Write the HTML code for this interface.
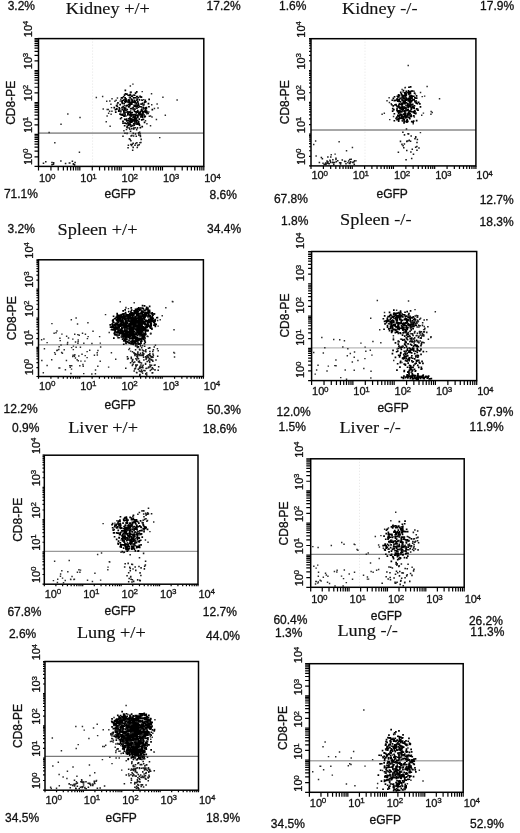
<!DOCTYPE html><html><head><meta charset="utf-8"><title>FACS</title><style>html,body{margin:0;padding:0;background:#fff;width:520px;height:833px;overflow:hidden}svg{display:block;filter:blur(0.35px)}text{font-kerning:none}text[font-family="Liberation Sans"]{stroke:#111;stroke-width:.3px}text[font-family="Liberation Serif"]{stroke:#111;stroke-width:.15px}</style></head><body><svg width="520" height="833" viewBox="0 0 520 833">
<rect width="520" height="833" fill="#fff"/>
<path d="M38.50 166.40v4M38.50 166.40h-4M50.94 166.40v4M38.50 156.78h-4M58.22 166.40v4M38.50 151.16h-4M63.38 166.40v4M38.50 147.16h-4M67.38 166.40v4M38.50 144.07h-4M70.66 166.40v4M38.50 141.54h-4M73.42 166.40v4M38.50 139.40h-4M75.82 166.40v4M38.50 137.55h-4M77.93 166.40v4M38.50 135.91h-4M79.83 166.40v4M38.50 134.45h-4M92.27 166.40v4M38.50 124.83h-4M99.54 166.40v4M38.50 119.21h-4M104.71 166.40v4M38.50 115.21h-4M108.71 166.40v4M38.50 112.12h-4M111.98 166.40v4M38.50 109.59h-4M114.75 166.40v4M38.50 107.45h-4M117.15 166.40v4M38.50 105.60h-4M119.26 166.40v4M38.50 103.96h-4M121.15 166.40v4M38.50 102.50h-4M133.59 166.40v4M38.50 92.88h-4M140.87 166.40v4M38.50 87.26h-4M146.03 166.40v4M38.50 83.26h-4M150.03 166.40v4M38.50 80.17h-4M153.31 166.40v4M38.50 77.64h-4M156.07 166.40v4M38.50 75.50h-4M158.47 166.40v4M38.50 73.65h-4M160.58 166.40v4M38.50 72.01h-4M162.48 166.40v4M38.50 70.55h-4M174.92 166.40v4M38.50 60.93h-4M182.19 166.40v4M38.50 55.31h-4M187.36 166.40v4M38.50 51.31h-4M191.36 166.40v4M38.50 48.22h-4M194.63 166.40v4M38.50 45.69h-4M197.40 166.40v4M38.50 43.55h-4M199.80 166.40v4M38.50 41.70h-4M201.91 166.40v4M38.50 40.06h-4M203.80 166.40v4M38.50 38.60h-4" stroke="#000" stroke-width="1.2" fill="none"/>
<line x1="92.6" y1="38.6" x2="92.6" y2="166.4" stroke="#ddd" stroke-width="0.8" stroke-dasharray="1 2"/>
<line x1="38.5" y1="133.1" x2="203.8" y2="133.1" stroke="#9a9a9a" stroke-width="1.8"/>
<path d="M142.2 112.1h1.7v1.7h-1.7zM132.3 106.8h1.7v1.7h-1.7zM135.5 102.3h1.7v1.7h-1.7zM136.3 98.6h1.7v1.7h-1.7zM142.4 106.6h1.7v1.7h-1.7zM134.2 117.6h1.7v1.7h-1.7zM137.8 112.3h1.7v1.7h-1.7zM123.4 112.5h1.7v1.7h-1.7zM124.7 101.3h1.7v1.7h-1.7zM124.2 113.4h1.7v1.7h-1.7zM124.8 99.4h1.7v1.7h-1.7zM137.0 115.5h1.7v1.7h-1.7zM130.3 107.8h1.7v1.7h-1.7zM123.1 111.2h1.7v1.7h-1.7zM130.7 95.3h1.7v1.7h-1.7zM130.9 103.0h1.7v1.7h-1.7zM141.5 110.2h1.7v1.7h-1.7zM141.3 115.5h1.7v1.7h-1.7zM141.9 114.6h1.7v1.7h-1.7zM135.3 111.0h1.7v1.7h-1.7zM141.0 108.5h1.7v1.7h-1.7zM123.9 100.9h1.7v1.7h-1.7zM121.6 101.7h1.7v1.7h-1.7zM141.1 113.3h1.7v1.7h-1.7zM146.1 111.1h1.7v1.7h-1.7zM135.9 95.8h1.7v1.7h-1.7zM124.6 93.0h1.7v1.7h-1.7zM131.2 100.7h1.7v1.7h-1.7zM134.3 113.8h1.7v1.7h-1.7zM147.2 112.6h1.7v1.7h-1.7zM126.5 100.5h1.7v1.7h-1.7zM123.2 115.3h1.7v1.7h-1.7zM145.0 106.9h1.7v1.7h-1.7zM137.3 123.3h1.7v1.7h-1.7zM134.1 108.3h1.7v1.7h-1.7zM123.0 110.1h1.7v1.7h-1.7zM129.1 116.4h1.7v1.7h-1.7zM134.6 100.6h1.7v1.7h-1.7zM126.8 111.0h1.7v1.7h-1.7zM129.9 101.4h1.7v1.7h-1.7zM124.5 89.6h1.7v1.7h-1.7zM144.4 115.4h1.7v1.7h-1.7zM129.1 102.6h1.7v1.7h-1.7zM139.6 114.4h1.7v1.7h-1.7zM133.4 114.5h1.7v1.7h-1.7zM117.9 110.4h1.7v1.7h-1.7zM126.9 111.6h1.7v1.7h-1.7zM132.8 114.5h1.7v1.7h-1.7zM133.2 94.2h1.7v1.7h-1.7zM138.7 113.7h1.7v1.7h-1.7zM129.0 114.1h1.7v1.7h-1.7zM130.2 125.5h1.7v1.7h-1.7zM123.7 94.2h1.7v1.7h-1.7zM129.0 94.3h1.7v1.7h-1.7zM133.3 104.6h1.7v1.7h-1.7zM121.1 101.1h1.7v1.7h-1.7zM126.0 120.1h1.7v1.7h-1.7zM144.6 111.6h1.7v1.7h-1.7zM139.0 112.6h1.7v1.7h-1.7zM126.1 93.3h1.7v1.7h-1.7zM122.3 105.7h1.7v1.7h-1.7zM141.2 113.7h1.7v1.7h-1.7zM135.6 117.5h1.7v1.7h-1.7zM141.8 102.5h1.7v1.7h-1.7zM131.0 103.2h1.7v1.7h-1.7zM129.3 111.0h1.7v1.7h-1.7zM143.6 110.8h1.7v1.7h-1.7zM115.7 104.7h1.7v1.7h-1.7zM131.7 107.4h1.7v1.7h-1.7zM148.1 105.9h1.7v1.7h-1.7zM122.1 120.5h1.7v1.7h-1.7zM137.1 116.1h1.7v1.7h-1.7zM134.9 119.3h1.7v1.7h-1.7zM138.9 112.3h1.7v1.7h-1.7zM137.1 110.4h1.7v1.7h-1.7zM132.2 116.6h1.7v1.7h-1.7zM144.2 101.0h1.7v1.7h-1.7zM139.7 96.1h1.7v1.7h-1.7zM124.4 98.5h1.7v1.7h-1.7zM137.5 96.9h1.7v1.7h-1.7zM134.1 101.7h1.7v1.7h-1.7zM140.8 115.6h1.7v1.7h-1.7zM142.1 118.4h1.7v1.7h-1.7zM118.0 109.6h1.7v1.7h-1.7zM133.8 94.4h1.7v1.7h-1.7zM129.6 93.4h1.7v1.7h-1.7zM120.6 116.9h1.7v1.7h-1.7zM129.7 112.7h1.7v1.7h-1.7zM122.2 113.6h1.7v1.7h-1.7zM118.8 108.1h1.7v1.7h-1.7zM140.6 109.1h1.7v1.7h-1.7zM131.4 95.6h1.7v1.7h-1.7zM128.4 111.2h1.7v1.7h-1.7zM140.6 96.2h1.7v1.7h-1.7zM137.5 102.7h1.7v1.7h-1.7zM117.1 102.0h1.7v1.7h-1.7zM127.9 106.1h1.7v1.7h-1.7zM129.8 107.7h1.7v1.7h-1.7zM125.1 98.1h1.7v1.7h-1.7zM119.7 117.9h1.7v1.7h-1.7zM133.9 116.4h1.7v1.7h-1.7zM136.1 119.5h1.7v1.7h-1.7zM134.3 105.5h1.7v1.7h-1.7zM121.5 102.6h1.7v1.7h-1.7zM133.5 120.6h1.7v1.7h-1.7zM148.3 98.6h1.7v1.7h-1.7zM115.9 107.9h1.7v1.7h-1.7zM138.2 111.4h1.7v1.7h-1.7zM127.0 114.1h1.7v1.7h-1.7zM129.3 96.7h1.7v1.7h-1.7zM132.5 114.1h1.7v1.7h-1.7zM129.3 101.5h1.7v1.7h-1.7zM144.8 108.5h1.7v1.7h-1.7zM134.3 105.5h1.7v1.7h-1.7zM131.4 100.1h1.7v1.7h-1.7zM113.4 106.8h1.7v1.7h-1.7zM121.4 108.7h1.7v1.7h-1.7zM118.4 106.9h1.7v1.7h-1.7zM135.2 111.2h1.7v1.7h-1.7zM138.4 112.6h1.7v1.7h-1.7zM128.0 103.8h1.7v1.7h-1.7zM134.8 104.5h1.7v1.7h-1.7zM136.8 109.7h1.7v1.7h-1.7zM140.2 105.9h1.7v1.7h-1.7zM123.5 109.0h1.7v1.7h-1.7zM127.8 100.2h1.7v1.7h-1.7zM122.8 99.3h1.7v1.7h-1.7zM138.4 118.3h1.7v1.7h-1.7zM129.7 91.4h1.7v1.7h-1.7zM127.7 101.6h1.7v1.7h-1.7zM133.4 105.2h1.7v1.7h-1.7zM147.6 102.8h1.7v1.7h-1.7zM129.5 114.4h1.7v1.7h-1.7zM120.2 113.8h1.7v1.7h-1.7zM121.3 99.9h1.7v1.7h-1.7zM129.4 119.8h1.7v1.7h-1.7zM127.0 112.2h1.7v1.7h-1.7zM127.7 99.1h1.7v1.7h-1.7zM133.8 120.3h1.7v1.7h-1.7zM142.6 104.2h1.7v1.7h-1.7zM133.6 100.1h1.7v1.7h-1.7zM140.0 116.0h1.7v1.7h-1.7zM138.0 104.5h1.7v1.7h-1.7zM119.7 110.8h1.7v1.7h-1.7zM123.0 110.1h1.7v1.7h-1.7zM116.0 108.2h1.7v1.7h-1.7zM146.0 111.7h1.7v1.7h-1.7zM136.7 115.8h1.7v1.7h-1.7zM131.6 100.1h1.7v1.7h-1.7zM114.6 108.7h1.7v1.7h-1.7zM135.0 105.8h1.7v1.7h-1.7zM145.5 107.6h1.7v1.7h-1.7zM136.8 104.5h1.7v1.7h-1.7zM135.9 114.6h1.7v1.7h-1.7zM135.3 114.2h1.7v1.7h-1.7zM119.3 103.7h1.7v1.7h-1.7zM134.1 117.6h1.7v1.7h-1.7zM129.7 103.3h1.7v1.7h-1.7zM120.7 97.0h1.7v1.7h-1.7zM144.3 110.0h1.7v1.7h-1.7zM143.9 116.1h1.7v1.7h-1.7zM135.5 102.7h1.7v1.7h-1.7zM136.1 99.4h1.7v1.7h-1.7zM124.2 114.8h1.7v1.7h-1.7zM124.8 100.0h1.7v1.7h-1.7zM127.7 113.0h1.7v1.7h-1.7zM132.5 101.3h1.7v1.7h-1.7zM142.9 110.8h1.7v1.7h-1.7zM142.2 113.6h1.7v1.7h-1.7zM129.0 103.9h1.7v1.7h-1.7zM119.7 110.2h1.7v1.7h-1.7zM143.8 101.4h1.7v1.7h-1.7zM133.7 110.6h1.7v1.7h-1.7zM133.6 99.5h1.7v1.7h-1.7zM132.9 97.1h1.7v1.7h-1.7zM124.7 107.2h1.7v1.7h-1.7zM133.9 104.9h1.7v1.7h-1.7zM130.6 102.1h1.7v1.7h-1.7zM139.2 95.6h1.7v1.7h-1.7zM137.0 101.0h1.7v1.7h-1.7zM127.4 111.8h1.7v1.7h-1.7zM131.6 100.1h1.7v1.7h-1.7zM141.9 111.2h1.7v1.7h-1.7zM124.8 108.8h1.7v1.7h-1.7zM123.5 115.4h1.7v1.7h-1.7zM131.6 99.2h1.7v1.7h-1.7zM128.7 104.2h1.7v1.7h-1.7zM125.4 105.1h1.7v1.7h-1.7zM126.4 108.8h1.7v1.7h-1.7zM124.3 97.1h1.7v1.7h-1.7zM151.5 108.8h1.7v1.7h-1.7zM128.2 101.3h1.7v1.7h-1.7zM121.5 97.0h1.7v1.7h-1.7zM138.9 105.9h1.7v1.7h-1.7zM128.2 106.0h1.7v1.7h-1.7zM127.0 112.1h1.7v1.7h-1.7zM123.4 102.9h1.7v1.7h-1.7zM130.7 98.8h1.7v1.7h-1.7zM134.8 120.4h1.7v1.7h-1.7zM144.4 99.5h1.7v1.7h-1.7zM125.1 108.5h1.7v1.7h-1.7zM145.0 100.9h1.7v1.7h-1.7zM122.2 120.5h1.7v1.7h-1.7zM125.5 99.5h1.7v1.7h-1.7zM134.6 114.9h1.7v1.7h-1.7zM122.7 95.9h1.7v1.7h-1.7zM144.7 110.0h1.7v1.7h-1.7zM130.2 118.1h1.7v1.7h-1.7zM142.9 107.5h1.7v1.7h-1.7zM139.2 113.5h1.7v1.7h-1.7zM139.4 111.8h1.7v1.7h-1.7zM125.2 109.3h1.7v1.7h-1.7zM138.2 122.7h1.7v1.7h-1.7zM137.4 106.4h1.7v1.7h-1.7zM126.4 104.6h1.7v1.7h-1.7zM136.6 95.7h1.7v1.7h-1.7zM132.3 108.5h1.7v1.7h-1.7zM119.9 113.4h1.7v1.7h-1.7zM121.9 113.6h1.7v1.7h-1.7zM130.6 98.3h1.7v1.7h-1.7zM141.4 99.4h1.7v1.7h-1.7zM130.2 112.0h1.7v1.7h-1.7zM121.2 106.7h1.7v1.7h-1.7zM136.2 111.3h1.7v1.7h-1.7zM124.8 111.4h1.7v1.7h-1.7zM144.7 106.9h1.7v1.7h-1.7zM130.2 115.6h1.7v1.7h-1.7zM135.9 91.1h1.7v1.7h-1.7zM133.3 113.7h1.7v1.7h-1.7zM128.6 101.6h1.7v1.7h-1.7zM135.6 114.5h1.7v1.7h-1.7zM141.8 102.8h1.7v1.7h-1.7zM124.0 108.5h1.7v1.7h-1.7zM129.1 104.7h1.7v1.7h-1.7zM138.5 99.0h1.7v1.7h-1.7zM123.3 107.1h1.7v1.7h-1.7zM133.5 119.1h1.7v1.7h-1.7zM141.8 116.2h1.7v1.7h-1.7zM127.3 94.4h1.7v1.7h-1.7zM114.9 111.2h1.7v1.7h-1.7zM133.2 108.7h1.7v1.7h-1.7zM116.5 105.6h1.7v1.7h-1.7zM140.5 103.3h1.7v1.7h-1.7zM136.1 107.4h1.7v1.7h-1.7zM119.2 113.3h1.7v1.7h-1.7zM131.2 101.3h1.7v1.7h-1.7zM132.5 115.0h1.7v1.7h-1.7zM139.7 110.7h1.7v1.7h-1.7zM134.3 96.9h1.7v1.7h-1.7zM134.7 92.2h1.7v1.7h-1.7zM136.3 105.3h1.7v1.7h-1.7zM136.3 105.4h1.7v1.7h-1.7zM126.4 104.9h1.7v1.7h-1.7zM128.6 99.7h1.7v1.7h-1.7zM134.4 115.4h1.7v1.7h-1.7zM125.7 122.8h1.7v1.7h-1.7zM121.5 114.3h1.7v1.7h-1.7zM123.3 107.7h1.7v1.7h-1.7zM145.7 110.3h1.7v1.7h-1.7zM145.6 106.8h1.7v1.7h-1.7zM123.8 124.9h1.7v1.7h-1.7zM130.8 119.6h1.7v1.7h-1.7zM136.2 123.4h1.7v1.7h-1.7zM134.2 122.3h1.7v1.7h-1.7zM142.6 118.5h1.7v1.7h-1.7zM130.8 121.3h1.7v1.7h-1.7zM129.7 124.1h1.7v1.7h-1.7zM127.5 119.9h1.7v1.7h-1.7zM133.9 117.5h1.7v1.7h-1.7zM136.7 119.9h1.7v1.7h-1.7zM133.1 119.5h1.7v1.7h-1.7zM134.2 116.4h1.7v1.7h-1.7zM137.8 120.8h1.7v1.7h-1.7zM128.9 123.4h1.7v1.7h-1.7zM136.5 122.3h1.7v1.7h-1.7zM132.9 122.9h1.7v1.7h-1.7zM128.7 117.7h1.7v1.7h-1.7zM131.5 120.5h1.7v1.7h-1.7zM137.4 122.6h1.7v1.7h-1.7zM133.4 124.3h1.7v1.7h-1.7zM127.1 121.9h1.7v1.7h-1.7zM137.3 123.0h1.7v1.7h-1.7zM130.9 114.1h1.7v1.7h-1.7zM138.7 124.2h1.7v1.7h-1.7zM131.9 118.5h1.7v1.7h-1.7zM129.2 120.7h1.7v1.7h-1.7zM139.5 126.8h1.7v1.7h-1.7zM132.0 119.0h1.7v1.7h-1.7zM135.2 122.9h1.7v1.7h-1.7zM131.7 124.8h1.7v1.7h-1.7zM135.1 117.4h1.7v1.7h-1.7zM126.5 125.4h1.7v1.7h-1.7zM133.4 116.0h1.7v1.7h-1.7zM127.6 123.2h1.7v1.7h-1.7zM127.5 124.4h1.7v1.7h-1.7zM135.5 121.2h1.7v1.7h-1.7zM139.6 114.0h1.7v1.7h-1.7zM132.9 128.1h1.7v1.7h-1.7zM134.7 121.5h1.7v1.7h-1.7zM123.9 118.6h1.7v1.7h-1.7zM134.3 120.0h1.7v1.7h-1.7zM127.9 118.1h1.7v1.7h-1.7zM129.2 122.1h1.7v1.7h-1.7zM125.8 118.3h1.7v1.7h-1.7zM129.4 118.0h1.7v1.7h-1.7zM128.6 120.6h1.7v1.7h-1.7zM141.4 125.8h1.7v1.7h-1.7zM137.1 114.2h1.7v1.7h-1.7zM130.1 119.2h1.7v1.7h-1.7zM134.8 120.7h1.7v1.7h-1.7zM128.8 123.9h1.7v1.7h-1.7zM122.2 122.4h1.7v1.7h-1.7zM136.7 116.6h1.7v1.7h-1.7zM143.7 121.5h1.7v1.7h-1.7zM140.9 119.0h1.7v1.7h-1.7zM124.1 122.3h1.7v1.7h-1.7zM134.6 117.0h1.7v1.7h-1.7zM135.1 119.0h1.7v1.7h-1.7zM131.3 111.8h1.7v1.7h-1.7zM125.2 118.9h1.7v1.7h-1.7z" fill="#000"/>
<path d="M136.5 146.7h1.55v1.55h-1.55zM138.1 132.1h1.55v1.55h-1.55zM124.2 132.4h1.55v1.55h-1.55zM126.3 132.6h1.55v1.55h-1.55zM136.1 142.0h1.55v1.55h-1.55zM138.9 131.6h1.55v1.55h-1.55zM131.0 134.7h1.55v1.55h-1.55zM128.6 127.2h1.55v1.55h-1.55zM135.9 128.7h1.55v1.55h-1.55zM130.1 143.7h1.55v1.55h-1.55zM132.5 132.6h1.55v1.55h-1.55zM132.8 135.3h1.55v1.55h-1.55zM129.4 138.8h1.55v1.55h-1.55zM138.0 134.2h1.55v1.55h-1.55zM128.6 138.1h1.55v1.55h-1.55zM134.7 133.1h1.55v1.55h-1.55zM127.3 146.9h1.55v1.55h-1.55zM135.5 123.2h1.55v1.55h-1.55zM122.2 135.5h1.55v1.55h-1.55zM140.1 141.8h1.55v1.55h-1.55zM134.4 127.0h1.55v1.55h-1.55zM131.6 143.5h1.55v1.55h-1.55zM126.9 126.9h1.55v1.55h-1.55zM134.2 144.5h1.55v1.55h-1.55zM130.1 140.0h1.55v1.55h-1.55zM129.1 128.5h1.55v1.55h-1.55zM132.8 124.7h1.55v1.55h-1.55zM136.7 127.1h1.55v1.55h-1.55zM129.8 130.4h1.55v1.55h-1.55zM131.9 149.4h1.55v1.55h-1.55zM126.1 126.4h1.55v1.55h-1.55zM132.8 127.2h1.55v1.55h-1.55zM130.3 135.2h1.55v1.55h-1.55zM139.6 134.6h1.55v1.55h-1.55zM137.8 132.4h1.55v1.55h-1.55zM138.5 144.0h1.55v1.55h-1.55zM125.7 128.8h1.55v1.55h-1.55zM137.0 144.6h1.55v1.55h-1.55zM134.5 121.2h1.55v1.55h-1.55zM130.8 144.7h1.55v1.55h-1.55zM140.4 138.6h1.55v1.55h-1.55zM139.2 141.9h1.55v1.55h-1.55zM135.5 135.4h1.55v1.55h-1.55zM127.6 144.5h1.55v1.55h-1.55zM139.7 135.7h1.55v1.55h-1.55zM132.4 146.6h1.55v1.55h-1.55zM135.9 129.0h1.55v1.55h-1.55zM134.9 142.7h1.55v1.55h-1.55zM131.0 128.0h1.55v1.55h-1.55zM132.4 142.5h1.55v1.55h-1.55zM74.3 161.8h1.55v1.55h-1.55zM72.7 163.5h1.55v1.55h-1.55zM42.7 162.5h1.55v1.55h-1.55zM51.2 161.8h1.55v1.55h-1.55zM60.1 160.3h1.55v1.55h-1.55zM69.0 162.2h1.55v1.55h-1.55zM68.6 162.3h1.55v1.55h-1.55zM52.9 162.1h1.55v1.55h-1.55zM52.7 163.5h1.55v1.55h-1.55zM51.2 164.0h1.55v1.55h-1.55zM72.6 163.1h1.55v1.55h-1.55zM64.8 162.7h1.55v1.55h-1.55zM73.8 164.1h1.55v1.55h-1.55zM71.6 160.4h1.55v1.55h-1.55zM45.0 161.0h1.55v1.55h-1.55z" fill="#1a1a1a"/>
<path d="M110.8 106.9h1.45v1.45h-1.45zM156.4 103.2h1.45v1.45h-1.45zM162.2 96.5h1.45v1.45h-1.45zM155.7 118.7h1.45v1.45h-1.45zM157.3 107.2h1.45v1.45h-1.45zM133.4 114.9h1.45v1.45h-1.45zM116.7 97.3h1.45v1.45h-1.45zM115.4 99.5h1.45v1.45h-1.45zM146.2 123.0h1.45v1.45h-1.45zM110.2 103.6h1.45v1.45h-1.45zM126.0 111.5h1.45v1.45h-1.45zM110.4 113.6h1.45v1.45h-1.45zM146.0 113.0h1.45v1.45h-1.45zM105.5 121.1h1.45v1.45h-1.45zM149.8 125.1h1.45v1.45h-1.45zM116.6 103.2h1.45v1.45h-1.45zM143.0 98.9h1.45v1.45h-1.45zM132.2 107.5h1.45v1.45h-1.45zM129.6 85.3h1.45v1.45h-1.45zM134.7 122.3h1.45v1.45h-1.45zM148.6 115.6h1.45v1.45h-1.45zM125.4 115.3h1.45v1.45h-1.45zM142.8 104.5h1.45v1.45h-1.45zM143.6 114.6h1.45v1.45h-1.45zM125.6 108.9h1.45v1.45h-1.45zM123.0 113.6h1.45v1.45h-1.45zM130.5 91.6h1.45v1.45h-1.45zM120.1 110.9h1.45v1.45h-1.45zM107.9 112.5h1.45v1.45h-1.45zM176.4 99.2h1.45v1.45h-1.45zM120.1 98.8h1.45v1.45h-1.45zM130.0 110.3h1.45v1.45h-1.45zM133.4 108.5h1.45v1.45h-1.45zM140.2 103.4h1.45v1.45h-1.45zM108.9 110.5h1.45v1.45h-1.45zM149.8 115.3h1.45v1.45h-1.45zM139.5 132.9h1.45v1.45h-1.45zM140.8 99.2h1.45v1.45h-1.45zM95.6 96.8h1.45v1.45h-1.45zM135.6 112.8h1.45v1.45h-1.45zM143.5 103.3h1.45v1.45h-1.45zM132.2 83.4h1.45v1.45h-1.45zM111.2 110.5h1.45v1.45h-1.45zM141.2 106.7h1.45v1.45h-1.45zM151.3 116.2h1.45v1.45h-1.45zM143.3 113.9h1.45v1.45h-1.45zM151.0 104.1h1.45v1.45h-1.45zM142.9 108.4h1.45v1.45h-1.45zM128.8 98.6h1.45v1.45h-1.45zM107.6 108.7h1.45v1.45h-1.45zM109.1 100.3h1.45v1.45h-1.45zM111.3 98.0h1.45v1.45h-1.45zM129.5 125.1h1.45v1.45h-1.45zM119.5 100.4h1.45v1.45h-1.45zM131.9 94.8h1.45v1.45h-1.45zM102.5 108.2h1.45v1.45h-1.45zM141.5 90.9h1.45v1.45h-1.45zM123.8 105.1h1.45v1.45h-1.45zM139.6 115.1h1.45v1.45h-1.45zM106.0 100.5h1.45v1.45h-1.45zM101.9 95.7h1.45v1.45h-1.45zM164.6 114.5h1.45v1.45h-1.45zM150.8 93.1h1.45v1.45h-1.45zM153.7 107.8h1.45v1.45h-1.45zM106.5 108.7h1.45v1.45h-1.45zM124.6 112.3h1.45v1.45h-1.45zM148.1 111.2h1.45v1.45h-1.45zM128.6 96.4h1.45v1.45h-1.45zM123.2 130.1h1.45v1.45h-1.45zM144.8 120.1h1.45v1.45h-1.45zM54.1 142.1h1.45v1.45h-1.45zM78.7 151.5h1.45v1.45h-1.45zM60.3 123.6h1.45v1.45h-1.45zM67.1 113.3h1.45v1.45h-1.45zM79.3 116.7h1.45v1.45h-1.45zM48.4 131.8h1.45v1.45h-1.45zM136.0 97.3h1.45v1.45h-1.45zM114.2 100.5h1.45v1.45h-1.45zM106.4 115.3h1.45v1.45h-1.45zM109.4 125.6h1.45v1.45h-1.45zM159.0 136.9h1.45v1.45h-1.45zM126.9 101.2h1.45v1.45h-1.45z" fill="#2a2a2a"/>
<rect x="38.5" y="38.6" width="165.30" height="127.80" fill="none" stroke="#000" stroke-width="1.5"/>
<text x="38.96" y="181.90" font-family="Liberation Sans" font-size="11" fill="#111">10</text>
<text x="50.90" y="178.50" font-family="Liberation Sans" font-size="8" fill="#111">0</text>
<g transform="translate(31.50,165.04) rotate(-90)"><text x="0" y="0" font-family="Liberation Sans" font-size="11" fill="#111">10</text><text x="11.94" y="-3.4" font-family="Liberation Sans" font-size="8" fill="#111">0</text></g>
<text x="80.29" y="181.90" font-family="Liberation Sans" font-size="11" fill="#111">10</text>
<text x="92.22" y="178.50" font-family="Liberation Sans" font-size="8" fill="#111">1</text>
<g transform="translate(31.50,133.09) rotate(-90)"><text x="0" y="0" font-family="Liberation Sans" font-size="11" fill="#111">10</text><text x="11.94" y="-3.4" font-family="Liberation Sans" font-size="8" fill="#111">1</text></g>
<text x="121.61" y="181.90" font-family="Liberation Sans" font-size="11" fill="#111">10</text>
<text x="133.55" y="178.50" font-family="Liberation Sans" font-size="8" fill="#111">2</text>
<g transform="translate(31.50,101.14) rotate(-90)"><text x="0" y="0" font-family="Liberation Sans" font-size="11" fill="#111">10</text><text x="11.94" y="-3.4" font-family="Liberation Sans" font-size="8" fill="#111">2</text></g>
<text x="162.94" y="181.90" font-family="Liberation Sans" font-size="11" fill="#111">10</text>
<text x="174.87" y="178.50" font-family="Liberation Sans" font-size="8" fill="#111">3</text>
<g transform="translate(31.50,69.19) rotate(-90)"><text x="0" y="0" font-family="Liberation Sans" font-size="11" fill="#111">10</text><text x="11.94" y="-3.4" font-family="Liberation Sans" font-size="8" fill="#111">3</text></g>
<text x="204.26" y="181.90" font-family="Liberation Sans" font-size="11" fill="#111">10</text>
<text x="216.20" y="178.50" font-family="Liberation Sans" font-size="8" fill="#111">4</text>
<g transform="translate(31.50,37.24) rotate(-90)"><text x="0" y="0" font-family="Liberation Sans" font-size="11" fill="#111">10</text><text x="11.94" y="-3.4" font-family="Liberation Sans" font-size="8" fill="#111">4</text></g>
<text transform="translate(65.87,13.70) scale(1.075,1)" font-family="Liberation Serif" font-size="17" fill="#111">Kidney +/+</text>
<text x="7.64" y="9.80" font-family="Liberation Sans" font-size="12" fill="#111" >3.2%</text>
<text x="206.59" y="10.00" font-family="Liberation Sans" font-size="12" fill="#111" >17.2%</text>
<text x="3.88" y="198.00" font-family="Liberation Sans" font-size="12" fill="#111" >71.1%</text>
<text x="209.48" y="198.90" font-family="Liberation Sans" font-size="12" fill="#111" >8.6%</text>
<text x="104.49" y="198.00" font-family="Liberation Sans" font-size="12" fill="#111" >eGFP</text>
<text transform="translate(15.40,124.81) rotate(-90)" font-family="Liberation Sans" font-size="12" fill="#111">CD8-PE</text>
<path d="M311.00 165.90v3M311.00 165.90h-2M323.41 165.90v3M311.00 156.33h-2M330.67 165.90v3M311.00 150.73h-2M335.82 165.90v3M311.00 146.75h-2M339.82 165.90v3M311.00 143.67h-2M343.08 165.90v3M311.00 141.15h-2M345.84 165.90v3M311.00 139.03h-2M348.23 165.90v3M311.00 137.18h-2M350.34 165.90v3M311.00 135.56h-2M352.23 165.90v3M311.00 134.10h-2M364.63 165.90v3M311.00 124.53h-2M371.89 165.90v3M311.00 118.93h-2M377.04 165.90v3M311.00 114.95h-2M381.04 165.90v3M311.00 111.87h-2M384.30 165.90v3M311.00 109.35h-2M387.06 165.90v3M311.00 107.23h-2M389.45 165.90v3M311.00 105.38h-2M391.56 165.90v3M311.00 103.76h-2M393.45 165.90v3M311.00 102.30h-2M405.86 165.90v3M311.00 92.73h-2M413.12 165.90v3M311.00 87.13h-2M418.27 165.90v3M311.00 83.15h-2M422.27 165.90v3M311.00 80.07h-2M425.53 165.90v3M311.00 77.55h-2M428.29 165.90v3M311.00 75.43h-2M430.68 165.90v3M311.00 73.58h-2M432.79 165.90v3M311.00 71.96h-2M434.67 165.90v3M311.00 70.50h-2M447.08 165.90v3M311.00 60.93h-2M454.34 165.90v3M311.00 55.33h-2M459.49 165.90v3M311.00 51.35h-2M463.49 165.90v3M311.00 48.27h-2M466.75 165.90v3M311.00 45.75h-2M469.51 165.90v3M311.00 43.63h-2M471.90 165.90v3M311.00 41.78h-2M474.01 165.90v3M311.00 40.16h-2M475.90 165.90v3M311.00 38.70h-2" stroke="#000" stroke-width="1.2" fill="none"/>
<line x1="365" y1="38.7" x2="365" y2="165.9" stroke="#ddd" stroke-width="0.8" stroke-dasharray="1 2"/>
<line x1="311" y1="130" x2="475.9" y2="130" stroke="#8a8a8a" stroke-width="1.4"/>
<path d="M415.8 119.8h1.7v1.7h-1.7zM409.3 105.8h1.7v1.7h-1.7zM402.0 107.7h1.7v1.7h-1.7zM414.2 110.4h1.7v1.7h-1.7zM409.9 115.8h1.7v1.7h-1.7zM411.7 106.8h1.7v1.7h-1.7zM401.9 110.2h1.7v1.7h-1.7zM402.7 100.8h1.7v1.7h-1.7zM417.2 109.4h1.7v1.7h-1.7zM415.7 95.0h1.7v1.7h-1.7zM406.1 121.3h1.7v1.7h-1.7zM403.1 96.1h1.7v1.7h-1.7zM402.5 117.2h1.7v1.7h-1.7zM409.1 102.3h1.7v1.7h-1.7zM404.0 115.2h1.7v1.7h-1.7zM399.3 97.5h1.7v1.7h-1.7zM403.3 107.5h1.7v1.7h-1.7zM397.8 120.2h1.7v1.7h-1.7zM403.8 102.8h1.7v1.7h-1.7zM397.8 112.2h1.7v1.7h-1.7zM415.2 97.4h1.7v1.7h-1.7zM403.1 106.3h1.7v1.7h-1.7zM409.4 102.2h1.7v1.7h-1.7zM408.9 110.9h1.7v1.7h-1.7zM392.5 97.6h1.7v1.7h-1.7zM406.3 119.0h1.7v1.7h-1.7zM403.0 118.7h1.7v1.7h-1.7zM404.9 117.0h1.7v1.7h-1.7zM407.5 103.8h1.7v1.7h-1.7zM412.2 106.7h1.7v1.7h-1.7zM408.0 97.9h1.7v1.7h-1.7zM404.1 98.7h1.7v1.7h-1.7zM402.5 117.5h1.7v1.7h-1.7zM402.3 102.0h1.7v1.7h-1.7zM405.5 115.4h1.7v1.7h-1.7zM401.6 97.9h1.7v1.7h-1.7zM409.6 92.4h1.7v1.7h-1.7zM398.7 94.6h1.7v1.7h-1.7zM405.4 109.8h1.7v1.7h-1.7zM400.6 117.1h1.7v1.7h-1.7zM409.2 99.1h1.7v1.7h-1.7zM412.4 110.9h1.7v1.7h-1.7zM406.4 104.8h1.7v1.7h-1.7zM394.2 104.0h1.7v1.7h-1.7zM411.2 97.3h1.7v1.7h-1.7zM408.1 93.3h1.7v1.7h-1.7zM406.4 109.3h1.7v1.7h-1.7zM409.4 98.5h1.7v1.7h-1.7zM390.9 103.9h1.7v1.7h-1.7zM403.0 97.9h1.7v1.7h-1.7zM409.2 102.0h1.7v1.7h-1.7zM404.7 106.7h1.7v1.7h-1.7zM398.9 114.6h1.7v1.7h-1.7zM405.6 93.0h1.7v1.7h-1.7zM410.8 103.9h1.7v1.7h-1.7zM409.1 109.9h1.7v1.7h-1.7zM407.2 104.8h1.7v1.7h-1.7zM410.3 114.3h1.7v1.7h-1.7zM409.8 103.6h1.7v1.7h-1.7zM405.3 97.3h1.7v1.7h-1.7zM403.7 101.9h1.7v1.7h-1.7zM410.3 95.1h1.7v1.7h-1.7zM396.9 100.3h1.7v1.7h-1.7zM409.5 99.4h1.7v1.7h-1.7zM402.5 107.9h1.7v1.7h-1.7zM403.2 96.6h1.7v1.7h-1.7zM398.3 99.2h1.7v1.7h-1.7zM410.9 120.8h1.7v1.7h-1.7zM402.4 108.4h1.7v1.7h-1.7zM397.9 119.5h1.7v1.7h-1.7zM396.1 99.0h1.7v1.7h-1.7zM391.9 107.7h1.7v1.7h-1.7zM409.2 114.9h1.7v1.7h-1.7zM412.6 111.5h1.7v1.7h-1.7zM406.8 116.2h1.7v1.7h-1.7zM401.7 110.2h1.7v1.7h-1.7zM406.0 91.8h1.7v1.7h-1.7zM407.7 91.4h1.7v1.7h-1.7zM403.7 110.1h1.7v1.7h-1.7zM406.7 98.2h1.7v1.7h-1.7zM409.4 113.1h1.7v1.7h-1.7zM413.7 109.7h1.7v1.7h-1.7zM406.7 108.8h1.7v1.7h-1.7zM400.8 111.1h1.7v1.7h-1.7zM404.2 93.5h1.7v1.7h-1.7zM408.7 113.5h1.7v1.7h-1.7zM400.2 117.4h1.7v1.7h-1.7zM412.3 121.3h1.7v1.7h-1.7zM403.5 114.8h1.7v1.7h-1.7zM404.4 101.0h1.7v1.7h-1.7zM400.1 107.0h1.7v1.7h-1.7zM402.6 118.2h1.7v1.7h-1.7zM407.2 109.2h1.7v1.7h-1.7zM413.1 107.0h1.7v1.7h-1.7zM398.6 114.3h1.7v1.7h-1.7zM391.8 110.3h1.7v1.7h-1.7zM404.9 112.4h1.7v1.7h-1.7zM407.6 112.6h1.7v1.7h-1.7zM398.2 106.0h1.7v1.7h-1.7zM409.0 117.9h1.7v1.7h-1.7zM410.3 108.5h1.7v1.7h-1.7zM393.5 119.9h1.7v1.7h-1.7zM404.7 115.7h1.7v1.7h-1.7zM409.5 98.3h1.7v1.7h-1.7zM395.9 104.9h1.7v1.7h-1.7zM407.9 98.1h1.7v1.7h-1.7zM399.9 91.6h1.7v1.7h-1.7zM407.1 106.1h1.7v1.7h-1.7zM400.7 104.0h1.7v1.7h-1.7zM407.3 99.9h1.7v1.7h-1.7zM405.7 102.0h1.7v1.7h-1.7zM409.5 96.9h1.7v1.7h-1.7zM403.2 101.7h1.7v1.7h-1.7zM414.3 101.0h1.7v1.7h-1.7zM400.7 106.3h1.7v1.7h-1.7zM394.7 99.5h1.7v1.7h-1.7zM395.3 117.4h1.7v1.7h-1.7zM409.3 100.1h1.7v1.7h-1.7zM404.1 112.2h1.7v1.7h-1.7zM400.4 108.4h1.7v1.7h-1.7zM409.9 94.5h1.7v1.7h-1.7zM403.3 97.9h1.7v1.7h-1.7zM404.8 113.2h1.7v1.7h-1.7zM400.5 106.4h1.7v1.7h-1.7zM398.5 106.8h1.7v1.7h-1.7zM393.0 108.7h1.7v1.7h-1.7zM398.2 106.2h1.7v1.7h-1.7zM411.7 104.0h1.7v1.7h-1.7zM407.3 108.8h1.7v1.7h-1.7zM404.6 115.2h1.7v1.7h-1.7zM401.6 103.3h1.7v1.7h-1.7zM407.1 113.1h1.7v1.7h-1.7zM397.2 110.4h1.7v1.7h-1.7zM406.3 115.3h1.7v1.7h-1.7zM410.3 106.6h1.7v1.7h-1.7zM402.7 118.2h1.7v1.7h-1.7zM396.9 99.3h1.7v1.7h-1.7zM406.9 103.1h1.7v1.7h-1.7zM405.3 120.8h1.7v1.7h-1.7zM407.3 106.6h1.7v1.7h-1.7zM412.8 120.2h1.7v1.7h-1.7zM396.1 116.3h1.7v1.7h-1.7zM402.6 89.7h1.7v1.7h-1.7zM399.2 110.1h1.7v1.7h-1.7zM408.0 112.5h1.7v1.7h-1.7zM414.0 96.9h1.7v1.7h-1.7zM405.0 108.5h1.7v1.7h-1.7zM407.7 99.8h1.7v1.7h-1.7zM396.5 95.4h1.7v1.7h-1.7zM400.5 92.9h1.7v1.7h-1.7zM407.3 113.6h1.7v1.7h-1.7zM397.8 95.8h1.7v1.7h-1.7zM398.6 116.4h1.7v1.7h-1.7zM398.1 99.9h1.7v1.7h-1.7zM410.6 108.0h1.7v1.7h-1.7zM411.8 90.2h1.7v1.7h-1.7zM407.6 97.5h1.7v1.7h-1.7zM399.6 113.3h1.7v1.7h-1.7zM397.3 96.1h1.7v1.7h-1.7zM398.0 104.3h1.7v1.7h-1.7zM404.6 98.4h1.7v1.7h-1.7zM416.7 109.1h1.7v1.7h-1.7zM397.0 114.5h1.7v1.7h-1.7zM413.0 95.4h1.7v1.7h-1.7zM403.2 122.1h1.7v1.7h-1.7zM409.6 91.9h1.7v1.7h-1.7zM410.6 115.3h1.7v1.7h-1.7zM408.9 90.9h1.7v1.7h-1.7zM402.7 100.1h1.7v1.7h-1.7zM403.4 118.6h1.7v1.7h-1.7zM404.0 101.8h1.7v1.7h-1.7zM397.8 118.1h1.7v1.7h-1.7zM406.0 116.6h1.7v1.7h-1.7zM402.4 100.7h1.7v1.7h-1.7zM405.6 104.7h1.7v1.7h-1.7zM398.0 100.5h1.7v1.7h-1.7zM408.4 116.7h1.7v1.7h-1.7zM392.4 105.0h1.7v1.7h-1.7zM403.9 95.0h1.7v1.7h-1.7zM404.2 99.0h1.7v1.7h-1.7zM415.8 108.0h1.7v1.7h-1.7zM419.6 106.0h1.7v1.7h-1.7zM413.2 111.1h1.7v1.7h-1.7zM410.5 90.2h1.7v1.7h-1.7zM400.5 117.2h1.7v1.7h-1.7zM396.8 110.7h1.7v1.7h-1.7zM404.0 92.1h1.7v1.7h-1.7zM415.0 112.2h1.7v1.7h-1.7zM401.8 109.2h1.7v1.7h-1.7zM407.1 114.6h1.7v1.7h-1.7zM397.8 110.0h1.7v1.7h-1.7zM401.5 119.9h1.7v1.7h-1.7zM405.9 119.7h1.7v1.7h-1.7zM397.7 114.8h1.7v1.7h-1.7zM405.2 107.4h1.7v1.7h-1.7zM419.0 103.1h1.7v1.7h-1.7zM405.4 102.0h1.7v1.7h-1.7zM407.0 120.6h1.7v1.7h-1.7zM393.7 95.9h1.7v1.7h-1.7zM402.9 116.3h1.7v1.7h-1.7zM393.5 99.7h1.7v1.7h-1.7zM403.7 100.8h1.7v1.7h-1.7zM396.5 106.0h1.7v1.7h-1.7zM399.0 103.4h1.7v1.7h-1.7zM403.3 95.4h1.7v1.7h-1.7zM401.3 99.2h1.7v1.7h-1.7zM402.7 94.7h1.7v1.7h-1.7zM409.9 104.4h1.7v1.7h-1.7zM408.8 104.6h1.7v1.7h-1.7zM401.1 115.6h1.7v1.7h-1.7zM396.3 97.9h1.7v1.7h-1.7zM408.1 104.0h1.7v1.7h-1.7zM407.6 111.3h1.7v1.7h-1.7zM404.9 98.3h1.7v1.7h-1.7zM408.8 100.4h1.7v1.7h-1.7zM404.9 92.0h1.7v1.7h-1.7zM405.4 90.6h1.7v1.7h-1.7zM407.0 113.8h1.7v1.7h-1.7zM404.2 113.7h1.7v1.7h-1.7zM391.4 99.4h1.7v1.7h-1.7zM406.5 98.7h1.7v1.7h-1.7zM409.3 96.2h1.7v1.7h-1.7zM407.7 90.0h1.7v1.7h-1.7zM409.3 100.3h1.7v1.7h-1.7zM409.8 86.0h1.7v1.7h-1.7zM413.6 105.1h1.7v1.7h-1.7zM399.2 107.9h1.7v1.7h-1.7zM401.2 114.4h1.7v1.7h-1.7zM415.6 101.3h1.7v1.7h-1.7zM396.1 118.8h1.7v1.7h-1.7zM402.4 116.0h1.7v1.7h-1.7zM403.1 101.3h1.7v1.7h-1.7zM404.9 113.9h1.7v1.7h-1.7zM404.8 96.0h1.7v1.7h-1.7zM408.1 92.4h1.7v1.7h-1.7zM400.6 113.7h1.7v1.7h-1.7zM415.8 97.3h1.7v1.7h-1.7zM409.8 104.8h1.7v1.7h-1.7zM408.5 105.3h1.7v1.7h-1.7zM403.8 113.2h1.7v1.7h-1.7zM404.0 102.9h1.7v1.7h-1.7zM411.1 95.7h1.7v1.7h-1.7zM402.8 113.3h1.7v1.7h-1.7zM410.6 100.8h1.7v1.7h-1.7zM395.2 103.7h1.7v1.7h-1.7zM408.9 102.2h1.7v1.7h-1.7zM413.3 107.2h1.7v1.7h-1.7zM408.4 93.5h1.7v1.7h-1.7zM398.6 117.8h1.7v1.7h-1.7zM411.9 105.9h1.7v1.7h-1.7zM412.3 98.9h1.7v1.7h-1.7zM405.0 113.7h1.7v1.7h-1.7zM398.1 115.9h1.7v1.7h-1.7zM403.4 120.6h1.7v1.7h-1.7zM408.0 92.1h1.7v1.7h-1.7zM409.9 115.8h1.7v1.7h-1.7zM417.8 101.5h1.7v1.7h-1.7zM404.7 96.0h1.7v1.7h-1.7zM410.1 95.3h1.7v1.7h-1.7zM398.7 94.7h1.7v1.7h-1.7zM401.6 106.6h1.7v1.7h-1.7zM402.0 97.6h1.7v1.7h-1.7zM411.8 99.4h1.7v1.7h-1.7zM401.3 110.0h1.7v1.7h-1.7zM397.7 94.0h1.7v1.7h-1.7zM396.9 118.2h1.7v1.7h-1.7zM400.6 103.3h1.7v1.7h-1.7zM404.9 113.0h1.7v1.7h-1.7zM413.0 115.0h1.7v1.7h-1.7zM405.1 107.1h1.7v1.7h-1.7zM399.0 106.6h1.7v1.7h-1.7zM398.8 111.4h1.7v1.7h-1.7zM393.5 112.9h1.7v1.7h-1.7zM413.7 112.3h1.7v1.7h-1.7zM408.9 105.8h1.7v1.7h-1.7zM401.8 102.9h1.7v1.7h-1.7zM401.5 105.2h1.7v1.7h-1.7zM407.6 105.6h1.7v1.7h-1.7zM401.5 117.8h1.7v1.7h-1.7zM400.4 111.0h1.7v1.7h-1.7zM408.8 95.5h1.7v1.7h-1.7zM411.0 97.6h1.7v1.7h-1.7zM397.1 99.1h1.7v1.7h-1.7zM401.4 95.3h1.7v1.7h-1.7zM398.8 106.9h1.7v1.7h-1.7zM408.6 111.1h1.7v1.7h-1.7zM414.1 100.2h1.7v1.7h-1.7zM413.3 98.8h1.7v1.7h-1.7zM405.3 99.2h1.7v1.7h-1.7zM413.7 92.3h1.7v1.7h-1.7zM399.7 101.1h1.7v1.7h-1.7zM409.6 102.6h1.7v1.7h-1.7zM398.2 98.8h1.7v1.7h-1.7zM407.6 100.0h1.7v1.7h-1.7zM409.7 98.3h1.7v1.7h-1.7zM405.5 94.2h1.7v1.7h-1.7zM400.4 97.8h1.7v1.7h-1.7zM404.3 99.9h1.7v1.7h-1.7zM408.1 86.4h1.7v1.7h-1.7zM415.4 102.3h1.7v1.7h-1.7zM414.8 112.9h1.7v1.7h-1.7zM396.2 108.0h1.7v1.7h-1.7zM398.6 103.1h1.7v1.7h-1.7zM401.0 102.8h1.7v1.7h-1.7zM401.5 96.6h1.7v1.7h-1.7zM401.7 105.9h1.7v1.7h-1.7zM401.0 93.9h1.7v1.7h-1.7zM400.7 115.2h1.7v1.7h-1.7zM411.0 99.9h1.7v1.7h-1.7zM403.0 115.9h1.7v1.7h-1.7zM396.1 109.6h1.7v1.7h-1.7zM416.6 102.8h1.7v1.7h-1.7zM398.1 111.2h1.7v1.7h-1.7zM398.6 100.6h1.7v1.7h-1.7zM411.9 103.6h1.7v1.7h-1.7zM411.3 95.3h1.7v1.7h-1.7zM410.6 110.8h1.7v1.7h-1.7zM403.9 102.7h1.7v1.7h-1.7zM409.5 102.9h1.7v1.7h-1.7zM404.1 110.5h1.7v1.7h-1.7z" fill="#000"/>
<path d="M410.9 157.8h1.55v1.55h-1.55zM406.9 140.2h1.55v1.55h-1.55zM405.3 158.9h1.55v1.55h-1.55zM414.9 146.5h1.55v1.55h-1.55zM414.2 137.9h1.55v1.55h-1.55zM414.9 136.6h1.55v1.55h-1.55zM416.6 138.8h1.55v1.55h-1.55zM403.6 143.2h1.55v1.55h-1.55zM410.4 135.3h1.55v1.55h-1.55zM416.2 149.5h1.55v1.55h-1.55zM412.7 153.4h1.55v1.55h-1.55zM407.8 132.9h1.55v1.55h-1.55zM418.2 147.3h1.55v1.55h-1.55zM415.0 136.1h1.55v1.55h-1.55zM410.1 151.2h1.55v1.55h-1.55zM405.7 128.2h1.55v1.55h-1.55zM416.2 141.7h1.55v1.55h-1.55zM401.2 143.6h1.55v1.55h-1.55zM411.5 148.5h1.55v1.55h-1.55zM403.0 146.9h1.55v1.55h-1.55zM399.7 140.6h1.55v1.55h-1.55zM406.0 140.6h1.55v1.55h-1.55zM402.3 144.9h1.55v1.55h-1.55zM406.0 149.7h1.55v1.55h-1.55zM402.1 131.4h1.55v1.55h-1.55zM416.1 145.8h1.55v1.55h-1.55zM407.3 132.9h1.55v1.55h-1.55zM397.6 151.5h1.55v1.55h-1.55zM403.7 134.1h1.55v1.55h-1.55zM409.8 140.5h1.55v1.55h-1.55zM408.5 139.6h1.55v1.55h-1.55zM335.2 158.8h1.55v1.55h-1.55zM347.9 160.2h1.55v1.55h-1.55zM327.7 162.8h1.55v1.55h-1.55zM329.5 160.2h1.55v1.55h-1.55zM328.4 162.9h1.55v1.55h-1.55zM337.0 159.9h1.55v1.55h-1.55zM350.4 158.4h1.55v1.55h-1.55zM353.8 159.9h1.55v1.55h-1.55zM348.6 162.6h1.55v1.55h-1.55zM335.5 161.0h1.55v1.55h-1.55zM326.3 160.8h1.55v1.55h-1.55zM348.9 162.2h1.55v1.55h-1.55zM318.6 161.7h1.55v1.55h-1.55zM338.9 162.0h1.55v1.55h-1.55zM320.6 156.7h1.55v1.55h-1.55zM332.1 159.0h1.55v1.55h-1.55zM326.3 160.2h1.55v1.55h-1.55zM331.8 161.6h1.55v1.55h-1.55zM332.2 161.8h1.55v1.55h-1.55zM325.4 163.2h1.55v1.55h-1.55zM349.2 162.8h1.55v1.55h-1.55zM353.5 163.5h1.55v1.55h-1.55zM345.2 163.0h1.55v1.55h-1.55zM333.0 163.8h1.55v1.55h-1.55zM324.9 162.2h1.55v1.55h-1.55zM327.1 156.3h1.55v1.55h-1.55zM327.1 162.4h1.55v1.55h-1.55zM339.8 163.1h1.55v1.55h-1.55zM329.9 161.7h1.55v1.55h-1.55zM326.7 161.9h1.55v1.55h-1.55zM332.7 161.9h1.55v1.55h-1.55zM348.9 158.8h1.55v1.55h-1.55zM321.6 157.9h1.55v1.55h-1.55zM349.9 161.1h1.55v1.55h-1.55zM351.9 161.8h1.55v1.55h-1.55zM344.9 160.8h1.55v1.55h-1.55zM329.2 159.4h1.55v1.55h-1.55zM324.9 163.5h1.55v1.55h-1.55zM343.9 160.6h1.55v1.55h-1.55zM330.0 156.3h1.55v1.55h-1.55zM327.1 161.0h1.55v1.55h-1.55zM341.5 159.2h1.55v1.55h-1.55zM335.2 157.4h1.55v1.55h-1.55zM340.0 162.0h1.55v1.55h-1.55zM333.7 161.7h1.55v1.55h-1.55zM323.4 163.4h1.55v1.55h-1.55zM353.3 160.9h1.55v1.55h-1.55zM352.2 161.6h1.55v1.55h-1.55z" fill="#1a1a1a"/>
<path d="M421.0 114.6h1.45v1.45h-1.45zM409.0 94.5h1.45v1.45h-1.45zM381.4 113.6h1.45v1.45h-1.45zM402.3 110.8h1.45v1.45h-1.45zM413.3 90.6h1.45v1.45h-1.45zM409.7 113.9h1.45v1.45h-1.45zM406.9 116.7h1.45v1.45h-1.45zM426.4 85.8h1.45v1.45h-1.45zM401.4 98.1h1.45v1.45h-1.45zM397.2 97.1h1.45v1.45h-1.45zM401.4 88.8h1.45v1.45h-1.45zM405.9 91.9h1.45v1.45h-1.45zM423.9 95.4h1.45v1.45h-1.45zM413.6 116.2h1.45v1.45h-1.45zM390.5 103.1h1.45v1.45h-1.45zM395.6 118.3h1.45v1.45h-1.45zM412.5 123.0h1.45v1.45h-1.45zM389.0 118.9h1.45v1.45h-1.45zM405.2 104.6h1.45v1.45h-1.45zM414.7 93.4h1.45v1.45h-1.45zM407.9 102.7h1.45v1.45h-1.45zM404.6 86.8h1.45v1.45h-1.45zM419.8 91.7h1.45v1.45h-1.45zM411.5 90.3h1.45v1.45h-1.45zM402.2 120.3h1.45v1.45h-1.45zM421.5 95.9h1.45v1.45h-1.45zM403.8 96.2h1.45v1.45h-1.45zM392.8 115.8h1.45v1.45h-1.45zM386.3 100.0h1.45v1.45h-1.45zM405.2 108.7h1.45v1.45h-1.45zM430.4 110.7h1.45v1.45h-1.45zM438.8 98.1h1.45v1.45h-1.45zM402.4 91.4h1.45v1.45h-1.45zM416.9 108.0h1.45v1.45h-1.45zM400.8 97.1h1.45v1.45h-1.45zM407.5 64.7h1.45v1.45h-1.45zM422.7 112.4h1.45v1.45h-1.45zM388.7 101.8h1.45v1.45h-1.45zM403.4 105.9h1.45v1.45h-1.45zM383.6 112.6h1.45v1.45h-1.45zM430.2 113.5h1.45v1.45h-1.45zM400.8 98.0h1.45v1.45h-1.45zM409.0 102.9h1.45v1.45h-1.45zM407.7 133.4h1.45v1.45h-1.45zM403.3 99.1h1.45v1.45h-1.45zM388.4 97.1h1.45v1.45h-1.45zM431.5 111.7h1.45v1.45h-1.45zM404.3 87.0h1.45v1.45h-1.45zM419.7 131.9h1.45v1.45h-1.45zM415.5 99.9h1.45v1.45h-1.45zM345.8 150.0h1.45v1.45h-1.45zM315.4 155.3h1.45v1.45h-1.45zM338.4 141.0h1.45v1.45h-1.45zM351.7 146.8h1.45v1.45h-1.45zM314.9 140.3h1.45v1.45h-1.45zM330.5 154.0h1.45v1.45h-1.45zM334.4 153.4h1.45v1.45h-1.45zM313.0 143.8h1.45v1.45h-1.45zM355.2 160.1h1.45v1.45h-1.45zM322.3 162.5h1.45v1.45h-1.45zM347.1 161.9h1.45v1.45h-1.45z" fill="#2a2a2a"/>
<rect x="311" y="38.7" width="164.90" height="127.20" fill="none" stroke="#000" stroke-width="1.5"/>
<text x="311.46" y="179.10" font-family="Liberation Sans" font-size="11" fill="#111">10</text>
<text x="323.40" y="175.70" font-family="Liberation Sans" font-size="8" fill="#111">0</text>
<g transform="translate(304.80,164.94) rotate(-90)"><text x="0" y="0" font-family="Liberation Sans" font-size="11" fill="#111">10</text><text x="11.94" y="-3.4" font-family="Liberation Sans" font-size="8" fill="#111">0</text></g>
<text x="352.69" y="179.10" font-family="Liberation Sans" font-size="11" fill="#111">10</text>
<text x="364.62" y="175.70" font-family="Liberation Sans" font-size="8" fill="#111">1</text>
<g transform="translate(304.80,133.14) rotate(-90)"><text x="0" y="0" font-family="Liberation Sans" font-size="11" fill="#111">10</text><text x="11.94" y="-3.4" font-family="Liberation Sans" font-size="8" fill="#111">1</text></g>
<text x="393.91" y="179.10" font-family="Liberation Sans" font-size="11" fill="#111">10</text>
<text x="405.85" y="175.70" font-family="Liberation Sans" font-size="8" fill="#111">2</text>
<g transform="translate(304.80,101.34) rotate(-90)"><text x="0" y="0" font-family="Liberation Sans" font-size="11" fill="#111">10</text><text x="11.94" y="-3.4" font-family="Liberation Sans" font-size="8" fill="#111">2</text></g>
<text x="435.14" y="179.10" font-family="Liberation Sans" font-size="11" fill="#111">10</text>
<text x="447.07" y="175.70" font-family="Liberation Sans" font-size="8" fill="#111">3</text>
<g transform="translate(304.80,69.54) rotate(-90)"><text x="0" y="0" font-family="Liberation Sans" font-size="11" fill="#111">10</text><text x="11.94" y="-3.4" font-family="Liberation Sans" font-size="8" fill="#111">3</text></g>
<text x="476.36" y="179.10" font-family="Liberation Sans" font-size="11" fill="#111">10</text>
<text x="488.30" y="175.70" font-family="Liberation Sans" font-size="8" fill="#111">4</text>
<g transform="translate(304.80,37.74) rotate(-90)"><text x="0" y="0" font-family="Liberation Sans" font-size="11" fill="#111">10</text><text x="11.94" y="-3.4" font-family="Liberation Sans" font-size="8" fill="#111">4</text></g>
<text transform="translate(341.97,13.60) scale(1.075,1)" font-family="Liberation Serif" font-size="17" fill="#111">Kidney -/-</text>
<text x="279.09" y="10.00" font-family="Liberation Sans" font-size="12" fill="#111" >1.6%</text>
<text x="480.09" y="10.00" font-family="Liberation Sans" font-size="12" fill="#111" >17.9%</text>
<text x="273.89" y="203.00" font-family="Liberation Sans" font-size="12" fill="#111" >67.8%</text>
<text x="479.69" y="203.80" font-family="Liberation Sans" font-size="12" fill="#111" >12.7%</text>
<text x="376.49" y="198.30" font-family="Liberation Sans" font-size="12" fill="#111" >eGFP</text>
<text transform="translate(288.60,124.21) rotate(-90)" font-family="Liberation Sans" font-size="12" fill="#111">CD8-PE</text>
<path d="M38.50 376.50v2.3M38.50 376.50h-2.1M50.91 376.50v2.3M38.50 367.72h-2.1M58.17 376.50v2.3M38.50 362.58h-2.1M63.32 376.50v2.3M38.50 358.93h-2.1M67.32 376.50v2.3M38.50 356.11h-2.1M70.58 376.50v2.3M38.50 353.80h-2.1M73.34 376.50v2.3M38.50 351.84h-2.1M75.73 376.50v2.3M38.50 350.15h-2.1M77.84 376.50v2.3M38.50 348.66h-2.1M79.72 376.50v2.3M38.50 347.32h-2.1M92.13 376.50v2.3M38.50 338.54h-2.1M99.39 376.50v2.3M38.50 333.40h-2.1M104.54 376.50v2.3M38.50 329.76h-2.1M108.54 376.50v2.3M38.50 326.93h-2.1M111.80 376.50v2.3M38.50 324.62h-2.1M114.56 376.50v2.3M38.50 322.67h-2.1M116.95 376.50v2.3M38.50 320.98h-2.1M119.06 376.50v2.3M38.50 319.48h-2.1M120.95 376.50v2.3M38.50 318.15h-2.1M133.36 376.50v2.3M38.50 309.37h-2.1M140.62 376.50v2.3M38.50 304.23h-2.1M145.77 376.50v2.3M38.50 300.58h-2.1M149.77 376.50v2.3M38.50 297.76h-2.1M153.03 376.50v2.3M38.50 295.45h-2.1M155.79 376.50v2.3M38.50 293.49h-2.1M158.18 376.50v2.3M38.50 291.80h-2.1M160.29 376.50v2.3M38.50 290.31h-2.1M162.18 376.50v2.3M38.50 288.98h-2.1M174.58 376.50v2.3M38.50 280.19h-2.1M181.84 376.50v2.3M38.50 275.05h-2.1M186.99 376.50v2.3M38.50 271.41h-2.1M190.99 376.50v2.3M38.50 268.58h-2.1M194.25 376.50v2.3M38.50 266.27h-2.1M197.01 376.50v2.3M38.50 264.32h-2.1M199.40 376.50v2.3M38.50 262.63h-2.1M201.51 376.50v2.3M38.50 261.13h-2.1M203.40 376.50v2.3M38.50 259.80h-2.1" stroke="#000" stroke-width="1.2" fill="none"/>
<line x1="38.5" y1="344.8" x2="203.4" y2="344.8" stroke="#b0b0b0" stroke-width="1.4"/>
<path d="M124.8 323.4h1.7v1.7h-1.7zM121.1 324.4h1.7v1.7h-1.7zM122.9 317.9h1.7v1.7h-1.7zM120.3 322.1h1.7v1.7h-1.7zM112.3 319.0h1.7v1.7h-1.7zM119.9 330.6h1.7v1.7h-1.7zM124.4 334.3h1.7v1.7h-1.7zM131.1 312.1h1.7v1.7h-1.7zM120.2 332.9h1.7v1.7h-1.7zM125.3 336.0h1.7v1.7h-1.7zM126.1 330.1h1.7v1.7h-1.7zM117.9 323.8h1.7v1.7h-1.7zM131.4 330.7h1.7v1.7h-1.7zM134.3 316.5h1.7v1.7h-1.7zM125.0 315.1h1.7v1.7h-1.7zM121.3 319.3h1.7v1.7h-1.7zM117.3 316.5h1.7v1.7h-1.7zM131.7 332.8h1.7v1.7h-1.7zM121.2 321.7h1.7v1.7h-1.7zM131.9 330.2h1.7v1.7h-1.7zM117.3 324.1h1.7v1.7h-1.7zM129.4 316.1h1.7v1.7h-1.7zM131.1 326.5h1.7v1.7h-1.7zM124.5 334.7h1.7v1.7h-1.7zM125.5 319.4h1.7v1.7h-1.7zM128.9 323.1h1.7v1.7h-1.7zM117.6 315.4h1.7v1.7h-1.7zM122.8 321.4h1.7v1.7h-1.7zM130.1 321.0h1.7v1.7h-1.7zM120.9 327.7h1.7v1.7h-1.7zM114.9 333.2h1.7v1.7h-1.7zM115.7 319.3h1.7v1.7h-1.7zM120.0 322.7h1.7v1.7h-1.7zM125.4 322.5h1.7v1.7h-1.7zM121.0 324.0h1.7v1.7h-1.7zM122.8 315.7h1.7v1.7h-1.7zM120.7 322.3h1.7v1.7h-1.7zM114.5 323.4h1.7v1.7h-1.7zM135.3 318.1h1.7v1.7h-1.7zM115.0 328.3h1.7v1.7h-1.7zM134.4 318.3h1.7v1.7h-1.7zM124.5 319.8h1.7v1.7h-1.7zM128.7 336.1h1.7v1.7h-1.7zM126.8 322.5h1.7v1.7h-1.7zM117.2 328.6h1.7v1.7h-1.7zM112.3 329.1h1.7v1.7h-1.7zM130.0 331.4h1.7v1.7h-1.7zM125.2 315.0h1.7v1.7h-1.7zM115.1 324.0h1.7v1.7h-1.7zM130.2 317.5h1.7v1.7h-1.7zM124.5 315.5h1.7v1.7h-1.7zM136.8 324.8h1.7v1.7h-1.7zM114.6 323.6h1.7v1.7h-1.7zM129.5 325.8h1.7v1.7h-1.7zM119.6 328.5h1.7v1.7h-1.7zM120.7 324.0h1.7v1.7h-1.7zM126.3 319.6h1.7v1.7h-1.7zM135.9 323.7h1.7v1.7h-1.7zM129.9 324.3h1.7v1.7h-1.7zM121.1 332.0h1.7v1.7h-1.7zM114.6 326.1h1.7v1.7h-1.7zM125.6 323.9h1.7v1.7h-1.7zM126.3 325.6h1.7v1.7h-1.7zM120.8 314.3h1.7v1.7h-1.7zM133.2 319.8h1.7v1.7h-1.7zM116.4 334.8h1.7v1.7h-1.7zM111.3 326.7h1.7v1.7h-1.7zM117.0 330.5h1.7v1.7h-1.7zM136.1 325.2h1.7v1.7h-1.7zM124.1 317.2h1.7v1.7h-1.7zM130.0 312.8h1.7v1.7h-1.7zM124.5 328.9h1.7v1.7h-1.7zM120.6 329.1h1.7v1.7h-1.7zM126.2 331.7h1.7v1.7h-1.7zM128.4 314.6h1.7v1.7h-1.7zM109.7 326.3h1.7v1.7h-1.7zM122.8 314.1h1.7v1.7h-1.7zM117.9 329.3h1.7v1.7h-1.7zM127.5 324.8h1.7v1.7h-1.7zM122.7 323.3h1.7v1.7h-1.7zM124.0 324.1h1.7v1.7h-1.7zM123.3 317.2h1.7v1.7h-1.7zM118.0 319.8h1.7v1.7h-1.7zM127.6 333.9h1.7v1.7h-1.7zM111.1 326.7h1.7v1.7h-1.7zM122.2 319.9h1.7v1.7h-1.7zM116.5 320.2h1.7v1.7h-1.7zM135.4 326.0h1.7v1.7h-1.7zM117.3 314.5h1.7v1.7h-1.7zM124.7 325.7h1.7v1.7h-1.7zM122.0 324.4h1.7v1.7h-1.7zM125.2 318.3h1.7v1.7h-1.7zM125.5 326.7h1.7v1.7h-1.7zM127.6 331.8h1.7v1.7h-1.7zM134.6 317.1h1.7v1.7h-1.7zM134.7 320.6h1.7v1.7h-1.7zM129.9 323.0h1.7v1.7h-1.7zM130.4 316.7h1.7v1.7h-1.7zM133.9 324.8h1.7v1.7h-1.7zM129.4 329.2h1.7v1.7h-1.7zM121.5 327.2h1.7v1.7h-1.7zM134.2 322.8h1.7v1.7h-1.7zM124.6 327.5h1.7v1.7h-1.7zM128.2 334.6h1.7v1.7h-1.7zM124.7 311.7h1.7v1.7h-1.7zM116.5 323.1h1.7v1.7h-1.7zM132.3 319.5h1.7v1.7h-1.7zM124.9 317.8h1.7v1.7h-1.7zM128.4 315.5h1.7v1.7h-1.7zM125.0 321.2h1.7v1.7h-1.7zM119.2 320.0h1.7v1.7h-1.7zM130.2 314.3h1.7v1.7h-1.7zM127.3 327.6h1.7v1.7h-1.7zM135.9 326.5h1.7v1.7h-1.7zM125.6 322.9h1.7v1.7h-1.7zM134.1 322.6h1.7v1.7h-1.7zM119.5 331.2h1.7v1.7h-1.7zM131.7 323.3h1.7v1.7h-1.7zM135.5 325.7h1.7v1.7h-1.7zM135.3 322.2h1.7v1.7h-1.7zM127.1 328.0h1.7v1.7h-1.7zM120.0 323.5h1.7v1.7h-1.7zM115.7 319.1h1.7v1.7h-1.7zM117.9 327.2h1.7v1.7h-1.7zM115.8 325.6h1.7v1.7h-1.7zM113.1 327.2h1.7v1.7h-1.7zM132.6 327.0h1.7v1.7h-1.7zM127.3 319.5h1.7v1.7h-1.7zM132.9 326.9h1.7v1.7h-1.7zM118.7 324.8h1.7v1.7h-1.7zM124.0 326.9h1.7v1.7h-1.7zM116.2 315.4h1.7v1.7h-1.7zM122.1 332.9h1.7v1.7h-1.7zM129.4 319.7h1.7v1.7h-1.7zM133.3 325.6h1.7v1.7h-1.7zM120.4 320.9h1.7v1.7h-1.7zM134.7 333.7h1.7v1.7h-1.7zM114.3 330.0h1.7v1.7h-1.7zM119.4 329.3h1.7v1.7h-1.7zM113.4 332.5h1.7v1.7h-1.7zM127.9 334.6h1.7v1.7h-1.7zM125.9 325.3h1.7v1.7h-1.7zM118.8 319.1h1.7v1.7h-1.7zM128.4 319.2h1.7v1.7h-1.7zM121.7 316.2h1.7v1.7h-1.7zM113.6 329.1h1.7v1.7h-1.7zM121.5 317.7h1.7v1.7h-1.7zM135.9 319.4h1.7v1.7h-1.7zM119.7 325.3h1.7v1.7h-1.7zM116.1 319.3h1.7v1.7h-1.7zM124.7 318.7h1.7v1.7h-1.7zM133.2 317.1h1.7v1.7h-1.7zM134.8 322.9h1.7v1.7h-1.7zM119.3 314.3h1.7v1.7h-1.7zM112.9 321.6h1.7v1.7h-1.7zM124.6 323.2h1.7v1.7h-1.7zM134.3 332.4h1.7v1.7h-1.7zM134.2 324.3h1.7v1.7h-1.7zM116.4 318.7h1.7v1.7h-1.7zM117.5 324.3h1.7v1.7h-1.7zM125.3 322.7h1.7v1.7h-1.7zM127.6 328.0h1.7v1.7h-1.7zM120.3 314.3h1.7v1.7h-1.7zM121.4 319.0h1.7v1.7h-1.7zM116.3 312.8h1.7v1.7h-1.7zM121.7 336.0h1.7v1.7h-1.7zM135.0 318.8h1.7v1.7h-1.7zM118.6 318.8h1.7v1.7h-1.7zM122.3 321.4h1.7v1.7h-1.7zM135.7 323.8h1.7v1.7h-1.7zM124.6 319.0h1.7v1.7h-1.7zM120.1 320.6h1.7v1.7h-1.7zM134.3 317.8h1.7v1.7h-1.7zM124.0 329.4h1.7v1.7h-1.7zM124.8 320.1h1.7v1.7h-1.7zM122.3 321.5h1.7v1.7h-1.7zM124.3 318.1h1.7v1.7h-1.7zM129.6 333.7h1.7v1.7h-1.7zM127.9 310.8h1.7v1.7h-1.7zM129.5 328.1h1.7v1.7h-1.7zM117.9 318.0h1.7v1.7h-1.7zM130.8 332.7h1.7v1.7h-1.7zM130.7 331.3h1.7v1.7h-1.7zM114.7 322.6h1.7v1.7h-1.7zM123.4 325.0h1.7v1.7h-1.7zM132.7 331.2h1.7v1.7h-1.7zM117.8 320.6h1.7v1.7h-1.7zM115.8 318.3h1.7v1.7h-1.7zM135.0 332.5h1.7v1.7h-1.7zM134.6 327.5h1.7v1.7h-1.7zM111.9 326.3h1.7v1.7h-1.7zM124.1 318.3h1.7v1.7h-1.7zM128.9 328.7h1.7v1.7h-1.7zM124.1 328.7h1.7v1.7h-1.7zM117.7 315.0h1.7v1.7h-1.7zM125.2 318.3h1.7v1.7h-1.7zM128.2 314.1h1.7v1.7h-1.7zM119.5 331.6h1.7v1.7h-1.7zM117.7 330.3h1.7v1.7h-1.7zM128.0 326.1h1.7v1.7h-1.7zM131.6 323.4h1.7v1.7h-1.7zM115.3 316.4h1.7v1.7h-1.7zM121.0 316.5h1.7v1.7h-1.7zM120.2 317.1h1.7v1.7h-1.7zM119.2 317.8h1.7v1.7h-1.7zM130.4 321.3h1.7v1.7h-1.7zM125.4 318.6h1.7v1.7h-1.7zM124.8 324.9h1.7v1.7h-1.7zM129.7 318.3h1.7v1.7h-1.7zM118.2 334.3h1.7v1.7h-1.7zM117.2 326.8h1.7v1.7h-1.7zM131.0 331.6h1.7v1.7h-1.7zM131.7 333.9h1.7v1.7h-1.7zM124.7 320.1h1.7v1.7h-1.7zM127.5 318.2h1.7v1.7h-1.7zM131.3 326.5h1.7v1.7h-1.7zM112.7 315.4h1.7v1.7h-1.7zM120.0 320.5h1.7v1.7h-1.7zM118.0 326.3h1.7v1.7h-1.7zM122.5 318.0h1.7v1.7h-1.7zM114.0 324.5h1.7v1.7h-1.7zM119.7 331.3h1.7v1.7h-1.7zM124.3 309.1h1.7v1.7h-1.7zM133.3 322.3h1.7v1.7h-1.7zM111.3 323.2h1.7v1.7h-1.7zM128.3 330.8h1.7v1.7h-1.7zM126.0 316.5h1.7v1.7h-1.7zM125.8 328.4h1.7v1.7h-1.7zM132.9 321.0h1.7v1.7h-1.7zM133.8 316.8h1.7v1.7h-1.7zM115.8 327.2h1.7v1.7h-1.7zM126.1 316.8h1.7v1.7h-1.7zM117.2 328.0h1.7v1.7h-1.7zM127.9 314.1h1.7v1.7h-1.7zM133.8 322.6h1.7v1.7h-1.7zM118.9 318.4h1.7v1.7h-1.7zM120.7 313.8h1.7v1.7h-1.7zM113.9 333.7h1.7v1.7h-1.7zM133.3 324.8h1.7v1.7h-1.7zM117.4 315.6h1.7v1.7h-1.7zM122.3 310.1h1.7v1.7h-1.7zM119.1 316.7h1.7v1.7h-1.7zM123.2 322.2h1.7v1.7h-1.7zM125.5 318.2h1.7v1.7h-1.7zM122.8 325.9h1.7v1.7h-1.7zM114.2 329.5h1.7v1.7h-1.7zM130.6 328.2h1.7v1.7h-1.7zM131.9 333.2h1.7v1.7h-1.7zM130.5 328.6h1.7v1.7h-1.7zM133.4 318.4h1.7v1.7h-1.7zM131.4 321.5h1.7v1.7h-1.7zM121.0 326.4h1.7v1.7h-1.7zM116.2 326.8h1.7v1.7h-1.7zM113.9 331.4h1.7v1.7h-1.7zM118.2 329.0h1.7v1.7h-1.7zM125.0 331.4h1.7v1.7h-1.7zM128.0 327.7h1.7v1.7h-1.7zM117.3 321.3h1.7v1.7h-1.7zM131.0 319.2h1.7v1.7h-1.7zM112.3 325.4h1.7v1.7h-1.7zM131.2 324.9h1.7v1.7h-1.7zM126.9 315.8h1.7v1.7h-1.7zM128.3 320.3h1.7v1.7h-1.7zM130.1 328.8h1.7v1.7h-1.7zM122.1 319.9h1.7v1.7h-1.7zM131.2 327.4h1.7v1.7h-1.7zM126.5 331.3h1.7v1.7h-1.7zM112.2 321.9h1.7v1.7h-1.7zM115.4 322.4h1.7v1.7h-1.7zM133.2 326.1h1.7v1.7h-1.7zM121.1 320.4h1.7v1.7h-1.7zM122.4 334.6h1.7v1.7h-1.7zM114.6 329.8h1.7v1.7h-1.7zM133.0 323.1h1.7v1.7h-1.7zM124.2 323.4h1.7v1.7h-1.7zM116.5 328.0h1.7v1.7h-1.7zM122.0 334.1h1.7v1.7h-1.7zM132.7 327.8h1.7v1.7h-1.7zM116.9 324.0h1.7v1.7h-1.7zM128.1 333.5h1.7v1.7h-1.7zM129.5 329.8h1.7v1.7h-1.7zM130.9 312.5h1.7v1.7h-1.7zM114.2 317.7h1.7v1.7h-1.7zM116.5 314.3h1.7v1.7h-1.7zM122.3 326.9h1.7v1.7h-1.7zM127.3 318.1h1.7v1.7h-1.7zM117.8 320.6h1.7v1.7h-1.7zM133.6 330.7h1.7v1.7h-1.7zM123.7 322.7h1.7v1.7h-1.7zM120.6 335.5h1.7v1.7h-1.7zM120.5 330.6h1.7v1.7h-1.7zM115.7 331.2h1.7v1.7h-1.7zM128.5 319.6h1.7v1.7h-1.7zM119.8 315.6h1.7v1.7h-1.7zM118.2 326.1h1.7v1.7h-1.7zM113.3 326.4h1.7v1.7h-1.7zM128.4 317.5h1.7v1.7h-1.7zM129.0 330.1h1.7v1.7h-1.7zM133.4 317.6h1.7v1.7h-1.7zM123.3 314.6h1.7v1.7h-1.7zM129.1 324.5h1.7v1.7h-1.7zM121.2 316.1h1.7v1.7h-1.7zM131.5 324.7h1.7v1.7h-1.7zM128.8 314.2h1.7v1.7h-1.7zM125.2 313.4h1.7v1.7h-1.7zM133.0 317.5h1.7v1.7h-1.7zM126.3 314.1h1.7v1.7h-1.7zM138.2 316.2h1.7v1.7h-1.7zM118.0 325.7h1.7v1.7h-1.7zM132.7 328.5h1.7v1.7h-1.7zM126.6 319.1h1.7v1.7h-1.7zM125.0 330.3h1.7v1.7h-1.7zM127.3 324.8h1.7v1.7h-1.7zM117.6 325.9h1.7v1.7h-1.7zM134.3 327.8h1.7v1.7h-1.7zM130.6 330.9h1.7v1.7h-1.7zM122.4 324.4h1.7v1.7h-1.7zM137.0 314.1h1.7v1.7h-1.7zM135.6 319.2h1.7v1.7h-1.7zM132.8 333.4h1.7v1.7h-1.7zM137.7 323.5h1.7v1.7h-1.7zM111.9 323.9h1.7v1.7h-1.7zM113.0 337.3h1.7v1.7h-1.7zM125.8 330.4h1.7v1.7h-1.7zM124.0 323.7h1.7v1.7h-1.7zM129.0 325.2h1.7v1.7h-1.7zM128.5 332.4h1.7v1.7h-1.7zM131.6 329.5h1.7v1.7h-1.7zM118.9 317.2h1.7v1.7h-1.7zM118.6 323.5h1.7v1.7h-1.7zM125.8 324.3h1.7v1.7h-1.7zM130.1 311.2h1.7v1.7h-1.7zM135.3 324.5h1.7v1.7h-1.7zM122.7 326.5h1.7v1.7h-1.7zM125.3 314.6h1.7v1.7h-1.7zM124.5 326.0h1.7v1.7h-1.7zM115.6 327.9h1.7v1.7h-1.7zM123.2 334.4h1.7v1.7h-1.7zM114.9 334.1h1.7v1.7h-1.7zM122.5 316.3h1.7v1.7h-1.7zM123.4 322.2h1.7v1.7h-1.7zM138.1 331.6h1.7v1.7h-1.7zM125.9 320.0h1.7v1.7h-1.7zM120.3 319.2h1.7v1.7h-1.7zM127.9 325.9h1.7v1.7h-1.7zM125.7 326.1h1.7v1.7h-1.7zM113.7 323.9h1.7v1.7h-1.7zM118.9 315.5h1.7v1.7h-1.7zM130.9 331.6h1.7v1.7h-1.7zM121.9 330.1h1.7v1.7h-1.7zM126.4 317.5h1.7v1.7h-1.7zM126.9 315.0h1.7v1.7h-1.7zM123.2 313.1h1.7v1.7h-1.7zM127.8 327.8h1.7v1.7h-1.7zM113.7 317.8h1.7v1.7h-1.7zM126.3 333.2h1.7v1.7h-1.7zM132.5 320.3h1.7v1.7h-1.7zM126.4 325.0h1.7v1.7h-1.7zM130.9 326.6h1.7v1.7h-1.7zM125.0 314.2h1.7v1.7h-1.7zM133.5 324.2h1.7v1.7h-1.7zM123.4 332.9h1.7v1.7h-1.7zM132.6 323.4h1.7v1.7h-1.7zM110.6 328.9h1.7v1.7h-1.7zM118.2 317.7h1.7v1.7h-1.7zM135.5 319.6h1.7v1.7h-1.7zM118.3 327.1h1.7v1.7h-1.7zM120.0 320.5h1.7v1.7h-1.7zM123.0 330.8h1.7v1.7h-1.7zM126.0 314.9h1.7v1.7h-1.7zM125.2 328.6h1.7v1.7h-1.7zM117.9 321.5h1.7v1.7h-1.7zM112.2 320.8h1.7v1.7h-1.7zM112.0 325.9h1.7v1.7h-1.7zM114.1 327.7h1.7v1.7h-1.7zM120.7 314.6h1.7v1.7h-1.7zM122.2 313.1h1.7v1.7h-1.7zM133.0 323.6h1.7v1.7h-1.7zM123.4 326.6h1.7v1.7h-1.7zM123.2 326.8h1.7v1.7h-1.7zM134.4 327.9h1.7v1.7h-1.7zM128.1 333.1h1.7v1.7h-1.7zM133.9 321.1h1.7v1.7h-1.7zM128.5 325.4h1.7v1.7h-1.7zM117.6 318.0h1.7v1.7h-1.7zM122.6 313.6h1.7v1.7h-1.7zM121.6 322.1h1.7v1.7h-1.7zM115.8 322.3h1.7v1.7h-1.7zM123.3 336.4h1.7v1.7h-1.7zM135.3 323.4h1.7v1.7h-1.7zM127.0 319.4h1.7v1.7h-1.7zM118.0 328.9h1.7v1.7h-1.7zM121.8 323.9h1.7v1.7h-1.7zM118.7 329.6h1.7v1.7h-1.7zM128.1 326.9h1.7v1.7h-1.7zM116.4 327.6h1.7v1.7h-1.7zM121.6 331.3h1.7v1.7h-1.7zM131.1 322.3h1.7v1.7h-1.7zM134.6 323.3h1.7v1.7h-1.7zM127.1 324.7h1.7v1.7h-1.7zM118.1 325.1h1.7v1.7h-1.7zM130.6 329.0h1.7v1.7h-1.7zM120.4 331.8h1.7v1.7h-1.7zM117.0 317.1h1.7v1.7h-1.7zM119.9 322.9h1.7v1.7h-1.7zM127.8 318.5h1.7v1.7h-1.7zM124.6 332.8h1.7v1.7h-1.7zM122.6 317.2h1.7v1.7h-1.7zM117.5 330.0h1.7v1.7h-1.7zM121.2 331.2h1.7v1.7h-1.7zM131.0 320.4h1.7v1.7h-1.7zM125.2 326.1h1.7v1.7h-1.7zM128.1 323.6h1.7v1.7h-1.7zM135.0 323.0h1.7v1.7h-1.7zM111.2 325.6h1.7v1.7h-1.7zM109.4 324.1h1.7v1.7h-1.7zM130.5 328.7h1.7v1.7h-1.7zM119.0 319.5h1.7v1.7h-1.7zM121.4 316.1h1.7v1.7h-1.7zM114.5 323.0h1.7v1.7h-1.7zM134.4 323.0h1.7v1.7h-1.7zM126.6 326.3h1.7v1.7h-1.7zM120.7 331.9h1.7v1.7h-1.7zM125.5 317.4h1.7v1.7h-1.7zM119.1 320.0h1.7v1.7h-1.7zM129.8 322.3h1.7v1.7h-1.7zM126.6 321.5h1.7v1.7h-1.7zM115.9 333.6h1.7v1.7h-1.7zM131.8 312.5h1.7v1.7h-1.7zM111.8 319.9h1.7v1.7h-1.7zM136.8 325.5h1.7v1.7h-1.7zM140.4 318.9h1.7v1.7h-1.7zM136.6 310.8h1.7v1.7h-1.7zM141.2 325.4h1.7v1.7h-1.7zM137.9 314.9h1.7v1.7h-1.7zM143.3 327.2h1.7v1.7h-1.7zM144.7 328.3h1.7v1.7h-1.7zM144.5 323.3h1.7v1.7h-1.7zM156.0 316.9h1.7v1.7h-1.7zM150.6 312.9h1.7v1.7h-1.7zM146.0 323.7h1.7v1.7h-1.7zM141.6 314.3h1.7v1.7h-1.7zM140.7 329.7h1.7v1.7h-1.7zM132.5 319.0h1.7v1.7h-1.7zM129.3 327.1h1.7v1.7h-1.7zM136.1 321.3h1.7v1.7h-1.7zM147.1 309.1h1.7v1.7h-1.7zM137.3 326.4h1.7v1.7h-1.7zM149.8 317.6h1.7v1.7h-1.7zM137.2 330.4h1.7v1.7h-1.7zM145.4 308.2h1.7v1.7h-1.7zM138.9 308.2h1.7v1.7h-1.7zM135.7 314.5h1.7v1.7h-1.7zM128.3 315.0h1.7v1.7h-1.7zM141.6 319.2h1.7v1.7h-1.7zM150.1 325.6h1.7v1.7h-1.7zM149.8 325.6h1.7v1.7h-1.7zM146.6 320.7h1.7v1.7h-1.7zM146.1 320.6h1.7v1.7h-1.7zM132.8 319.3h1.7v1.7h-1.7zM146.6 321.5h1.7v1.7h-1.7zM129.7 313.6h1.7v1.7h-1.7zM141.8 307.2h1.7v1.7h-1.7zM143.9 323.2h1.7v1.7h-1.7zM145.8 306.5h1.7v1.7h-1.7zM135.3 321.2h1.7v1.7h-1.7zM136.5 327.3h1.7v1.7h-1.7zM153.6 322.4h1.7v1.7h-1.7zM139.7 330.2h1.7v1.7h-1.7zM151.6 314.4h1.7v1.7h-1.7zM135.9 312.4h1.7v1.7h-1.7zM140.2 325.7h1.7v1.7h-1.7zM147.0 311.5h1.7v1.7h-1.7zM146.4 326.6h1.7v1.7h-1.7zM141.0 315.5h1.7v1.7h-1.7zM148.6 315.8h1.7v1.7h-1.7zM137.6 316.5h1.7v1.7h-1.7zM144.2 322.6h1.7v1.7h-1.7zM136.9 317.4h1.7v1.7h-1.7zM148.5 315.2h1.7v1.7h-1.7zM130.7 314.3h1.7v1.7h-1.7zM141.5 320.5h1.7v1.7h-1.7zM136.5 308.3h1.7v1.7h-1.7zM133.5 322.8h1.7v1.7h-1.7zM129.4 316.9h1.7v1.7h-1.7zM146.6 307.6h1.7v1.7h-1.7zM139.8 324.8h1.7v1.7h-1.7zM133.4 317.9h1.7v1.7h-1.7zM143.9 315.4h1.7v1.7h-1.7zM135.3 315.8h1.7v1.7h-1.7zM138.3 318.8h1.7v1.7h-1.7zM129.9 321.5h1.7v1.7h-1.7zM141.1 319.8h1.7v1.7h-1.7zM130.4 317.6h1.7v1.7h-1.7zM134.3 322.3h1.7v1.7h-1.7zM135.5 318.1h1.7v1.7h-1.7zM136.4 316.2h1.7v1.7h-1.7zM139.3 322.2h1.7v1.7h-1.7zM133.0 322.8h1.7v1.7h-1.7zM147.6 324.0h1.7v1.7h-1.7zM139.8 324.6h1.7v1.7h-1.7zM136.6 324.6h1.7v1.7h-1.7zM133.2 313.3h1.7v1.7h-1.7zM148.9 320.9h1.7v1.7h-1.7zM138.5 320.7h1.7v1.7h-1.7zM141.7 326.1h1.7v1.7h-1.7zM146.3 323.4h1.7v1.7h-1.7zM150.0 322.2h1.7v1.7h-1.7zM139.1 321.3h1.7v1.7h-1.7zM136.5 313.4h1.7v1.7h-1.7zM141.9 317.7h1.7v1.7h-1.7zM144.3 311.7h1.7v1.7h-1.7zM140.0 309.1h1.7v1.7h-1.7zM143.7 305.0h1.7v1.7h-1.7zM138.7 326.1h1.7v1.7h-1.7zM150.4 323.1h1.7v1.7h-1.7zM137.2 328.7h1.7v1.7h-1.7zM140.9 312.4h1.7v1.7h-1.7zM139.9 312.8h1.7v1.7h-1.7zM145.0 313.1h1.7v1.7h-1.7zM131.7 315.8h1.7v1.7h-1.7zM142.2 329.2h1.7v1.7h-1.7zM141.5 328.1h1.7v1.7h-1.7zM149.6 316.1h1.7v1.7h-1.7zM141.8 311.4h1.7v1.7h-1.7zM143.8 328.1h1.7v1.7h-1.7zM141.3 315.2h1.7v1.7h-1.7zM129.4 320.0h1.7v1.7h-1.7zM141.7 304.7h1.7v1.7h-1.7zM132.7 323.3h1.7v1.7h-1.7zM137.6 316.7h1.7v1.7h-1.7zM131.6 320.6h1.7v1.7h-1.7zM130.2 317.9h1.7v1.7h-1.7zM140.1 329.3h1.7v1.7h-1.7zM148.1 321.2h1.7v1.7h-1.7zM148.3 319.2h1.7v1.7h-1.7zM139.6 323.8h1.7v1.7h-1.7zM130.4 307.0h1.7v1.7h-1.7zM135.2 317.4h1.7v1.7h-1.7zM144.1 323.7h1.7v1.7h-1.7zM131.3 314.8h1.7v1.7h-1.7zM137.8 308.6h1.7v1.7h-1.7zM145.7 326.1h1.7v1.7h-1.7zM150.1 321.6h1.7v1.7h-1.7zM149.8 319.1h1.7v1.7h-1.7zM153.0 313.4h1.7v1.7h-1.7zM141.1 332.8h1.7v1.7h-1.7zM138.6 312.7h1.7v1.7h-1.7zM136.2 316.5h1.7v1.7h-1.7zM129.2 324.5h1.7v1.7h-1.7zM134.5 327.5h1.7v1.7h-1.7zM131.2 327.5h1.7v1.7h-1.7zM148.7 319.7h1.7v1.7h-1.7zM144.7 314.8h1.7v1.7h-1.7zM148.9 319.6h1.7v1.7h-1.7zM138.6 329.0h1.7v1.7h-1.7zM145.7 323.5h1.7v1.7h-1.7zM154.2 324.1h1.7v1.7h-1.7zM137.5 325.1h1.7v1.7h-1.7zM145.0 319.8h1.7v1.7h-1.7zM138.5 309.5h1.7v1.7h-1.7zM141.8 320.4h1.7v1.7h-1.7zM132.5 331.4h1.7v1.7h-1.7zM134.4 310.4h1.7v1.7h-1.7zM154.3 323.2h1.7v1.7h-1.7zM141.3 325.3h1.7v1.7h-1.7zM143.7 318.0h1.7v1.7h-1.7zM146.1 311.8h1.7v1.7h-1.7zM141.2 325.7h1.7v1.7h-1.7zM126.1 327.5h1.7v1.7h-1.7zM138.0 306.9h1.7v1.7h-1.7zM139.9 307.3h1.7v1.7h-1.7zM136.3 309.6h1.7v1.7h-1.7zM139.4 319.7h1.7v1.7h-1.7zM147.3 329.5h1.7v1.7h-1.7zM138.9 317.6h1.7v1.7h-1.7zM137.6 323.1h1.7v1.7h-1.7zM147.3 315.2h1.7v1.7h-1.7zM146.9 330.1h1.7v1.7h-1.7zM149.6 317.4h1.7v1.7h-1.7zM136.1 314.2h1.7v1.7h-1.7zM149.0 326.1h1.7v1.7h-1.7zM139.0 315.9h1.7v1.7h-1.7zM140.8 314.1h1.7v1.7h-1.7zM148.8 305.6h1.7v1.7h-1.7zM154.4 318.8h1.7v1.7h-1.7zM134.0 325.2h1.7v1.7h-1.7zM137.5 314.4h1.7v1.7h-1.7zM134.2 325.4h1.7v1.7h-1.7zM141.1 310.2h1.7v1.7h-1.7zM145.3 308.7h1.7v1.7h-1.7zM138.2 329.4h1.7v1.7h-1.7zM136.7 307.7h1.7v1.7h-1.7zM138.7 308.9h1.7v1.7h-1.7zM146.9 322.2h1.7v1.7h-1.7zM154.5 325.6h1.7v1.7h-1.7zM136.7 308.9h1.7v1.7h-1.7zM145.7 324.3h1.7v1.7h-1.7zM137.8 313.9h1.7v1.7h-1.7zM148.8 310.4h1.7v1.7h-1.7zM128.2 324.9h1.7v1.7h-1.7zM134.0 312.3h1.7v1.7h-1.7zM136.9 312.9h1.7v1.7h-1.7zM146.8 324.6h1.7v1.7h-1.7zM147.8 318.4h1.7v1.7h-1.7zM130.6 318.2h1.7v1.7h-1.7zM141.7 320.1h1.7v1.7h-1.7zM148.1 312.5h1.7v1.7h-1.7zM134.7 308.4h1.7v1.7h-1.7zM150.6 320.3h1.7v1.7h-1.7zM152.0 318.9h1.7v1.7h-1.7zM130.2 318.3h1.7v1.7h-1.7zM138.0 324.6h1.7v1.7h-1.7zM141.7 322.3h1.7v1.7h-1.7zM140.3 329.9h1.7v1.7h-1.7zM140.4 321.0h1.7v1.7h-1.7zM144.3 315.4h1.7v1.7h-1.7zM154.2 318.9h1.7v1.7h-1.7zM143.6 328.9h1.7v1.7h-1.7zM146.0 311.7h1.7v1.7h-1.7zM140.3 315.8h1.7v1.7h-1.7zM129.9 322.5h1.7v1.7h-1.7zM143.1 327.2h1.7v1.7h-1.7zM133.2 309.9h1.7v1.7h-1.7zM142.0 331.6h1.7v1.7h-1.7zM142.4 326.9h1.7v1.7h-1.7zM142.5 322.4h1.7v1.7h-1.7zM131.8 321.6h1.7v1.7h-1.7zM145.4 313.5h1.7v1.7h-1.7zM132.8 328.4h1.7v1.7h-1.7zM148.5 320.8h1.7v1.7h-1.7zM141.1 323.5h1.7v1.7h-1.7zM147.6 312.6h1.7v1.7h-1.7zM143.4 333.2h1.7v1.7h-1.7zM133.9 317.5h1.7v1.7h-1.7zM149.2 319.2h1.7v1.7h-1.7zM144.2 316.4h1.7v1.7h-1.7zM148.7 309.5h1.7v1.7h-1.7zM142.2 320.1h1.7v1.7h-1.7zM140.0 321.4h1.7v1.7h-1.7zM135.8 320.6h1.7v1.7h-1.7zM152.9 321.2h1.7v1.7h-1.7zM137.2 329.7h1.7v1.7h-1.7zM132.1 316.5h1.7v1.7h-1.7zM144.1 326.5h1.7v1.7h-1.7zM151.2 318.8h1.7v1.7h-1.7zM144.0 316.4h1.7v1.7h-1.7zM141.1 323.0h1.7v1.7h-1.7zM146.3 324.9h1.7v1.7h-1.7zM133.6 310.8h1.7v1.7h-1.7zM140.4 311.8h1.7v1.7h-1.7zM145.1 325.7h1.7v1.7h-1.7zM134.7 324.1h1.7v1.7h-1.7zM130.8 309.2h1.7v1.7h-1.7zM141.7 323.0h1.7v1.7h-1.7zM137.4 321.6h1.7v1.7h-1.7zM144.2 309.5h1.7v1.7h-1.7zM149.9 318.9h1.7v1.7h-1.7zM142.5 326.0h1.7v1.7h-1.7zM154.2 320.3h1.7v1.7h-1.7zM136.8 307.7h1.7v1.7h-1.7zM141.0 323.0h1.7v1.7h-1.7zM147.2 324.1h1.7v1.7h-1.7zM129.3 319.4h1.7v1.7h-1.7zM138.9 328.2h1.7v1.7h-1.7zM145.4 319.6h1.7v1.7h-1.7zM137.9 325.6h1.7v1.7h-1.7zM141.6 333.9h1.7v1.7h-1.7zM135.8 319.3h1.7v1.7h-1.7zM132.6 319.3h1.7v1.7h-1.7zM137.9 322.4h1.7v1.7h-1.7zM134.1 310.0h1.7v1.7h-1.7zM146.8 311.6h1.7v1.7h-1.7zM144.6 312.2h1.7v1.7h-1.7zM145.9 314.7h1.7v1.7h-1.7zM136.1 320.1h1.7v1.7h-1.7zM143.9 314.2h1.7v1.7h-1.7zM149.9 322.9h1.7v1.7h-1.7zM150.6 317.0h1.7v1.7h-1.7zM134.7 326.7h1.7v1.7h-1.7zM142.2 311.3h1.7v1.7h-1.7zM130.1 310.7h1.7v1.7h-1.7zM143.5 315.5h1.7v1.7h-1.7zM136.6 309.3h1.7v1.7h-1.7zM138.6 326.0h1.7v1.7h-1.7zM141.6 331.1h1.7v1.7h-1.7zM136.9 330.7h1.7v1.7h-1.7zM152.0 320.6h1.7v1.7h-1.7zM134.8 320.0h1.7v1.7h-1.7zM135.9 329.6h1.7v1.7h-1.7zM148.9 311.2h1.7v1.7h-1.7zM150.3 312.8h1.7v1.7h-1.7zM143.6 318.2h1.7v1.7h-1.7zM141.0 318.5h1.7v1.7h-1.7zM144.8 327.4h1.7v1.7h-1.7zM141.7 315.6h1.7v1.7h-1.7zM138.6 330.4h1.7v1.7h-1.7zM147.3 310.4h1.7v1.7h-1.7zM139.8 314.6h1.7v1.7h-1.7zM129.1 320.9h1.7v1.7h-1.7zM146.0 329.3h1.7v1.7h-1.7zM140.1 325.9h1.7v1.7h-1.7zM137.4 311.1h1.7v1.7h-1.7zM136.2 308.5h1.7v1.7h-1.7zM148.6 319.5h1.7v1.7h-1.7zM133.9 316.1h1.7v1.7h-1.7zM146.4 312.7h1.7v1.7h-1.7zM133.0 322.3h1.7v1.7h-1.7zM136.2 311.2h1.7v1.7h-1.7zM149.6 327.2h1.7v1.7h-1.7zM134.3 332.0h1.7v1.7h-1.7zM147.1 307.3h1.7v1.7h-1.7zM139.4 318.4h1.7v1.7h-1.7zM136.3 330.2h1.7v1.7h-1.7zM150.4 324.9h1.7v1.7h-1.7zM143.9 312.4h1.7v1.7h-1.7zM133.6 323.9h1.7v1.7h-1.7zM140.2 328.0h1.7v1.7h-1.7zM136.9 330.3h1.7v1.7h-1.7zM127.7 316.6h1.7v1.7h-1.7zM152.3 313.3h1.7v1.7h-1.7zM129.5 317.3h1.7v1.7h-1.7zM133.0 325.4h1.7v1.7h-1.7zM136.7 323.0h1.7v1.7h-1.7zM137.6 319.2h1.7v1.7h-1.7zM134.9 322.2h1.7v1.7h-1.7zM148.3 311.1h1.7v1.7h-1.7zM141.0 322.8h1.7v1.7h-1.7zM144.6 326.9h1.7v1.7h-1.7zM143.5 313.4h1.7v1.7h-1.7zM150.1 325.2h1.7v1.7h-1.7zM138.8 309.1h1.7v1.7h-1.7zM134.3 319.6h1.7v1.7h-1.7zM148.5 321.5h1.7v1.7h-1.7zM138.5 323.8h1.7v1.7h-1.7zM144.5 330.3h1.7v1.7h-1.7zM148.9 314.9h1.7v1.7h-1.7zM152.3 317.6h1.7v1.7h-1.7zM131.0 321.6h1.7v1.7h-1.7zM155.3 323.5h1.7v1.7h-1.7zM134.3 321.7h1.7v1.7h-1.7zM134.9 311.6h1.7v1.7h-1.7zM138.8 314.3h1.7v1.7h-1.7zM150.4 323.9h1.7v1.7h-1.7zM134.2 318.4h1.7v1.7h-1.7zM143.4 314.9h1.7v1.7h-1.7zM145.7 326.4h1.7v1.7h-1.7zM129.2 317.4h1.7v1.7h-1.7zM138.3 331.6h1.7v1.7h-1.7zM142.5 316.4h1.7v1.7h-1.7zM135.2 310.4h1.7v1.7h-1.7zM145.4 326.7h1.7v1.7h-1.7zM140.3 323.8h1.7v1.7h-1.7zM151.1 328.2h1.7v1.7h-1.7zM146.7 320.0h1.7v1.7h-1.7zM152.2 314.3h1.7v1.7h-1.7zM137.9 330.7h1.7v1.7h-1.7zM133.2 327.8h1.7v1.7h-1.7zM144.0 321.8h1.7v1.7h-1.7zM149.7 324.4h1.7v1.7h-1.7zM132.6 312.3h1.7v1.7h-1.7zM141.0 315.4h1.7v1.7h-1.7zM138.6 325.7h1.7v1.7h-1.7zM153.6 321.4h1.7v1.7h-1.7zM144.3 329.3h1.7v1.7h-1.7zM137.0 327.0h1.7v1.7h-1.7zM140.6 317.7h1.7v1.7h-1.7zM133.0 314.6h1.7v1.7h-1.7zM139.9 312.5h1.7v1.7h-1.7zM148.2 325.2h1.7v1.7h-1.7zM151.6 312.7h1.7v1.7h-1.7zM151.1 327.5h1.7v1.7h-1.7zM151.3 311.9h1.7v1.7h-1.7zM131.6 314.3h1.7v1.7h-1.7zM134.8 328.6h1.7v1.7h-1.7zM156.6 316.8h1.7v1.7h-1.7zM136.6 314.3h1.7v1.7h-1.7zM130.1 314.1h1.7v1.7h-1.7zM132.5 319.0h1.7v1.7h-1.7zM135.5 312.8h1.7v1.7h-1.7zM137.0 313.4h1.7v1.7h-1.7zM131.5 314.3h1.7v1.7h-1.7zM141.6 329.6h1.7v1.7h-1.7zM131.4 318.0h1.7v1.7h-1.7zM145.6 315.1h1.7v1.7h-1.7zM142.9 313.5h1.7v1.7h-1.7zM142.3 322.9h1.7v1.7h-1.7zM135.8 324.2h1.7v1.7h-1.7zM136.2 312.3h1.7v1.7h-1.7zM130.8 322.5h1.7v1.7h-1.7zM141.3 321.5h1.7v1.7h-1.7zM139.3 321.7h1.7v1.7h-1.7zM153.6 313.1h1.7v1.7h-1.7zM135.0 312.0h1.7v1.7h-1.7zM140.4 319.0h1.7v1.7h-1.7zM136.6 320.2h1.7v1.7h-1.7zM133.7 311.6h1.7v1.7h-1.7zM147.4 324.4h1.7v1.7h-1.7zM153.1 320.1h1.7v1.7h-1.7zM147.6 323.4h1.7v1.7h-1.7zM140.5 317.2h1.7v1.7h-1.7zM143.1 329.0h1.7v1.7h-1.7zM140.7 333.0h1.7v1.7h-1.7zM134.9 309.0h1.7v1.7h-1.7zM140.8 322.3h1.7v1.7h-1.7zM146.5 326.2h1.7v1.7h-1.7zM137.9 321.8h1.7v1.7h-1.7zM144.2 315.1h1.7v1.7h-1.7zM140.7 312.1h1.7v1.7h-1.7zM142.3 327.3h1.7v1.7h-1.7zM141.1 331.8h1.7v1.7h-1.7zM149.7 316.7h1.7v1.7h-1.7zM136.5 313.5h1.7v1.7h-1.7zM135.9 314.0h1.7v1.7h-1.7zM153.1 324.3h1.7v1.7h-1.7zM144.4 320.0h1.7v1.7h-1.7zM138.1 314.7h1.7v1.7h-1.7zM131.3 319.8h1.7v1.7h-1.7zM143.7 309.7h1.7v1.7h-1.7zM140.7 311.2h1.7v1.7h-1.7zM141.3 312.8h1.7v1.7h-1.7zM150.2 320.8h1.7v1.7h-1.7zM149.3 315.0h1.7v1.7h-1.7zM141.9 310.3h1.7v1.7h-1.7zM129.0 316.2h1.7v1.7h-1.7zM147.9 313.0h1.7v1.7h-1.7zM142.1 328.1h1.7v1.7h-1.7zM151.5 316.1h1.7v1.7h-1.7zM142.8 314.5h1.7v1.7h-1.7zM143.0 321.1h1.7v1.7h-1.7zM130.6 318.6h1.7v1.7h-1.7zM144.5 320.5h1.7v1.7h-1.7zM142.5 308.1h1.7v1.7h-1.7zM128.6 317.5h1.7v1.7h-1.7zM140.4 324.1h1.7v1.7h-1.7zM140.7 323.0h1.7v1.7h-1.7zM138.3 327.7h1.7v1.7h-1.7zM130.2 323.3h1.7v1.7h-1.7zM139.0 330.7h1.7v1.7h-1.7zM138.3 327.4h1.7v1.7h-1.7zM126.4 317.4h1.7v1.7h-1.7zM148.1 313.8h1.7v1.7h-1.7zM137.7 317.8h1.7v1.7h-1.7zM136.5 328.9h1.7v1.7h-1.7zM143.9 312.3h1.7v1.7h-1.7zM140.2 325.6h1.7v1.7h-1.7zM148.5 318.6h1.7v1.7h-1.7zM137.7 320.1h1.7v1.7h-1.7zM128.9 313.1h1.7v1.7h-1.7zM146.5 312.1h1.7v1.7h-1.7zM132.9 334.0h1.7v1.7h-1.7zM126.1 340.4h1.7v1.7h-1.7zM121.8 332.2h1.7v1.7h-1.7zM132.1 338.8h1.7v1.7h-1.7zM139.1 330.8h1.7v1.7h-1.7zM129.1 330.6h1.7v1.7h-1.7zM136.5 340.2h1.7v1.7h-1.7zM134.3 337.0h1.7v1.7h-1.7zM149.8 332.7h1.7v1.7h-1.7zM131.9 335.9h1.7v1.7h-1.7zM138.4 334.0h1.7v1.7h-1.7zM129.7 334.6h1.7v1.7h-1.7zM126.4 341.0h1.7v1.7h-1.7zM139.3 334.0h1.7v1.7h-1.7zM124.9 341.8h1.7v1.7h-1.7zM126.0 336.3h1.7v1.7h-1.7zM128.7 337.6h1.7v1.7h-1.7zM121.3 324.5h1.7v1.7h-1.7zM143.4 337.8h1.7v1.7h-1.7zM143.1 333.3h1.7v1.7h-1.7zM136.0 338.2h1.7v1.7h-1.7zM126.3 334.0h1.7v1.7h-1.7zM136.8 338.7h1.7v1.7h-1.7zM135.5 333.4h1.7v1.7h-1.7zM143.6 332.9h1.7v1.7h-1.7zM122.9 339.8h1.7v1.7h-1.7zM129.8 335.6h1.7v1.7h-1.7zM134.6 342.6h1.7v1.7h-1.7zM146.5 335.4h1.7v1.7h-1.7zM141.1 327.1h1.7v1.7h-1.7zM140.2 342.3h1.7v1.7h-1.7zM124.1 328.5h1.7v1.7h-1.7zM129.3 333.1h1.7v1.7h-1.7zM130.2 340.4h1.7v1.7h-1.7zM132.7 343.6h1.7v1.7h-1.7zM139.6 339.0h1.7v1.7h-1.7zM124.0 332.8h1.7v1.7h-1.7zM134.9 326.2h1.7v1.7h-1.7zM132.4 340.4h1.7v1.7h-1.7zM124.7 339.0h1.7v1.7h-1.7zM136.6 337.8h1.7v1.7h-1.7zM123.1 333.7h1.7v1.7h-1.7zM129.0 341.9h1.7v1.7h-1.7zM122.3 335.4h1.7v1.7h-1.7zM132.8 335.7h1.7v1.7h-1.7zM141.1 337.3h1.7v1.7h-1.7zM136.0 328.4h1.7v1.7h-1.7zM122.6 330.6h1.7v1.7h-1.7zM143.3 335.8h1.7v1.7h-1.7zM133.5 335.8h1.7v1.7h-1.7zM127.9 336.4h1.7v1.7h-1.7zM128.2 335.2h1.7v1.7h-1.7zM142.4 337.2h1.7v1.7h-1.7zM126.8 334.1h1.7v1.7h-1.7zM128.4 341.8h1.7v1.7h-1.7zM123.6 340.0h1.7v1.7h-1.7zM142.6 338.5h1.7v1.7h-1.7zM135.4 329.0h1.7v1.7h-1.7zM142.3 334.8h1.7v1.7h-1.7zM144.4 334.1h1.7v1.7h-1.7zM140.0 326.8h1.7v1.7h-1.7zM137.1 338.6h1.7v1.7h-1.7zM135.2 336.8h1.7v1.7h-1.7zM133.4 336.9h1.7v1.7h-1.7zM121.8 329.6h1.7v1.7h-1.7zM130.4 337.5h1.7v1.7h-1.7zM136.7 336.5h1.7v1.7h-1.7zM139.8 340.9h1.7v1.7h-1.7zM130.2 333.6h1.7v1.7h-1.7zM125.8 334.9h1.7v1.7h-1.7zM128.8 336.1h1.7v1.7h-1.7zM130.8 331.4h1.7v1.7h-1.7zM140.2 329.1h1.7v1.7h-1.7zM136.1 332.0h1.7v1.7h-1.7zM135.1 340.0h1.7v1.7h-1.7zM124.6 331.3h1.7v1.7h-1.7zM122.9 340.0h1.7v1.7h-1.7zM127.6 330.8h1.7v1.7h-1.7zM144.0 337.0h1.7v1.7h-1.7zM135.8 336.6h1.7v1.7h-1.7zM137.5 342.8h1.7v1.7h-1.7zM121.5 333.5h1.7v1.7h-1.7zM125.4 330.0h1.7v1.7h-1.7zM132.1 335.8h1.7v1.7h-1.7zM143.8 336.3h1.7v1.7h-1.7zM131.2 334.9h1.7v1.7h-1.7zM124.2 335.3h1.7v1.7h-1.7zM140.6 330.8h1.7v1.7h-1.7zM127.3 341.5h1.7v1.7h-1.7zM134.1 340.7h1.7v1.7h-1.7zM139.6 338.6h1.7v1.7h-1.7zM123.7 330.5h1.7v1.7h-1.7zM131.8 329.1h1.7v1.7h-1.7zM131.0 329.8h1.7v1.7h-1.7zM136.0 330.1h1.7v1.7h-1.7zM131.9 326.4h1.7v1.7h-1.7zM134.7 341.6h1.7v1.7h-1.7zM139.3 331.9h1.7v1.7h-1.7zM138.3 343.1h1.7v1.7h-1.7zM140.3 338.5h1.7v1.7h-1.7zM117.3 336.7h1.7v1.7h-1.7zM132.2 332.0h1.7v1.7h-1.7zM141.2 331.5h1.7v1.7h-1.7zM134.3 339.5h1.7v1.7h-1.7zM125.3 338.4h1.7v1.7h-1.7zM137.9 333.1h1.7v1.7h-1.7zM125.1 331.7h1.7v1.7h-1.7zM137.0 328.6h1.7v1.7h-1.7zM129.8 341.3h1.7v1.7h-1.7zM139.7 333.2h1.7v1.7h-1.7zM122.3 332.0h1.7v1.7h-1.7zM122.8 336.5h1.7v1.7h-1.7zM131.5 337.5h1.7v1.7h-1.7zM140.9 338.0h1.7v1.7h-1.7zM118.5 331.9h1.7v1.7h-1.7zM140.1 329.3h1.7v1.7h-1.7zM133.8 332.3h1.7v1.7h-1.7zM143.8 333.7h1.7v1.7h-1.7zM131.8 340.6h1.7v1.7h-1.7zM132.9 334.3h1.7v1.7h-1.7zM145.0 330.4h1.7v1.7h-1.7zM134.7 338.5h1.7v1.7h-1.7zM122.7 336.4h1.7v1.7h-1.7zM136.9 341.1h1.7v1.7h-1.7zM140.2 334.4h1.7v1.7h-1.7zM125.3 342.5h1.7v1.7h-1.7zM139.2 332.6h1.7v1.7h-1.7zM126.5 334.5h1.7v1.7h-1.7zM130.3 326.6h1.7v1.7h-1.7zM139.5 331.0h1.7v1.7h-1.7zM139.2 337.9h1.7v1.7h-1.7zM129.0 335.6h1.7v1.7h-1.7zM133.9 331.2h1.7v1.7h-1.7zM142.3 335.7h1.7v1.7h-1.7zM127.6 334.9h1.7v1.7h-1.7zM124.6 334.9h1.7v1.7h-1.7zM126.8 330.6h1.7v1.7h-1.7zM144.5 331.9h1.7v1.7h-1.7zM123.8 338.2h1.7v1.7h-1.7zM124.4 338.3h1.7v1.7h-1.7zM144.6 332.8h1.7v1.7h-1.7zM132.4 330.1h1.7v1.7h-1.7zM130.0 327.1h1.7v1.7h-1.7zM121.7 338.3h1.7v1.7h-1.7zM137.6 346.1h1.7v1.7h-1.7zM123.8 333.3h1.7v1.7h-1.7zM133.0 333.5h1.7v1.7h-1.7zM135.8 327.4h1.7v1.7h-1.7zM139.6 330.7h1.7v1.7h-1.7zM123.1 337.4h1.7v1.7h-1.7zM131.3 341.9h1.7v1.7h-1.7zM123.5 339.6h1.7v1.7h-1.7zM142.2 337.7h1.7v1.7h-1.7zM136.3 342.7h1.7v1.7h-1.7zM143.0 334.1h1.7v1.7h-1.7zM128.4 342.4h1.7v1.7h-1.7zM131.5 339.8h1.7v1.7h-1.7zM138.9 331.9h1.7v1.7h-1.7zM134.8 340.6h1.7v1.7h-1.7zM132.7 342.6h1.7v1.7h-1.7zM139.6 334.7h1.7v1.7h-1.7zM141.0 337.5h1.7v1.7h-1.7zM121.8 333.8h1.7v1.7h-1.7zM123.9 336.8h1.7v1.7h-1.7zM126.2 340.7h1.7v1.7h-1.7zM136.2 336.7h1.7v1.7h-1.7zM132.8 342.2h1.7v1.7h-1.7zM143.0 334.7h1.7v1.7h-1.7zM144.3 334.0h1.7v1.7h-1.7zM143.9 340.0h1.7v1.7h-1.7zM133.3 332.9h1.7v1.7h-1.7zM120.2 331.9h1.7v1.7h-1.7zM135.4 327.2h1.7v1.7h-1.7zM141.7 335.8h1.7v1.7h-1.7zM128.1 332.4h1.7v1.7h-1.7zM127.1 334.6h1.7v1.7h-1.7zM140.9 340.2h1.7v1.7h-1.7zM132.1 343.3h1.7v1.7h-1.7zM125.0 336.8h1.7v1.7h-1.7zM129.8 337.8h1.7v1.7h-1.7zM131.6 327.1h1.7v1.7h-1.7zM123.3 335.0h1.7v1.7h-1.7zM142.8 333.2h1.7v1.7h-1.7zM125.5 332.4h1.7v1.7h-1.7zM120.6 330.9h1.7v1.7h-1.7zM137.0 331.5h1.7v1.7h-1.7zM135.9 333.0h1.7v1.7h-1.7zM138.7 328.6h1.7v1.7h-1.7zM125.9 332.0h1.7v1.7h-1.7zM133.8 334.2h1.7v1.7h-1.7zM126.1 338.3h1.7v1.7h-1.7zM118.5 332.5h1.7v1.7h-1.7zM133.0 333.6h1.7v1.7h-1.7zM131.5 337.0h1.7v1.7h-1.7zM122.9 343.4h1.7v1.7h-1.7zM137.8 333.4h1.7v1.7h-1.7zM143.2 338.3h1.7v1.7h-1.7zM130.3 334.1h1.7v1.7h-1.7zM126.7 335.8h1.7v1.7h-1.7zM130.9 333.2h1.7v1.7h-1.7zM131.4 329.4h1.7v1.7h-1.7zM136.5 334.4h1.7v1.7h-1.7zM134.8 324.4h1.7v1.7h-1.7zM117.1 331.9h1.7v1.7h-1.7zM131.5 331.8h1.7v1.7h-1.7zM143.6 342.9h1.7v1.7h-1.7zM134.6 336.1h1.7v1.7h-1.7zM128.2 339.5h1.7v1.7h-1.7zM144.4 341.4h1.7v1.7h-1.7zM137.0 328.6h1.7v1.7h-1.7zM133.2 337.2h1.7v1.7h-1.7zM131.0 341.8h1.7v1.7h-1.7zM130.8 331.3h1.7v1.7h-1.7zM137.8 343.4h1.7v1.7h-1.7zM124.4 340.0h1.7v1.7h-1.7zM138.5 333.4h1.7v1.7h-1.7zM141.9 335.1h1.7v1.7h-1.7zM141.7 330.5h1.7v1.7h-1.7zM136.5 331.1h1.7v1.7h-1.7zM137.8 337.7h1.7v1.7h-1.7zM123.5 337.0h1.7v1.7h-1.7zM142.6 336.2h1.7v1.7h-1.7zM132.7 340.3h1.7v1.7h-1.7zM130.3 343.0h1.7v1.7h-1.7zM136.7 329.1h1.7v1.7h-1.7zM140.6 335.1h1.7v1.7h-1.7zM145.0 333.4h1.7v1.7h-1.7zM139.3 343.3h1.7v1.7h-1.7zM128.5 334.9h1.7v1.7h-1.7zM137.7 328.9h1.7v1.7h-1.7zM125.6 333.6h1.7v1.7h-1.7zM129.1 342.4h1.7v1.7h-1.7zM137.9 339.3h1.7v1.7h-1.7zM134.8 336.1h1.7v1.7h-1.7zM142.0 335.1h1.7v1.7h-1.7zM134.4 326.1h1.7v1.7h-1.7zM131.8 341.7h1.7v1.7h-1.7zM142.3 338.0h1.7v1.7h-1.7zM125.9 332.9h1.7v1.7h-1.7zM125.1 330.6h1.7v1.7h-1.7zM127.0 333.9h1.7v1.7h-1.7zM133.8 341.6h1.7v1.7h-1.7zM136.2 336.9h1.7v1.7h-1.7zM131.9 331.9h1.7v1.7h-1.7zM139.1 337.5h1.7v1.7h-1.7zM138.6 333.3h1.7v1.7h-1.7zM128.2 330.6h1.7v1.7h-1.7zM142.8 334.8h1.7v1.7h-1.7zM132.6 329.7h1.7v1.7h-1.7zM123.9 335.8h1.7v1.7h-1.7z" fill="#000"/>
<path d="M142.1 367.0h1.55v1.55h-1.55zM143.1 359.3h1.55v1.55h-1.55zM141.4 370.7h1.55v1.55h-1.55zM138.9 367.2h1.55v1.55h-1.55zM141.3 366.5h1.55v1.55h-1.55zM137.7 360.9h1.55v1.55h-1.55zM146.9 355.8h1.55v1.55h-1.55zM136.6 346.6h1.55v1.55h-1.55zM129.8 362.0h1.55v1.55h-1.55zM136.5 355.8h1.55v1.55h-1.55zM143.9 345.4h1.55v1.55h-1.55zM140.7 362.2h1.55v1.55h-1.55zM145.1 350.9h1.55v1.55h-1.55zM152.6 354.7h1.55v1.55h-1.55zM134.8 348.9h1.55v1.55h-1.55zM137.1 351.2h1.55v1.55h-1.55zM139.2 373.8h1.55v1.55h-1.55zM130.5 357.6h1.55v1.55h-1.55zM132.0 358.7h1.55v1.55h-1.55zM149.0 347.1h1.55v1.55h-1.55zM154.2 369.1h1.55v1.55h-1.55zM134.8 345.2h1.55v1.55h-1.55zM152.4 368.3h1.55v1.55h-1.55zM144.8 363.4h1.55v1.55h-1.55zM142.3 364.4h1.55v1.55h-1.55zM147.3 356.2h1.55v1.55h-1.55zM137.7 358.0h1.55v1.55h-1.55zM133.7 352.8h1.55v1.55h-1.55zM143.0 353.1h1.55v1.55h-1.55zM133.2 352.1h1.55v1.55h-1.55zM138.6 367.4h1.55v1.55h-1.55zM148.8 360.5h1.55v1.55h-1.55zM136.4 345.3h1.55v1.55h-1.55zM142.1 354.1h1.55v1.55h-1.55zM151.9 372.0h1.55v1.55h-1.55zM136.6 355.9h1.55v1.55h-1.55zM139.6 366.9h1.55v1.55h-1.55zM144.9 356.1h1.55v1.55h-1.55zM141.9 351.8h1.55v1.55h-1.55zM135.1 357.9h1.55v1.55h-1.55zM139.7 352.4h1.55v1.55h-1.55zM147.6 353.9h1.55v1.55h-1.55zM135.0 364.2h1.55v1.55h-1.55zM139.7 370.8h1.55v1.55h-1.55zM146.0 374.2h1.55v1.55h-1.55zM140.2 364.3h1.55v1.55h-1.55zM152.6 348.9h1.55v1.55h-1.55zM151.7 359.4h1.55v1.55h-1.55zM135.1 358.0h1.55v1.55h-1.55zM141.2 371.3h1.55v1.55h-1.55zM149.1 358.0h1.55v1.55h-1.55zM139.2 361.7h1.55v1.55h-1.55zM130.5 356.4h1.55v1.55h-1.55zM146.0 367.4h1.55v1.55h-1.55zM140.0 345.3h1.55v1.55h-1.55zM135.0 343.7h1.55v1.55h-1.55zM145.9 372.2h1.55v1.55h-1.55zM134.1 353.8h1.55v1.55h-1.55zM135.3 365.8h1.55v1.55h-1.55zM135.8 371.8h1.55v1.55h-1.55zM150.2 364.5h1.55v1.55h-1.55zM134.2 354.7h1.55v1.55h-1.55zM145.0 373.1h1.55v1.55h-1.55zM134.7 367.6h1.55v1.55h-1.55zM136.1 355.8h1.55v1.55h-1.55zM149.1 353.1h1.55v1.55h-1.55zM138.7 354.0h1.55v1.55h-1.55zM140.3 354.3h1.55v1.55h-1.55zM136.5 354.6h1.55v1.55h-1.55zM136.1 372.0h1.55v1.55h-1.55zM152.2 356.5h1.55v1.55h-1.55zM149.7 355.1h1.55v1.55h-1.55zM147.9 359.6h1.55v1.55h-1.55zM152.1 360.4h1.55v1.55h-1.55zM125.0 367.4h1.55v1.55h-1.55zM146.4 360.8h1.55v1.55h-1.55zM141.7 349.2h1.55v1.55h-1.55zM139.0 374.4h1.55v1.55h-1.55zM126.6 355.9h1.55v1.55h-1.55zM152.0 350.7h1.55v1.55h-1.55zM150.8 356.7h1.55v1.55h-1.55zM144.6 350.4h1.55v1.55h-1.55zM149.7 366.0h1.55v1.55h-1.55zM149.1 364.2h1.55v1.55h-1.55zM140.8 369.3h1.55v1.55h-1.55zM133.9 361.2h1.55v1.55h-1.55zM138.6 360.3h1.55v1.55h-1.55zM149.1 350.7h1.55v1.55h-1.55zM147.8 366.6h1.55v1.55h-1.55zM153.6 364.5h1.55v1.55h-1.55zM147.7 347.5h1.55v1.55h-1.55zM151.5 372.1h1.55v1.55h-1.55zM142.2 353.4h1.55v1.55h-1.55zM132.2 363.4h1.55v1.55h-1.55zM142.5 354.7h1.55v1.55h-1.55zM155.2 359.2h1.55v1.55h-1.55zM134.7 353.0h1.55v1.55h-1.55zM157.4 369.4h1.55v1.55h-1.55zM148.3 366.3h1.55v1.55h-1.55zM140.9 347.0h1.55v1.55h-1.55zM127.5 357.8h1.55v1.55h-1.55zM131.7 350.9h1.55v1.55h-1.55zM146.1 355.2h1.55v1.55h-1.55zM131.6 364.6h1.55v1.55h-1.55zM132.9 361.7h1.55v1.55h-1.55zM151.3 355.9h1.55v1.55h-1.55zM136.0 359.3h1.55v1.55h-1.55zM157.9 365.9h1.55v1.55h-1.55zM139.2 349.1h1.55v1.55h-1.55zM150.8 364.5h1.55v1.55h-1.55zM134.6 352.9h1.55v1.55h-1.55zM131.8 359.1h1.55v1.55h-1.55zM136.4 342.9h1.55v1.55h-1.55zM147.9 357.0h1.55v1.55h-1.55zM138.7 348.6h1.55v1.55h-1.55zM142.8 350.0h1.55v1.55h-1.55zM149.5 369.7h1.55v1.55h-1.55zM143.1 369.8h1.55v1.55h-1.55zM133.9 368.3h1.55v1.55h-1.55zM139.5 343.8h1.55v1.55h-1.55zM147.8 366.9h1.55v1.55h-1.55zM137.5 368.5h1.55v1.55h-1.55zM144.8 362.7h1.55v1.55h-1.55zM139.2 354.7h1.55v1.55h-1.55zM145.3 367.7h1.55v1.55h-1.55zM146.6 354.9h1.55v1.55h-1.55zM149.7 355.2h1.55v1.55h-1.55zM141.8 365.7h1.55v1.55h-1.55zM138.1 361.3h1.55v1.55h-1.55zM142.3 352.7h1.55v1.55h-1.55zM145.5 356.9h1.55v1.55h-1.55zM152.2 353.3h1.55v1.55h-1.55zM138.6 370.3h1.55v1.55h-1.55zM144.2 369.9h1.55v1.55h-1.55zM145.1 349.0h1.55v1.55h-1.55zM150.4 358.9h1.55v1.55h-1.55zM137.3 353.9h1.55v1.55h-1.55zM150.7 359.3h1.55v1.55h-1.55zM135.6 353.7h1.55v1.55h-1.55zM151.6 367.1h1.55v1.55h-1.55zM126.8 358.3h1.55v1.55h-1.55zM131.4 360.6h1.55v1.55h-1.55zM145.9 357.2h1.55v1.55h-1.55zM134.5 353.7h1.55v1.55h-1.55zM140.6 366.6h1.55v1.55h-1.55zM148.7 354.6h1.55v1.55h-1.55zM153.5 346.2h1.55v1.55h-1.55zM141.2 354.7h1.55v1.55h-1.55zM139.2 365.8h1.55v1.55h-1.55zM133.4 370.3h1.55v1.55h-1.55zM150.3 356.2h1.55v1.55h-1.55zM148.9 361.6h1.55v1.55h-1.55zM148.8 358.2h1.55v1.55h-1.55zM150.6 368.8h1.55v1.55h-1.55zM138.9 367.8h1.55v1.55h-1.55zM145.3 358.4h1.55v1.55h-1.55zM154.3 364.3h1.55v1.55h-1.55zM156.9 355.5h1.55v1.55h-1.55zM136.9 355.2h1.55v1.55h-1.55zM136.8 357.2h1.55v1.55h-1.55zM136.5 364.2h1.55v1.55h-1.55zM137.1 352.6h1.55v1.55h-1.55zM142.3 353.1h1.55v1.55h-1.55zM142.8 356.5h1.55v1.55h-1.55z" fill="#1a1a1a"/>
<path d="M125.8 316.8h1.45v1.45h-1.45zM125.2 306.8h1.45v1.45h-1.45zM142.0 332.4h1.45v1.45h-1.45zM156.7 348.0h1.45v1.45h-1.45zM129.1 319.0h1.45v1.45h-1.45zM131.5 325.3h1.45v1.45h-1.45zM116.7 334.2h1.45v1.45h-1.45zM147.2 335.9h1.45v1.45h-1.45zM128.1 348.9h1.45v1.45h-1.45zM119.5 301.0h1.45v1.45h-1.45zM118.7 337.0h1.45v1.45h-1.45zM161.5 315.0h1.45v1.45h-1.45zM115.9 325.2h1.45v1.45h-1.45zM125.1 328.2h1.45v1.45h-1.45zM134.7 327.1h1.45v1.45h-1.45zM136.4 323.4h1.45v1.45h-1.45zM154.7 344.6h1.45v1.45h-1.45zM120.7 336.5h1.45v1.45h-1.45zM157.5 350.0h1.45v1.45h-1.45zM150.1 332.7h1.45v1.45h-1.45zM139.4 314.1h1.45v1.45h-1.45zM129.9 350.4h1.45v1.45h-1.45zM124.4 314.0h1.45v1.45h-1.45zM144.4 338.0h1.45v1.45h-1.45zM104.8 313.9h1.45v1.45h-1.45zM108.5 331.8h1.45v1.45h-1.45zM134.9 327.0h1.45v1.45h-1.45zM128.8 347.7h1.45v1.45h-1.45zM129.7 341.7h1.45v1.45h-1.45zM140.4 314.1h1.45v1.45h-1.45zM123.4 337.2h1.45v1.45h-1.45zM141.9 345.1h1.45v1.45h-1.45zM127.6 327.0h1.45v1.45h-1.45zM153.3 313.5h1.45v1.45h-1.45zM157.4 325.4h1.45v1.45h-1.45zM120.9 334.8h1.45v1.45h-1.45zM118.5 328.2h1.45v1.45h-1.45zM121.8 326.1h1.45v1.45h-1.45zM137.3 341.6h1.45v1.45h-1.45zM125.4 342.0h1.45v1.45h-1.45zM126.4 319.0h1.45v1.45h-1.45zM140.4 307.5h1.45v1.45h-1.45zM147.3 316.6h1.45v1.45h-1.45zM125.2 307.2h1.45v1.45h-1.45zM133.4 315.9h1.45v1.45h-1.45zM156.9 319.8h1.45v1.45h-1.45zM139.1 335.2h1.45v1.45h-1.45zM134.1 332.1h1.45v1.45h-1.45zM159.5 319.0h1.45v1.45h-1.45zM110.7 352.0h1.45v1.45h-1.45zM69.0 364.9h1.45v1.45h-1.45zM41.1 359.7h1.45v1.45h-1.45zM99.6 342.4h1.45v1.45h-1.45zM43.2 338.2h1.45v1.45h-1.45zM74.7 357.3h1.45v1.45h-1.45zM94.7 373.0h1.45v1.45h-1.45zM91.2 342.7h1.45v1.45h-1.45zM81.8 332.5h1.45v1.45h-1.45zM76.8 323.2h1.45v1.45h-1.45zM56.2 330.3h1.45v1.45h-1.45zM75.4 317.2h1.45v1.45h-1.45zM61.7 352.5h1.45v1.45h-1.45zM86.4 356.9h1.45v1.45h-1.45zM97.1 365.5h1.45v1.45h-1.45zM98.9 335.9h1.45v1.45h-1.45zM83.0 372.9h1.45v1.45h-1.45zM70.2 372.7h1.45v1.45h-1.45zM73.7 355.6h1.45v1.45h-1.45zM86.7 337.9h1.45v1.45h-1.45zM46.4 341.9h1.45v1.45h-1.45zM72.7 345.4h1.45v1.45h-1.45zM61.2 333.4h1.45v1.45h-1.45zM56.7 349.5h1.45v1.45h-1.45zM94.8 369.3h1.45v1.45h-1.45zM69.5 366.6h1.45v1.45h-1.45zM65.7 359.7h1.45v1.45h-1.45zM70.6 319.0h1.45v1.45h-1.45zM72.1 338.4h1.45v1.45h-1.45zM91.1 373.3h1.45v1.45h-1.45zM82.5 365.5h1.45v1.45h-1.45zM72.6 348.9h1.45v1.45h-1.45zM64.7 369.1h1.45v1.45h-1.45zM43.7 348.1h1.45v1.45h-1.45zM53.4 332.6h1.45v1.45h-1.45zM53.9 351.9h1.45v1.45h-1.45zM70.9 346.9h1.45v1.45h-1.45zM72.0 355.7h1.45v1.45h-1.45zM51.2 322.9h1.45v1.45h-1.45zM56.1 349.7h1.45v1.45h-1.45zM92.3 330.6h1.45v1.45h-1.45zM96.5 352.1h1.45v1.45h-1.45zM58.1 348.8h1.45v1.45h-1.45zM97.2 349.8h1.45v1.45h-1.45zM87.4 335.9h1.45v1.45h-1.45zM59.0 367.2h1.45v1.45h-1.45zM79.7 346.6h1.45v1.45h-1.45zM70.0 364.9h1.45v1.45h-1.45zM74.0 333.5h1.45v1.45h-1.45zM60.3 344.3h1.45v1.45h-1.45zM58.4 346.1h1.45v1.45h-1.45zM78.1 355.3h1.45v1.45h-1.45zM76.4 359.0h1.45v1.45h-1.45zM74.8 341.2h1.45v1.45h-1.45zM66.9 341.8h1.45v1.45h-1.45zM99.5 360.6h1.45v1.45h-1.45zM54.6 353.5h1.45v1.45h-1.45zM75.4 346.6h1.45v1.45h-1.45zM89.0 349.5h1.45v1.45h-1.45zM55.3 332.1h1.45v1.45h-1.45zM74.1 354.1h1.45v1.45h-1.45zM86.4 350.9h1.45v1.45h-1.45zM60.9 351.8h1.45v1.45h-1.45zM67.8 337.2h1.45v1.45h-1.45zM82.2 363.7h1.45v1.45h-1.45zM65.9 335.6h1.45v1.45h-1.45zM84.2 360.4h1.45v1.45h-1.45zM99.9 346.3h1.45v1.45h-1.45zM77.2 342.6h1.45v1.45h-1.45zM81.3 353.5h1.45v1.45h-1.45zM77.5 360.1h1.45v1.45h-1.45zM83.1 342.6h1.45v1.45h-1.45zM96.6 354.3h1.45v1.45h-1.45zM70.8 368.4h1.45v1.45h-1.45zM59.5 339.9h1.45v1.45h-1.45zM63.5 349.1h1.45v1.45h-1.45zM107.9 366.4h1.45v1.45h-1.45zM84.5 354.9h1.45v1.45h-1.45zM51.0 359.0h1.45v1.45h-1.45zM78.5 334.6h1.45v1.45h-1.45zM87.2 322.0h1.45v1.45h-1.45zM46.4 364.7h1.45v1.45h-1.45zM58.3 367.2h1.45v1.45h-1.45zM66.7 343.5h1.45v1.45h-1.45zM84.7 333.5h1.45v1.45h-1.45zM79.1 365.0h1.45v1.45h-1.45zM59.2 337.6h1.45v1.45h-1.45zM93.7 354.5h1.45v1.45h-1.45zM80.2 360.4h1.45v1.45h-1.45zM77.4 340.9h1.45v1.45h-1.45zM77.1 333.9h1.45v1.45h-1.45zM77.5 339.3h1.45v1.45h-1.45zM42.6 372.0h1.45v1.45h-1.45zM72.4 354.5h1.45v1.45h-1.45zM40.9 339.0h1.45v1.45h-1.45zM71.0 365.0h1.45v1.45h-1.45zM173.3 329.1h1.45v1.45h-1.45zM171.7 300.8h1.45v1.45h-1.45zM173.8 356.2h1.45v1.45h-1.45zM127.7 307.9h1.45v1.45h-1.45zM136.2 316.2h1.45v1.45h-1.45zM133.5 302.1h1.45v1.45h-1.45zM172.1 301.1h1.45v1.45h-1.45zM115.0 358.6h1.45v1.45h-1.45zM141.9 372.5h1.45v1.45h-1.45zM173.8 352.4h1.45v1.45h-1.45zM165.1 307.1h1.45v1.45h-1.45zM173.1 351.7h1.45v1.45h-1.45z" fill="#2a2a2a"/>
<rect x="38.5" y="259.8" width="164.90" height="116.70" fill="none" stroke="#000" stroke-width="1.5"/>
<text x="38.96" y="389.50" font-family="Liberation Sans" font-size="11" fill="#111">10</text>
<text x="50.90" y="386.10" font-family="Liberation Sans" font-size="8" fill="#111">0</text>
<g transform="translate(32.80,375.34) rotate(-90)"><text x="0" y="0" font-family="Liberation Sans" font-size="11" fill="#111">10</text><text x="11.94" y="-3.4" font-family="Liberation Sans" font-size="8" fill="#111">0</text></g>
<text x="80.19" y="389.50" font-family="Liberation Sans" font-size="11" fill="#111">10</text>
<text x="92.12" y="386.10" font-family="Liberation Sans" font-size="8" fill="#111">1</text>
<g transform="translate(32.80,346.16) rotate(-90)"><text x="0" y="0" font-family="Liberation Sans" font-size="11" fill="#111">10</text><text x="11.94" y="-3.4" font-family="Liberation Sans" font-size="8" fill="#111">1</text></g>
<text x="121.41" y="389.50" font-family="Liberation Sans" font-size="11" fill="#111">10</text>
<text x="133.35" y="386.10" font-family="Liberation Sans" font-size="8" fill="#111">2</text>
<g transform="translate(32.80,316.99) rotate(-90)"><text x="0" y="0" font-family="Liberation Sans" font-size="11" fill="#111">10</text><text x="11.94" y="-3.4" font-family="Liberation Sans" font-size="8" fill="#111">2</text></g>
<text x="162.64" y="389.50" font-family="Liberation Sans" font-size="11" fill="#111">10</text>
<text x="174.57" y="386.10" font-family="Liberation Sans" font-size="8" fill="#111">3</text>
<g transform="translate(32.80,287.81) rotate(-90)"><text x="0" y="0" font-family="Liberation Sans" font-size="11" fill="#111">10</text><text x="11.94" y="-3.4" font-family="Liberation Sans" font-size="8" fill="#111">3</text></g>
<text x="203.86" y="389.50" font-family="Liberation Sans" font-size="11" fill="#111">10</text>
<text x="215.80" y="386.10" font-family="Liberation Sans" font-size="8" fill="#111">4</text>
<g transform="translate(32.80,258.64) rotate(-90)"><text x="0" y="0" font-family="Liberation Sans" font-size="11" fill="#111">10</text><text x="11.94" y="-3.4" font-family="Liberation Sans" font-size="8" fill="#111">4</text></g>
<text transform="translate(57.53,235.35) scale(1.075,1)" font-family="Liberation Serif" font-size="17" fill="#111">Spleen +/+</text>
<text x="7.54" y="232.50" font-family="Liberation Sans" font-size="12" fill="#111" >3.2%</text>
<text x="207.04" y="232.50" font-family="Liberation Sans" font-size="12" fill="#111" >34.4%</text>
<text x="3.59" y="412.50" font-family="Liberation Sans" font-size="12" fill="#111" >12.2%</text>
<text x="207.02" y="413.75" font-family="Liberation Sans" font-size="12" fill="#111" >50.3%</text>
<text x="104.49" y="408.75" font-family="Liberation Sans" font-size="12" fill="#111" >eGFP</text>
<text transform="translate(15.50,340.21) rotate(-90)" font-family="Liberation Sans" font-size="12" fill="#111">CD8-PE</text>
<path d="M311.60 380.60v4.5M311.60 380.60h-3.5M324.03 380.60v4.5M311.60 370.88h-3.5M331.29 380.60v4.5M311.60 365.20h-3.5M336.45 380.60v4.5M311.60 361.17h-3.5M340.45 380.60v4.5M311.60 358.04h-3.5M343.72 380.60v4.5M311.60 355.49h-3.5M346.48 380.60v4.5M311.60 353.32h-3.5M348.88 380.60v4.5M311.60 351.45h-3.5M350.99 380.60v4.5M311.60 349.80h-3.5M352.88 380.60v4.5M311.60 348.33h-3.5M365.30 380.60v4.5M311.60 338.61h-3.5M372.57 380.60v4.5M311.60 332.93h-3.5M377.73 380.60v4.5M311.60 328.89h-3.5M381.72 380.60v4.5M311.60 325.77h-3.5M384.99 380.60v4.5M311.60 323.21h-3.5M387.76 380.60v4.5M311.60 321.05h-3.5M390.15 380.60v4.5M311.60 319.18h-3.5M392.26 380.60v4.5M311.60 317.53h-3.5M394.15 380.60v4.5M311.60 316.05h-3.5M406.58 380.60v4.5M311.60 306.33h-3.5M413.84 380.60v4.5M311.60 300.65h-3.5M419.00 380.60v4.5M311.60 296.62h-3.5M423.00 380.60v4.5M311.60 293.49h-3.5M426.27 380.60v4.5M311.60 290.94h-3.5M429.03 380.60v4.5M311.60 288.77h-3.5M431.43 380.60v4.5M311.60 286.90h-3.5M433.54 380.60v4.5M311.60 285.25h-3.5M435.43 380.60v4.5M311.60 283.77h-3.5M447.85 380.60v4.5M311.60 274.06h-3.5M455.12 380.60v4.5M311.60 268.38h-3.5M460.28 380.60v4.5M311.60 264.34h-3.5M464.27 380.60v4.5M311.60 261.22h-3.5M467.54 380.60v4.5M311.60 258.66h-3.5M470.31 380.60v4.5M311.60 256.50h-3.5M472.70 380.60v4.5M311.60 254.63h-3.5M474.81 380.60v4.5M311.60 252.98h-3.5M476.70 380.60v4.5M311.60 251.50h-3.5" stroke="#000" stroke-width="1.2" fill="none"/>
<line x1="311.6" y1="347.8" x2="476.7" y2="347.8" stroke="#b8b8b8" stroke-width="1.2"/>
<path d="M398.5 316.5h1.7v1.7h-1.7zM396.2 315.0h1.7v1.7h-1.7zM397.0 315.9h1.7v1.7h-1.7zM410.8 326.0h1.7v1.7h-1.7zM393.1 323.4h1.7v1.7h-1.7zM396.3 317.9h1.7v1.7h-1.7zM400.0 314.8h1.7v1.7h-1.7zM393.5 324.6h1.7v1.7h-1.7zM397.8 326.1h1.7v1.7h-1.7zM389.9 325.7h1.7v1.7h-1.7zM407.1 319.0h1.7v1.7h-1.7zM388.1 322.7h1.7v1.7h-1.7zM383.7 320.6h1.7v1.7h-1.7zM390.7 320.1h1.7v1.7h-1.7zM391.5 327.9h1.7v1.7h-1.7zM414.3 324.2h1.7v1.7h-1.7zM398.1 316.6h1.7v1.7h-1.7zM402.9 326.4h1.7v1.7h-1.7zM396.7 321.8h1.7v1.7h-1.7zM412.4 316.1h1.7v1.7h-1.7zM398.1 315.4h1.7v1.7h-1.7zM404.6 330.0h1.7v1.7h-1.7zM392.8 313.3h1.7v1.7h-1.7zM389.5 321.2h1.7v1.7h-1.7zM397.8 326.2h1.7v1.7h-1.7zM405.7 315.3h1.7v1.7h-1.7zM386.7 326.4h1.7v1.7h-1.7zM399.3 331.9h1.7v1.7h-1.7zM410.7 326.7h1.7v1.7h-1.7zM396.3 319.1h1.7v1.7h-1.7zM413.3 321.2h1.7v1.7h-1.7zM409.2 317.4h1.7v1.7h-1.7zM405.6 317.9h1.7v1.7h-1.7zM413.5 317.4h1.7v1.7h-1.7zM392.6 328.8h1.7v1.7h-1.7zM390.8 331.6h1.7v1.7h-1.7zM392.1 315.4h1.7v1.7h-1.7zM414.7 318.8h1.7v1.7h-1.7zM405.0 317.8h1.7v1.7h-1.7zM388.7 329.7h1.7v1.7h-1.7zM398.8 327.5h1.7v1.7h-1.7zM406.3 322.0h1.7v1.7h-1.7zM392.9 321.1h1.7v1.7h-1.7zM411.3 317.1h1.7v1.7h-1.7zM391.2 321.8h1.7v1.7h-1.7zM404.0 322.4h1.7v1.7h-1.7zM401.6 319.6h1.7v1.7h-1.7zM405.5 319.4h1.7v1.7h-1.7zM412.1 325.4h1.7v1.7h-1.7zM394.7 312.8h1.7v1.7h-1.7zM396.3 322.2h1.7v1.7h-1.7zM401.4 327.0h1.7v1.7h-1.7zM398.0 322.1h1.7v1.7h-1.7zM406.3 320.7h1.7v1.7h-1.7zM413.1 325.6h1.7v1.7h-1.7zM410.5 316.8h1.7v1.7h-1.7zM394.5 314.2h1.7v1.7h-1.7zM394.5 331.9h1.7v1.7h-1.7zM400.0 318.5h1.7v1.7h-1.7zM386.5 317.4h1.7v1.7h-1.7zM402.5 322.2h1.7v1.7h-1.7zM390.2 314.9h1.7v1.7h-1.7zM409.3 318.7h1.7v1.7h-1.7zM397.1 326.9h1.7v1.7h-1.7zM402.2 329.4h1.7v1.7h-1.7zM398.9 314.9h1.7v1.7h-1.7zM391.3 326.1h1.7v1.7h-1.7zM397.6 323.2h1.7v1.7h-1.7zM396.9 328.1h1.7v1.7h-1.7zM412.8 322.6h1.7v1.7h-1.7zM391.0 320.5h1.7v1.7h-1.7zM394.5 317.9h1.7v1.7h-1.7zM414.3 318.4h1.7v1.7h-1.7zM400.7 325.0h1.7v1.7h-1.7zM397.0 331.3h1.7v1.7h-1.7zM410.7 326.6h1.7v1.7h-1.7zM409.1 323.8h1.7v1.7h-1.7zM394.5 329.8h1.7v1.7h-1.7zM398.7 317.6h1.7v1.7h-1.7zM415.3 324.6h1.7v1.7h-1.7zM403.6 328.4h1.7v1.7h-1.7zM395.8 319.5h1.7v1.7h-1.7zM405.0 322.2h1.7v1.7h-1.7zM394.8 328.8h1.7v1.7h-1.7zM399.0 317.1h1.7v1.7h-1.7zM390.2 317.2h1.7v1.7h-1.7zM395.2 318.7h1.7v1.7h-1.7zM387.3 315.7h1.7v1.7h-1.7zM405.3 315.4h1.7v1.7h-1.7zM407.1 326.4h1.7v1.7h-1.7zM403.1 326.6h1.7v1.7h-1.7zM393.2 312.3h1.7v1.7h-1.7zM391.6 326.7h1.7v1.7h-1.7zM402.0 323.3h1.7v1.7h-1.7zM402.3 332.1h1.7v1.7h-1.7zM400.5 314.9h1.7v1.7h-1.7zM384.2 323.1h1.7v1.7h-1.7zM396.4 319.9h1.7v1.7h-1.7zM408.7 316.6h1.7v1.7h-1.7zM409.7 327.0h1.7v1.7h-1.7zM398.3 328.6h1.7v1.7h-1.7zM390.9 322.2h1.7v1.7h-1.7zM386.2 319.4h1.7v1.7h-1.7zM408.1 312.8h1.7v1.7h-1.7zM405.2 326.9h1.7v1.7h-1.7zM406.4 328.5h1.7v1.7h-1.7zM392.7 324.9h1.7v1.7h-1.7zM409.2 330.6h1.7v1.7h-1.7zM406.4 332.4h1.7v1.7h-1.7zM388.7 311.6h1.7v1.7h-1.7zM393.0 321.2h1.7v1.7h-1.7zM400.0 311.7h1.7v1.7h-1.7zM411.5 321.8h1.7v1.7h-1.7zM405.4 325.8h1.7v1.7h-1.7zM391.5 316.2h1.7v1.7h-1.7zM394.9 329.1h1.7v1.7h-1.7zM400.4 322.9h1.7v1.7h-1.7zM412.0 323.9h1.7v1.7h-1.7zM396.4 326.6h1.7v1.7h-1.7zM394.5 329.3h1.7v1.7h-1.7zM389.9 313.7h1.7v1.7h-1.7zM407.5 322.7h1.7v1.7h-1.7zM392.8 324.6h1.7v1.7h-1.7zM406.9 326.7h1.7v1.7h-1.7zM403.0 324.6h1.7v1.7h-1.7zM389.7 321.7h1.7v1.7h-1.7zM399.3 322.2h1.7v1.7h-1.7zM397.4 324.2h1.7v1.7h-1.7zM395.6 321.6h1.7v1.7h-1.7zM411.2 325.4h1.7v1.7h-1.7zM401.4 325.6h1.7v1.7h-1.7zM390.4 324.3h1.7v1.7h-1.7zM409.8 323.7h1.7v1.7h-1.7zM395.5 329.6h1.7v1.7h-1.7zM389.1 320.4h1.7v1.7h-1.7zM391.7 324.2h1.7v1.7h-1.7zM398.2 326.6h1.7v1.7h-1.7zM404.5 330.9h1.7v1.7h-1.7zM388.4 315.9h1.7v1.7h-1.7zM392.8 317.1h1.7v1.7h-1.7zM401.1 322.9h1.7v1.7h-1.7zM400.5 327.2h1.7v1.7h-1.7zM390.1 317.2h1.7v1.7h-1.7zM412.3 327.8h1.7v1.7h-1.7zM404.4 328.9h1.7v1.7h-1.7zM402.4 327.5h1.7v1.7h-1.7zM406.3 310.7h1.7v1.7h-1.7zM393.8 328.4h1.7v1.7h-1.7zM405.9 327.5h1.7v1.7h-1.7zM399.7 316.1h1.7v1.7h-1.7zM397.1 324.3h1.7v1.7h-1.7zM406.0 328.1h1.7v1.7h-1.7zM404.2 324.3h1.7v1.7h-1.7zM382.5 317.9h1.7v1.7h-1.7zM413.0 318.9h1.7v1.7h-1.7zM398.8 312.9h1.7v1.7h-1.7zM390.9 329.8h1.7v1.7h-1.7zM389.6 327.5h1.7v1.7h-1.7zM395.3 312.4h1.7v1.7h-1.7zM385.3 320.0h1.7v1.7h-1.7zM386.9 319.9h1.7v1.7h-1.7zM407.8 324.2h1.7v1.7h-1.7zM387.9 328.1h1.7v1.7h-1.7zM386.6 324.7h1.7v1.7h-1.7zM401.3 319.6h1.7v1.7h-1.7zM404.4 315.8h1.7v1.7h-1.7zM404.7 322.0h1.7v1.7h-1.7zM407.1 323.9h1.7v1.7h-1.7zM401.7 328.3h1.7v1.7h-1.7zM394.4 323.9h1.7v1.7h-1.7zM394.5 323.6h1.7v1.7h-1.7zM393.2 324.4h1.7v1.7h-1.7zM402.8 324.5h1.7v1.7h-1.7zM404.7 330.1h1.7v1.7h-1.7zM407.2 316.2h1.7v1.7h-1.7zM403.5 324.0h1.7v1.7h-1.7zM408.0 316.7h1.7v1.7h-1.7zM405.9 320.7h1.7v1.7h-1.7zM409.7 310.1h1.7v1.7h-1.7zM388.9 314.8h1.7v1.7h-1.7zM383.2 328.4h1.7v1.7h-1.7zM407.9 316.9h1.7v1.7h-1.7zM391.0 321.5h1.7v1.7h-1.7zM397.9 323.8h1.7v1.7h-1.7zM394.5 325.2h1.7v1.7h-1.7zM391.9 327.2h1.7v1.7h-1.7zM389.7 325.6h1.7v1.7h-1.7zM390.2 323.5h1.7v1.7h-1.7zM395.9 331.3h1.7v1.7h-1.7zM405.5 324.8h1.7v1.7h-1.7zM410.0 323.5h1.7v1.7h-1.7zM386.7 319.1h1.7v1.7h-1.7zM402.0 316.0h1.7v1.7h-1.7zM399.8 332.6h1.7v1.7h-1.7zM403.8 314.1h1.7v1.7h-1.7zM401.5 315.7h1.7v1.7h-1.7zM406.7 320.2h1.7v1.7h-1.7zM385.8 320.4h1.7v1.7h-1.7zM389.5 318.4h1.7v1.7h-1.7zM401.5 313.8h1.7v1.7h-1.7zM400.3 321.4h1.7v1.7h-1.7zM409.6 320.2h1.7v1.7h-1.7zM404.2 311.4h1.7v1.7h-1.7zM409.3 325.9h1.7v1.7h-1.7zM409.4 320.4h1.7v1.7h-1.7zM403.9 318.2h1.7v1.7h-1.7zM396.0 326.1h1.7v1.7h-1.7zM396.8 312.2h1.7v1.7h-1.7zM406.5 327.8h1.7v1.7h-1.7zM399.0 318.5h1.7v1.7h-1.7zM403.6 318.7h1.7v1.7h-1.7zM403.2 328.5h1.7v1.7h-1.7zM385.7 321.9h1.7v1.7h-1.7zM410.5 323.2h1.7v1.7h-1.7zM408.9 324.2h1.7v1.7h-1.7zM395.1 326.1h1.7v1.7h-1.7zM397.6 314.7h1.7v1.7h-1.7zM405.5 330.2h1.7v1.7h-1.7zM400.4 319.8h1.7v1.7h-1.7zM407.7 314.0h1.7v1.7h-1.7zM394.7 313.9h1.7v1.7h-1.7zM396.5 317.1h1.7v1.7h-1.7zM410.4 329.1h1.7v1.7h-1.7zM409.2 315.4h1.7v1.7h-1.7zM398.8 318.8h1.7v1.7h-1.7zM399.7 310.3h1.7v1.7h-1.7zM398.2 311.7h1.7v1.7h-1.7zM397.2 325.2h1.7v1.7h-1.7zM405.8 321.9h1.7v1.7h-1.7zM407.1 326.5h1.7v1.7h-1.7zM402.6 332.1h1.7v1.7h-1.7zM393.0 309.3h1.7v1.7h-1.7zM402.1 329.4h1.7v1.7h-1.7zM402.8 324.6h1.7v1.7h-1.7zM387.2 320.2h1.7v1.7h-1.7zM398.6 313.9h1.7v1.7h-1.7zM387.8 319.5h1.7v1.7h-1.7zM396.1 315.5h1.7v1.7h-1.7zM399.0 313.2h1.7v1.7h-1.7zM398.7 322.6h1.7v1.7h-1.7zM396.5 331.0h1.7v1.7h-1.7zM391.8 319.3h1.7v1.7h-1.7zM396.3 314.7h1.7v1.7h-1.7zM395.1 313.7h1.7v1.7h-1.7zM383.8 315.0h1.7v1.7h-1.7zM412.3 323.5h1.7v1.7h-1.7zM402.5 313.9h1.7v1.7h-1.7zM405.1 331.8h1.7v1.7h-1.7zM399.4 322.6h1.7v1.7h-1.7zM393.0 320.7h1.7v1.7h-1.7zM409.6 324.6h1.7v1.7h-1.7zM407.4 319.3h1.7v1.7h-1.7zM396.0 312.4h1.7v1.7h-1.7zM394.9 316.2h1.7v1.7h-1.7zM399.3 314.3h1.7v1.7h-1.7zM393.3 315.2h1.7v1.7h-1.7zM411.6 319.8h1.7v1.7h-1.7zM392.7 319.9h1.7v1.7h-1.7zM406.0 318.6h1.7v1.7h-1.7zM391.5 330.5h1.7v1.7h-1.7zM407.6 333.3h1.7v1.7h-1.7zM408.1 370.6h1.7v1.7h-1.7zM408.4 356.9h1.7v1.7h-1.7zM414.2 343.9h1.7v1.7h-1.7zM410.5 366.6h1.7v1.7h-1.7zM412.0 347.9h1.7v1.7h-1.7zM403.4 350.4h1.7v1.7h-1.7zM412.8 347.5h1.7v1.7h-1.7zM404.5 341.7h1.7v1.7h-1.7zM403.4 355.2h1.7v1.7h-1.7zM399.3 354.5h1.7v1.7h-1.7zM408.3 350.1h1.7v1.7h-1.7zM399.1 366.3h1.7v1.7h-1.7zM404.2 352.3h1.7v1.7h-1.7zM414.4 344.5h1.7v1.7h-1.7zM410.4 356.7h1.7v1.7h-1.7zM413.9 352.8h1.7v1.7h-1.7zM414.1 344.5h1.7v1.7h-1.7zM402.3 357.1h1.7v1.7h-1.7zM396.8 362.9h1.7v1.7h-1.7zM409.9 337.8h1.7v1.7h-1.7zM416.4 346.0h1.7v1.7h-1.7zM399.5 361.7h1.7v1.7h-1.7zM415.0 356.0h1.7v1.7h-1.7zM414.4 370.2h1.7v1.7h-1.7zM412.7 345.2h1.7v1.7h-1.7zM399.8 360.4h1.7v1.7h-1.7zM411.0 360.1h1.7v1.7h-1.7zM403.2 356.9h1.7v1.7h-1.7zM409.7 349.9h1.7v1.7h-1.7zM396.1 369.2h1.7v1.7h-1.7zM409.8 365.1h1.7v1.7h-1.7zM416.4 348.0h1.7v1.7h-1.7zM398.7 356.0h1.7v1.7h-1.7zM416.4 351.5h1.7v1.7h-1.7zM401.3 345.8h1.7v1.7h-1.7zM405.3 350.6h1.7v1.7h-1.7zM397.5 343.2h1.7v1.7h-1.7zM407.2 343.1h1.7v1.7h-1.7zM404.7 359.8h1.7v1.7h-1.7zM410.7 371.6h1.7v1.7h-1.7zM406.7 335.9h1.7v1.7h-1.7zM420.2 337.3h1.7v1.7h-1.7zM406.7 338.9h1.7v1.7h-1.7zM401.1 346.4h1.7v1.7h-1.7zM409.3 351.6h1.7v1.7h-1.7zM413.0 350.1h1.7v1.7h-1.7zM404.6 344.2h1.7v1.7h-1.7zM405.6 346.1h1.7v1.7h-1.7zM417.5 345.8h1.7v1.7h-1.7zM408.3 335.6h1.7v1.7h-1.7zM391.6 352.8h1.7v1.7h-1.7zM401.9 339.3h1.7v1.7h-1.7zM409.7 340.2h1.7v1.7h-1.7zM412.9 364.5h1.7v1.7h-1.7zM404.5 364.4h1.7v1.7h-1.7zM403.6 338.8h1.7v1.7h-1.7zM408.8 347.6h1.7v1.7h-1.7zM411.6 349.1h1.7v1.7h-1.7zM420.6 343.1h1.7v1.7h-1.7zM411.6 341.1h1.7v1.7h-1.7zM419.0 350.0h1.7v1.7h-1.7zM401.7 334.2h1.7v1.7h-1.7zM406.3 373.9h1.7v1.7h-1.7zM401.7 357.5h1.7v1.7h-1.7zM406.7 347.8h1.7v1.7h-1.7zM409.4 337.9h1.7v1.7h-1.7zM394.6 356.5h1.7v1.7h-1.7zM418.4 361.6h1.7v1.7h-1.7zM411.0 354.9h1.7v1.7h-1.7zM397.4 340.7h1.7v1.7h-1.7zM392.2 349.5h1.7v1.7h-1.7zM418.0 341.7h1.7v1.7h-1.7zM415.7 339.5h1.7v1.7h-1.7zM407.0 371.3h1.7v1.7h-1.7zM407.1 358.9h1.7v1.7h-1.7zM409.5 348.0h1.7v1.7h-1.7zM416.9 364.5h1.7v1.7h-1.7zM415.5 359.8h1.7v1.7h-1.7zM410.6 366.8h1.7v1.7h-1.7zM399.9 346.7h1.7v1.7h-1.7zM407.6 371.0h1.7v1.7h-1.7zM422.1 362.6h1.7v1.7h-1.7zM408.2 373.3h1.7v1.7h-1.7zM415.5 345.3h1.7v1.7h-1.7zM416.3 344.7h1.7v1.7h-1.7zM405.3 341.6h1.7v1.7h-1.7zM410.2 348.6h1.7v1.7h-1.7zM420.9 368.1h1.7v1.7h-1.7zM407.7 351.2h1.7v1.7h-1.7zM413.7 368.4h1.7v1.7h-1.7zM397.5 332.6h1.7v1.7h-1.7zM399.2 346.8h1.7v1.7h-1.7zM406.8 354.7h1.7v1.7h-1.7zM420.1 348.9h1.7v1.7h-1.7zM420.1 348.2h1.7v1.7h-1.7zM408.6 358.6h1.7v1.7h-1.7zM408.6 369.2h1.7v1.7h-1.7zM410.7 344.3h1.7v1.7h-1.7zM394.6 342.0h1.7v1.7h-1.7zM403.3 370.6h1.7v1.7h-1.7zM399.8 352.6h1.7v1.7h-1.7zM414.9 350.4h1.7v1.7h-1.7zM409.7 343.4h1.7v1.7h-1.7zM411.8 357.4h1.7v1.7h-1.7zM406.7 366.4h1.7v1.7h-1.7zM417.9 366.5h1.7v1.7h-1.7zM411.0 340.8h1.7v1.7h-1.7zM397.5 347.5h1.7v1.7h-1.7zM416.2 355.2h1.7v1.7h-1.7zM414.3 363.1h1.7v1.7h-1.7zM409.6 368.3h1.7v1.7h-1.7zM408.1 372.1h1.7v1.7h-1.7zM403.4 363.2h1.7v1.7h-1.7zM399.3 346.6h1.7v1.7h-1.7zM411.8 369.3h1.7v1.7h-1.7zM406.2 360.3h1.7v1.7h-1.7zM411.9 347.2h1.7v1.7h-1.7zM415.3 362.2h1.7v1.7h-1.7zM405.6 345.4h1.7v1.7h-1.7zM400.0 351.8h1.7v1.7h-1.7zM397.5 340.3h1.7v1.7h-1.7zM414.9 355.3h1.7v1.7h-1.7zM411.0 337.2h1.7v1.7h-1.7zM405.2 355.3h1.7v1.7h-1.7zM402.6 358.1h1.7v1.7h-1.7zM412.8 349.1h1.7v1.7h-1.7zM406.0 337.7h1.7v1.7h-1.7zM403.7 357.3h1.7v1.7h-1.7zM412.4 360.9h1.7v1.7h-1.7zM400.5 348.5h1.7v1.7h-1.7zM416.5 349.1h1.7v1.7h-1.7zM416.0 360.4h1.7v1.7h-1.7zM409.5 367.2h1.7v1.7h-1.7zM420.2 353.5h1.7v1.7h-1.7zM406.4 352.5h1.7v1.7h-1.7zM422.5 350.8h1.7v1.7h-1.7zM402.1 345.4h1.7v1.7h-1.7zM404.9 353.4h1.7v1.7h-1.7zM420.1 344.8h1.7v1.7h-1.7zM410.8 352.0h1.7v1.7h-1.7zM403.9 335.2h1.7v1.7h-1.7zM397.8 354.4h1.7v1.7h-1.7zM411.5 372.9h1.7v1.7h-1.7zM392.6 338.7h1.7v1.7h-1.7zM417.2 349.5h1.7v1.7h-1.7zM404.4 340.5h1.7v1.7h-1.7zM395.8 350.9h1.7v1.7h-1.7zM404.9 359.4h1.7v1.7h-1.7zM410.3 368.8h1.7v1.7h-1.7zM400.8 338.4h1.7v1.7h-1.7zM412.2 366.5h1.7v1.7h-1.7zM420.5 366.5h1.7v1.7h-1.7zM402.9 353.5h1.7v1.7h-1.7zM408.9 366.8h1.7v1.7h-1.7zM413.8 358.0h1.7v1.7h-1.7zM420.3 368.4h1.7v1.7h-1.7zM404.8 355.8h1.7v1.7h-1.7zM407.3 362.2h1.7v1.7h-1.7zM406.9 355.1h1.7v1.7h-1.7zM417.6 336.6h1.7v1.7h-1.7zM417.5 354.7h1.7v1.7h-1.7zM408.7 364.6h1.7v1.7h-1.7zM408.3 359.9h1.7v1.7h-1.7zM415.0 344.2h1.7v1.7h-1.7zM414.8 369.9h1.7v1.7h-1.7zM398.1 345.3h1.7v1.7h-1.7zM403.0 331.6h1.7v1.7h-1.7zM411.5 370.0h1.7v1.7h-1.7zM417.0 356.2h1.7v1.7h-1.7zM405.1 341.8h1.7v1.7h-1.7zM409.4 347.9h1.7v1.7h-1.7zM411.4 374.4h1.7v1.7h-1.7zM405.1 341.3h1.7v1.7h-1.7zM416.7 359.6h1.7v1.7h-1.7zM413.5 341.0h1.7v1.7h-1.7zM416.4 354.6h1.7v1.7h-1.7zM407.8 358.0h1.7v1.7h-1.7zM406.1 334.0h1.7v1.7h-1.7zM417.9 359.5h1.7v1.7h-1.7zM408.7 335.2h1.7v1.7h-1.7zM403.8 343.3h1.7v1.7h-1.7zM421.2 360.5h1.7v1.7h-1.7zM406.4 349.2h1.7v1.7h-1.7zM403.5 369.8h1.7v1.7h-1.7zM404.6 363.6h1.7v1.7h-1.7zM419.1 362.3h1.7v1.7h-1.7zM403.5 346.9h1.7v1.7h-1.7zM405.6 357.6h1.7v1.7h-1.7zM396.9 350.2h1.7v1.7h-1.7zM423.4 377.8h1.7v1.7h-1.7zM419.4 376.4h1.7v1.7h-1.7zM428.9 378.1h1.7v1.7h-1.7zM409.4 376.7h1.7v1.7h-1.7zM422.5 376.2h1.7v1.7h-1.7zM417.8 376.8h1.7v1.7h-1.7zM410.7 376.3h1.7v1.7h-1.7zM416.8 376.8h1.7v1.7h-1.7zM424.4 376.2h1.7v1.7h-1.7zM408.4 375.4h1.7v1.7h-1.7zM420.2 375.4h1.7v1.7h-1.7zM415.0 377.3h1.7v1.7h-1.7zM413.7 374.9h1.7v1.7h-1.7zM411.8 378.1h1.7v1.7h-1.7zM419.1 376.0h1.7v1.7h-1.7zM427.8 375.2h1.7v1.7h-1.7zM413.9 376.1h1.7v1.7h-1.7zM423.4 377.1h1.7v1.7h-1.7zM416.8 375.1h1.7v1.7h-1.7zM430.5 377.7h1.7v1.7h-1.7zM426.4 377.4h1.7v1.7h-1.7zM409.6 377.5h1.7v1.7h-1.7zM414.6 374.7h1.7v1.7h-1.7zM419.7 377.6h1.7v1.7h-1.7zM411.8 375.1h1.7v1.7h-1.7zM407.0 377.0h1.7v1.7h-1.7zM428.4 378.1h1.7v1.7h-1.7zM416.6 377.8h1.7v1.7h-1.7zM411.7 374.0h1.7v1.7h-1.7zM426.0 375.7h1.7v1.7h-1.7zM411.9 377.6h1.7v1.7h-1.7zM425.1 375.5h1.7v1.7h-1.7zM407.3 376.1h1.7v1.7h-1.7zM409.3 375.4h1.7v1.7h-1.7zM422.5 377.5h1.7v1.7h-1.7zM417.3 378.3h1.7v1.7h-1.7zM409.8 375.3h1.7v1.7h-1.7zM418.2 376.7h1.7v1.7h-1.7zM417.1 374.3h1.7v1.7h-1.7zM412.1 377.9h1.7v1.7h-1.7zM405.1 376.3h1.7v1.7h-1.7zM414.2 377.5h1.7v1.7h-1.7zM400.8 376.5h1.7v1.7h-1.7zM404.6 376.8h1.7v1.7h-1.7zM402.6 377.1h1.7v1.7h-1.7zM421.1 375.7h1.7v1.7h-1.7zM402.5 377.6h1.7v1.7h-1.7zM422.4 374.3h1.7v1.7h-1.7zM410.9 375.3h1.7v1.7h-1.7zM418.2 375.6h1.7v1.7h-1.7zM415.6 378.3h1.7v1.7h-1.7zM403.1 375.2h1.7v1.7h-1.7zM411.3 376.4h1.7v1.7h-1.7zM412.4 377.7h1.7v1.7h-1.7zM421.2 376.6h1.7v1.7h-1.7zM417.1 373.1h1.7v1.7h-1.7zM407.5 375.1h1.7v1.7h-1.7zM407.7 374.9h1.7v1.7h-1.7zM427.3 376.5h1.7v1.7h-1.7zM413.5 376.6h1.7v1.7h-1.7zM413.1 374.6h1.7v1.7h-1.7zM421.9 374.9h1.7v1.7h-1.7zM415.9 376.6h1.7v1.7h-1.7zM421.1 376.1h1.7v1.7h-1.7zM408.8 375.2h1.7v1.7h-1.7zM405.9 375.6h1.7v1.7h-1.7zM411.4 374.8h1.7v1.7h-1.7z" fill="#000"/>
<path d="M410.5 339.1h1.55v1.55h-1.55zM407.5 331.8h1.55v1.55h-1.55zM413.8 332.2h1.55v1.55h-1.55zM416.2 334.7h1.55v1.55h-1.55zM423.8 328.8h1.55v1.55h-1.55zM417.8 324.5h1.55v1.55h-1.55zM416.8 315.9h1.55v1.55h-1.55zM427.6 338.4h1.55v1.55h-1.55zM416.6 341.0h1.55v1.55h-1.55zM411.5 322.6h1.55v1.55h-1.55zM415.6 321.2h1.55v1.55h-1.55zM420.9 341.6h1.55v1.55h-1.55zM414.4 315.2h1.55v1.55h-1.55zM419.1 332.4h1.55v1.55h-1.55zM426.1 318.9h1.55v1.55h-1.55zM413.9 337.1h1.55v1.55h-1.55zM405.7 334.5h1.55v1.55h-1.55zM411.4 339.3h1.55v1.55h-1.55zM422.2 334.6h1.55v1.55h-1.55zM419.5 331.5h1.55v1.55h-1.55zM423.1 334.6h1.55v1.55h-1.55zM409.1 340.9h1.55v1.55h-1.55zM426.0 331.6h1.55v1.55h-1.55zM422.0 341.4h1.55v1.55h-1.55zM415.2 322.6h1.55v1.55h-1.55zM420.6 331.0h1.55v1.55h-1.55zM419.4 340.3h1.55v1.55h-1.55zM412.0 334.1h1.55v1.55h-1.55zM410.1 321.6h1.55v1.55h-1.55zM419.6 337.5h1.55v1.55h-1.55zM416.4 326.2h1.55v1.55h-1.55zM422.9 331.1h1.55v1.55h-1.55zM415.5 335.0h1.55v1.55h-1.55zM423.4 319.3h1.55v1.55h-1.55zM417.6 341.4h1.55v1.55h-1.55zM408.6 334.9h1.55v1.55h-1.55zM405.4 337.0h1.55v1.55h-1.55zM419.3 325.0h1.55v1.55h-1.55zM421.5 332.7h1.55v1.55h-1.55zM409.5 336.0h1.55v1.55h-1.55zM421.7 324.7h1.55v1.55h-1.55zM421.5 333.3h1.55v1.55h-1.55zM423.2 342.0h1.55v1.55h-1.55zM418.1 326.3h1.55v1.55h-1.55zM424.1 327.5h1.55v1.55h-1.55zM416.5 316.4h1.55v1.55h-1.55zM411.6 321.4h1.55v1.55h-1.55zM419.6 334.2h1.55v1.55h-1.55zM410.3 326.6h1.55v1.55h-1.55zM416.8 316.4h1.55v1.55h-1.55zM416.4 322.2h1.55v1.55h-1.55zM421.0 335.2h1.55v1.55h-1.55zM411.3 325.0h1.55v1.55h-1.55zM420.4 337.0h1.55v1.55h-1.55zM414.3 323.0h1.55v1.55h-1.55zM430.2 336.1h1.55v1.55h-1.55zM416.9 315.0h1.55v1.55h-1.55zM421.9 322.0h1.55v1.55h-1.55zM416.6 316.0h1.55v1.55h-1.55zM414.3 319.9h1.55v1.55h-1.55zM413.1 338.1h1.55v1.55h-1.55zM422.6 333.8h1.55v1.55h-1.55zM419.0 318.5h1.55v1.55h-1.55zM417.1 340.3h1.55v1.55h-1.55zM411.8 333.1h1.55v1.55h-1.55zM413.7 339.9h1.55v1.55h-1.55zM413.8 331.4h1.55v1.55h-1.55zM421.7 324.5h1.55v1.55h-1.55zM418.9 330.7h1.55v1.55h-1.55zM423.0 335.1h1.55v1.55h-1.55zM415.0 322.9h1.55v1.55h-1.55zM418.1 335.4h1.55v1.55h-1.55zM416.7 332.5h1.55v1.55h-1.55zM416.9 319.6h1.55v1.55h-1.55zM414.0 340.5h1.55v1.55h-1.55zM423.6 331.1h1.55v1.55h-1.55zM427.1 326.0h1.55v1.55h-1.55zM410.2 333.0h1.55v1.55h-1.55zM418.7 331.0h1.55v1.55h-1.55zM414.2 330.8h1.55v1.55h-1.55z" fill="#1a1a1a"/>
<path d="M383.8 311.7h1.45v1.45h-1.45zM425.8 350.9h1.45v1.45h-1.45zM417.4 321.0h1.45v1.45h-1.45zM395.9 309.6h1.45v1.45h-1.45zM411.7 361.6h1.45v1.45h-1.45zM389.4 323.5h1.45v1.45h-1.45zM398.5 341.0h1.45v1.45h-1.45zM413.3 342.7h1.45v1.45h-1.45zM423.5 325.8h1.45v1.45h-1.45zM401.2 361.7h1.45v1.45h-1.45zM399.9 338.4h1.45v1.45h-1.45zM379.0 329.0h1.45v1.45h-1.45zM416.8 320.6h1.45v1.45h-1.45zM407.8 300.3h1.45v1.45h-1.45zM408.5 347.0h1.45v1.45h-1.45zM396.4 348.2h1.45v1.45h-1.45zM434.6 311.1h1.45v1.45h-1.45zM422.9 328.9h1.45v1.45h-1.45zM392.7 337.4h1.45v1.45h-1.45zM405.4 350.3h1.45v1.45h-1.45zM380.1 342.0h1.45v1.45h-1.45zM401.4 312.9h1.45v1.45h-1.45zM392.7 335.0h1.45v1.45h-1.45zM430.0 336.9h1.45v1.45h-1.45zM415.4 355.3h1.45v1.45h-1.45zM408.1 315.5h1.45v1.45h-1.45zM401.8 345.5h1.45v1.45h-1.45zM413.1 338.4h1.45v1.45h-1.45zM393.0 359.7h1.45v1.45h-1.45zM410.7 371.5h1.45v1.45h-1.45zM419.9 317.5h1.45v1.45h-1.45zM399.0 345.8h1.45v1.45h-1.45zM414.3 308.9h1.45v1.45h-1.45zM396.1 329.3h1.45v1.45h-1.45zM370.0 317.5h1.45v1.45h-1.45zM417.8 320.4h1.45v1.45h-1.45zM376.6 299.7h1.45v1.45h-1.45zM412.5 334.9h1.45v1.45h-1.45zM415.7 314.7h1.45v1.45h-1.45zM416.5 355.9h1.45v1.45h-1.45zM326.3 370.2h1.45v1.45h-1.45zM370.1 377.3h1.45v1.45h-1.45zM340.0 376.9h1.45v1.45h-1.45zM334.1 364.9h1.45v1.45h-1.45zM315.9 369.2h1.45v1.45h-1.45zM333.0 338.8h1.45v1.45h-1.45zM364.2 357.9h1.45v1.45h-1.45zM314.5 373.4h1.45v1.45h-1.45zM369.6 349.6h1.45v1.45h-1.45zM327.6 365.4h1.45v1.45h-1.45zM365.1 350.6h1.45v1.45h-1.45zM347.1 348.1h1.45v1.45h-1.45zM372.2 340.8h1.45v1.45h-1.45zM317.3 364.6h1.45v1.45h-1.45zM339.0 339.1h1.45v1.45h-1.45zM335.3 365.0h1.45v1.45h-1.45zM360.2 342.4h1.45v1.45h-1.45zM335.2 359.2h1.45v1.45h-1.45zM345.8 378.5h1.45v1.45h-1.45zM371.2 354.4h1.45v1.45h-1.45zM357.2 359.8h1.45v1.45h-1.45zM353.5 356.6h1.45v1.45h-1.45zM346.6 355.1h1.45v1.45h-1.45zM324.1 347.0h1.45v1.45h-1.45zM370.3 370.6h1.45v1.45h-1.45zM353.8 351.3h1.45v1.45h-1.45zM343.7 340.1h1.45v1.45h-1.45zM313.0 351.7h1.45v1.45h-1.45zM351.6 361.2h1.45v1.45h-1.45zM353.5 369.5h1.45v1.45h-1.45zM349.6 352.7h1.45v1.45h-1.45zM322.6 352.2h1.45v1.45h-1.45zM344.5 369.2h1.45v1.45h-1.45zM321.1 336.7h1.45v1.45h-1.45zM342.1 346.2h1.45v1.45h-1.45zM364.4 346.4h1.45v1.45h-1.45zM363.1 367.8h1.45v1.45h-1.45z" fill="#2a2a2a"/>
<rect x="311.6" y="251.5" width="165.10" height="129.10" fill="none" stroke="#000" stroke-width="1.5"/>
<text x="312.06" y="395.00" font-family="Liberation Sans" font-size="11" fill="#111">10</text>
<text x="324.00" y="391.60" font-family="Liberation Sans" font-size="8" fill="#111">0</text>
<g transform="translate(304.20,378.04) rotate(-90)"><text x="0" y="0" font-family="Liberation Sans" font-size="11" fill="#111">10</text><text x="11.94" y="-3.4" font-family="Liberation Sans" font-size="8" fill="#111">0</text></g>
<text x="353.34" y="395.00" font-family="Liberation Sans" font-size="11" fill="#111">10</text>
<text x="365.27" y="391.60" font-family="Liberation Sans" font-size="8" fill="#111">1</text>
<g transform="translate(304.20,345.76) rotate(-90)"><text x="0" y="0" font-family="Liberation Sans" font-size="11" fill="#111">10</text><text x="11.94" y="-3.4" font-family="Liberation Sans" font-size="8" fill="#111">1</text></g>
<text x="394.61" y="395.00" font-family="Liberation Sans" font-size="11" fill="#111">10</text>
<text x="406.55" y="391.60" font-family="Liberation Sans" font-size="8" fill="#111">2</text>
<g transform="translate(304.20,313.49) rotate(-90)"><text x="0" y="0" font-family="Liberation Sans" font-size="11" fill="#111">10</text><text x="11.94" y="-3.4" font-family="Liberation Sans" font-size="8" fill="#111">2</text></g>
<text x="435.89" y="395.00" font-family="Liberation Sans" font-size="11" fill="#111">10</text>
<text x="447.82" y="391.60" font-family="Liberation Sans" font-size="8" fill="#111">3</text>
<g transform="translate(304.20,281.21) rotate(-90)"><text x="0" y="0" font-family="Liberation Sans" font-size="11" fill="#111">10</text><text x="11.94" y="-3.4" font-family="Liberation Sans" font-size="8" fill="#111">3</text></g>
<text x="477.16" y="395.00" font-family="Liberation Sans" font-size="11" fill="#111">10</text>
<text x="489.10" y="391.60" font-family="Liberation Sans" font-size="8" fill="#111">4</text>
<g transform="translate(304.20,248.94) rotate(-90)"><text x="0" y="0" font-family="Liberation Sans" font-size="11" fill="#111">10</text><text x="11.94" y="-3.4" font-family="Liberation Sans" font-size="8" fill="#111">4</text></g>
<text transform="translate(340.03,224.60) scale(1.075,1)" font-family="Liberation Serif" font-size="17" fill="#111">Spleen -/-</text>
<text x="281.09" y="224.50" font-family="Liberation Sans" font-size="12" fill="#111" >1.8%</text>
<text x="479.59" y="225.50" font-family="Liberation Sans" font-size="12" fill="#111" >18.3%</text>
<text x="276.59" y="415.50" font-family="Liberation Sans" font-size="12" fill="#111" >12.0%</text>
<text x="479.39" y="416.25" font-family="Liberation Sans" font-size="12" fill="#111" >67.9%</text>
<text x="377.39" y="411.70" font-family="Liberation Sans" font-size="12" fill="#111" >eGFP</text>
<text transform="translate(289.00,337.61) rotate(-90)" font-family="Liberation Sans" font-size="12" fill="#111">CD8-PE</text>
<path d="M44.30 584.20v2M44.30 584.20h-1.8M55.87 584.20v2M44.30 574.49h-1.8M62.63 584.20v2M44.30 568.81h-1.8M67.43 584.20v2M44.30 564.78h-1.8M71.16 584.20v2M44.30 561.66h-1.8M74.20 584.20v2M44.30 559.10h-1.8M76.77 584.20v2M44.30 556.95h-1.8M79.00 584.20v2M44.30 555.08h-1.8M80.97 584.20v2M44.30 553.43h-1.8M82.72 584.20v2M44.30 551.95h-1.8M94.29 584.20v2M44.30 542.24h-1.8M101.06 584.20v2M44.30 536.56h-1.8M105.86 584.20v2M44.30 532.53h-1.8M109.58 584.20v2M44.30 529.41h-1.8M112.63 584.20v2M44.30 526.85h-1.8M115.20 584.20v2M44.30 524.70h-1.8M117.43 584.20v2M44.30 522.83h-1.8M119.39 584.20v2M44.30 521.18h-1.8M121.15 584.20v2M44.30 519.70h-1.8M132.72 584.20v2M44.30 509.99h-1.8M139.48 584.20v2M44.30 504.31h-1.8M144.28 584.20v2M44.30 500.28h-1.8M148.01 584.20v2M44.30 497.16h-1.8M151.05 584.20v2M44.30 494.60h-1.8M153.62 584.20v2M44.30 492.45h-1.8M155.85 584.20v2M44.30 490.58h-1.8M157.82 584.20v2M44.30 488.93h-1.8M159.57 584.20v2M44.30 487.45h-1.8M171.14 584.20v2M44.30 477.74h-1.8M177.91 584.20v2M44.30 472.06h-1.8M182.71 584.20v2M44.30 468.03h-1.8M186.43 584.20v2M44.30 464.91h-1.8M189.48 584.20v2M44.30 462.35h-1.8M192.05 584.20v2M44.30 460.20h-1.8M194.28 584.20v2M44.30 458.33h-1.8M196.24 584.20v2M44.30 456.68h-1.8M198.00 584.20v2M44.30 455.20h-1.8" stroke="#000" stroke-width="1.2" fill="none"/>
<line x1="44.3" y1="551.4" x2="198.0" y2="551.4" stroke="#999" stroke-width="1.3"/>
<path d="M122.4 533.1h1.7v1.7h-1.7zM130.6 517.2h1.7v1.7h-1.7zM116.9 525.9h1.7v1.7h-1.7zM136.5 535.4h1.7v1.7h-1.7zM136.9 520.8h1.7v1.7h-1.7zM139.0 525.0h1.7v1.7h-1.7zM134.9 523.0h1.7v1.7h-1.7zM128.4 536.7h1.7v1.7h-1.7zM129.5 532.8h1.7v1.7h-1.7zM127.9 524.3h1.7v1.7h-1.7zM128.0 527.1h1.7v1.7h-1.7zM125.4 522.2h1.7v1.7h-1.7zM128.9 534.9h1.7v1.7h-1.7zM128.3 535.6h1.7v1.7h-1.7zM115.0 524.5h1.7v1.7h-1.7zM119.2 520.7h1.7v1.7h-1.7zM137.8 533.1h1.7v1.7h-1.7zM138.9 532.8h1.7v1.7h-1.7zM133.7 531.4h1.7v1.7h-1.7zM115.9 527.1h1.7v1.7h-1.7zM135.7 518.9h1.7v1.7h-1.7zM126.3 528.3h1.7v1.7h-1.7zM119.4 532.4h1.7v1.7h-1.7zM129.0 530.2h1.7v1.7h-1.7zM119.1 523.1h1.7v1.7h-1.7zM125.0 532.6h1.7v1.7h-1.7zM133.9 534.1h1.7v1.7h-1.7zM124.1 531.1h1.7v1.7h-1.7zM128.7 525.1h1.7v1.7h-1.7zM117.2 521.6h1.7v1.7h-1.7zM119.7 523.7h1.7v1.7h-1.7zM144.0 527.1h1.7v1.7h-1.7zM132.1 518.8h1.7v1.7h-1.7zM125.6 528.6h1.7v1.7h-1.7zM125.9 522.2h1.7v1.7h-1.7zM115.4 524.3h1.7v1.7h-1.7zM131.1 525.6h1.7v1.7h-1.7zM130.5 533.6h1.7v1.7h-1.7zM120.6 530.9h1.7v1.7h-1.7zM134.3 531.2h1.7v1.7h-1.7zM136.3 534.3h1.7v1.7h-1.7zM131.8 526.1h1.7v1.7h-1.7zM123.2 525.9h1.7v1.7h-1.7zM111.8 522.7h1.7v1.7h-1.7zM127.8 529.6h1.7v1.7h-1.7zM126.7 526.9h1.7v1.7h-1.7zM126.3 533.0h1.7v1.7h-1.7zM127.1 524.9h1.7v1.7h-1.7zM117.7 523.6h1.7v1.7h-1.7zM127.6 527.0h1.7v1.7h-1.7zM131.4 518.7h1.7v1.7h-1.7zM123.6 530.9h1.7v1.7h-1.7zM132.6 514.6h1.7v1.7h-1.7zM123.7 517.4h1.7v1.7h-1.7zM128.5 526.0h1.7v1.7h-1.7zM130.2 523.5h1.7v1.7h-1.7zM127.1 519.3h1.7v1.7h-1.7zM117.4 529.6h1.7v1.7h-1.7zM117.2 522.7h1.7v1.7h-1.7zM141.8 521.9h1.7v1.7h-1.7zM131.6 523.1h1.7v1.7h-1.7zM118.2 523.6h1.7v1.7h-1.7zM119.9 524.7h1.7v1.7h-1.7zM131.0 523.6h1.7v1.7h-1.7zM134.5 531.4h1.7v1.7h-1.7zM142.3 523.7h1.7v1.7h-1.7zM136.2 528.8h1.7v1.7h-1.7zM129.7 529.9h1.7v1.7h-1.7zM125.7 531.0h1.7v1.7h-1.7zM120.8 526.9h1.7v1.7h-1.7zM130.6 518.9h1.7v1.7h-1.7zM132.5 517.4h1.7v1.7h-1.7zM112.8 532.0h1.7v1.7h-1.7zM131.4 528.2h1.7v1.7h-1.7zM121.2 535.0h1.7v1.7h-1.7zM128.6 522.6h1.7v1.7h-1.7zM137.3 525.7h1.7v1.7h-1.7zM125.6 518.6h1.7v1.7h-1.7zM126.4 521.3h1.7v1.7h-1.7zM133.1 521.8h1.7v1.7h-1.7zM120.9 537.8h1.7v1.7h-1.7zM122.9 519.3h1.7v1.7h-1.7zM126.8 538.4h1.7v1.7h-1.7zM124.0 529.5h1.7v1.7h-1.7zM135.6 525.6h1.7v1.7h-1.7zM133.3 525.8h1.7v1.7h-1.7zM131.9 533.7h1.7v1.7h-1.7zM119.1 526.9h1.7v1.7h-1.7zM137.1 530.7h1.7v1.7h-1.7zM140.7 533.1h1.7v1.7h-1.7zM139.7 520.0h1.7v1.7h-1.7zM129.3 522.2h1.7v1.7h-1.7zM134.2 519.2h1.7v1.7h-1.7zM113.8 525.9h1.7v1.7h-1.7zM126.6 529.4h1.7v1.7h-1.7zM120.5 527.1h1.7v1.7h-1.7zM134.6 521.3h1.7v1.7h-1.7zM124.3 536.1h1.7v1.7h-1.7zM125.5 516.3h1.7v1.7h-1.7zM126.0 519.6h1.7v1.7h-1.7zM129.0 527.5h1.7v1.7h-1.7zM143.2 525.8h1.7v1.7h-1.7zM122.3 530.0h1.7v1.7h-1.7zM129.3 516.5h1.7v1.7h-1.7zM144.1 526.1h1.7v1.7h-1.7zM119.4 533.3h1.7v1.7h-1.7zM124.1 527.2h1.7v1.7h-1.7zM133.2 529.3h1.7v1.7h-1.7zM124.2 516.8h1.7v1.7h-1.7zM124.4 536.6h1.7v1.7h-1.7zM142.7 524.4h1.7v1.7h-1.7zM123.4 519.7h1.7v1.7h-1.7zM124.0 534.6h1.7v1.7h-1.7zM123.6 525.6h1.7v1.7h-1.7zM121.0 529.9h1.7v1.7h-1.7zM141.1 529.8h1.7v1.7h-1.7zM132.4 533.5h1.7v1.7h-1.7zM117.6 520.2h1.7v1.7h-1.7zM140.5 526.5h1.7v1.7h-1.7zM134.3 531.5h1.7v1.7h-1.7zM124.2 528.2h1.7v1.7h-1.7zM136.0 527.1h1.7v1.7h-1.7zM140.6 529.6h1.7v1.7h-1.7zM125.9 522.0h1.7v1.7h-1.7zM134.4 520.6h1.7v1.7h-1.7zM124.4 519.4h1.7v1.7h-1.7zM136.0 520.4h1.7v1.7h-1.7zM138.0 522.2h1.7v1.7h-1.7zM116.9 526.8h1.7v1.7h-1.7zM130.5 536.1h1.7v1.7h-1.7zM146.7 528.6h1.7v1.7h-1.7zM129.6 524.7h1.7v1.7h-1.7zM126.8 534.3h1.7v1.7h-1.7zM122.5 532.5h1.7v1.7h-1.7zM119.4 533.8h1.7v1.7h-1.7zM122.2 522.3h1.7v1.7h-1.7zM139.9 533.6h1.7v1.7h-1.7zM133.2 529.3h1.7v1.7h-1.7zM113.1 528.8h1.7v1.7h-1.7zM141.5 521.8h1.7v1.7h-1.7zM131.4 521.5h1.7v1.7h-1.7zM124.8 530.2h1.7v1.7h-1.7zM124.7 532.0h1.7v1.7h-1.7zM119.2 525.0h1.7v1.7h-1.7zM122.1 536.6h1.7v1.7h-1.7zM119.5 523.0h1.7v1.7h-1.7zM119.7 531.9h1.7v1.7h-1.7zM112.4 529.3h1.7v1.7h-1.7zM142.4 527.9h1.7v1.7h-1.7zM119.1 519.2h1.7v1.7h-1.7zM130.9 535.9h1.7v1.7h-1.7zM124.6 532.3h1.7v1.7h-1.7zM131.4 525.2h1.7v1.7h-1.7zM144.9 527.5h1.7v1.7h-1.7zM143.2 528.7h1.7v1.7h-1.7zM115.6 526.5h1.7v1.7h-1.7zM118.8 533.8h1.7v1.7h-1.7zM133.2 527.8h1.7v1.7h-1.7zM125.9 517.8h1.7v1.7h-1.7zM124.6 528.9h1.7v1.7h-1.7zM124.5 530.0h1.7v1.7h-1.7zM118.7 533.4h1.7v1.7h-1.7zM145.3 526.4h1.7v1.7h-1.7zM126.3 522.6h1.7v1.7h-1.7zM124.0 525.8h1.7v1.7h-1.7zM136.1 536.8h1.7v1.7h-1.7zM136.8 533.0h1.7v1.7h-1.7zM113.7 535.9h1.7v1.7h-1.7zM133.2 521.0h1.7v1.7h-1.7zM124.5 524.2h1.7v1.7h-1.7zM122.8 518.4h1.7v1.7h-1.7zM125.6 527.0h1.7v1.7h-1.7zM131.3 530.6h1.7v1.7h-1.7zM114.1 524.3h1.7v1.7h-1.7zM136.0 531.8h1.7v1.7h-1.7zM128.1 532.4h1.7v1.7h-1.7zM135.0 526.6h1.7v1.7h-1.7zM125.3 521.7h1.7v1.7h-1.7zM111.8 526.9h1.7v1.7h-1.7zM118.2 524.9h1.7v1.7h-1.7zM127.5 526.2h1.7v1.7h-1.7zM113.2 528.9h1.7v1.7h-1.7zM127.3 535.4h1.7v1.7h-1.7zM134.9 528.3h1.7v1.7h-1.7zM132.5 525.9h1.7v1.7h-1.7zM124.0 533.8h1.7v1.7h-1.7zM124.6 536.6h1.7v1.7h-1.7zM119.5 526.0h1.7v1.7h-1.7zM136.0 524.5h1.7v1.7h-1.7zM133.2 533.2h1.7v1.7h-1.7zM113.3 532.0h1.7v1.7h-1.7zM120.5 527.3h1.7v1.7h-1.7zM117.6 532.3h1.7v1.7h-1.7zM115.5 523.5h1.7v1.7h-1.7zM129.3 526.2h1.7v1.7h-1.7zM115.7 532.0h1.7v1.7h-1.7zM129.5 528.6h1.7v1.7h-1.7zM138.9 530.1h1.7v1.7h-1.7zM119.8 527.6h1.7v1.7h-1.7zM116.9 532.3h1.7v1.7h-1.7zM138.9 525.4h1.7v1.7h-1.7zM128.4 535.1h1.7v1.7h-1.7zM119.6 515.9h1.7v1.7h-1.7zM111.2 523.9h1.7v1.7h-1.7zM131.5 531.1h1.7v1.7h-1.7zM133.7 519.1h1.7v1.7h-1.7zM135.8 533.2h1.7v1.7h-1.7zM139.8 526.1h1.7v1.7h-1.7zM143.2 530.8h1.7v1.7h-1.7zM122.6 527.9h1.7v1.7h-1.7zM133.2 543.8h1.7v1.7h-1.7zM123.0 544.0h1.7v1.7h-1.7zM121.8 533.9h1.7v1.7h-1.7zM119.5 541.9h1.7v1.7h-1.7zM134.1 544.5h1.7v1.7h-1.7zM123.8 535.3h1.7v1.7h-1.7zM138.1 546.4h1.7v1.7h-1.7zM115.8 538.6h1.7v1.7h-1.7zM128.6 534.9h1.7v1.7h-1.7zM119.4 545.9h1.7v1.7h-1.7zM137.2 550.2h1.7v1.7h-1.7zM126.6 547.5h1.7v1.7h-1.7zM120.4 546.2h1.7v1.7h-1.7zM130.8 547.6h1.7v1.7h-1.7zM124.7 543.7h1.7v1.7h-1.7zM131.4 547.0h1.7v1.7h-1.7zM128.5 547.8h1.7v1.7h-1.7zM125.9 548.0h1.7v1.7h-1.7zM123.4 551.4h1.7v1.7h-1.7zM117.5 543.3h1.7v1.7h-1.7zM137.4 540.5h1.7v1.7h-1.7zM129.0 539.2h1.7v1.7h-1.7zM137.6 536.7h1.7v1.7h-1.7zM117.7 540.2h1.7v1.7h-1.7zM129.0 531.7h1.7v1.7h-1.7zM138.4 537.3h1.7v1.7h-1.7zM132.1 533.4h1.7v1.7h-1.7zM129.7 538.7h1.7v1.7h-1.7zM132.4 543.5h1.7v1.7h-1.7zM122.8 547.3h1.7v1.7h-1.7zM123.8 536.9h1.7v1.7h-1.7zM128.6 537.1h1.7v1.7h-1.7zM132.9 545.9h1.7v1.7h-1.7zM127.3 544.0h1.7v1.7h-1.7zM132.0 546.7h1.7v1.7h-1.7zM136.5 546.3h1.7v1.7h-1.7zM134.0 542.2h1.7v1.7h-1.7zM122.7 539.7h1.7v1.7h-1.7zM122.2 544.1h1.7v1.7h-1.7zM126.7 548.2h1.7v1.7h-1.7zM126.4 550.2h1.7v1.7h-1.7zM130.9 537.8h1.7v1.7h-1.7zM128.7 542.5h1.7v1.7h-1.7zM124.4 538.2h1.7v1.7h-1.7zM137.7 549.9h1.7v1.7h-1.7zM131.2 538.4h1.7v1.7h-1.7zM126.3 538.7h1.7v1.7h-1.7zM133.1 533.7h1.7v1.7h-1.7zM124.5 545.2h1.7v1.7h-1.7zM140.2 544.1h1.7v1.7h-1.7zM125.9 539.8h1.7v1.7h-1.7zM126.8 538.0h1.7v1.7h-1.7zM127.4 528.8h1.7v1.7h-1.7zM124.1 542.4h1.7v1.7h-1.7zM127.5 549.0h1.7v1.7h-1.7zM120.0 543.7h1.7v1.7h-1.7zM133.6 548.3h1.7v1.7h-1.7zM133.5 542.7h1.7v1.7h-1.7zM124.0 544.0h1.7v1.7h-1.7zM141.4 536.3h1.7v1.7h-1.7zM137.9 536.8h1.7v1.7h-1.7zM118.2 536.7h1.7v1.7h-1.7zM130.6 539.6h1.7v1.7h-1.7zM120.5 543.9h1.7v1.7h-1.7zM128.6 534.1h1.7v1.7h-1.7zM129.8 540.0h1.7v1.7h-1.7zM138.9 539.7h1.7v1.7h-1.7zM131.7 547.2h1.7v1.7h-1.7zM133.0 540.2h1.7v1.7h-1.7zM123.7 544.5h1.7v1.7h-1.7zM138.4 544.4h1.7v1.7h-1.7zM138.5 545.4h1.7v1.7h-1.7zM125.2 532.6h1.7v1.7h-1.7zM132.9 537.0h1.7v1.7h-1.7zM127.6 545.2h1.7v1.7h-1.7zM123.3 539.9h1.7v1.7h-1.7zM122.6 535.5h1.7v1.7h-1.7zM123.8 535.3h1.7v1.7h-1.7zM135.6 541.8h1.7v1.7h-1.7zM130.4 542.1h1.7v1.7h-1.7zM129.8 542.8h1.7v1.7h-1.7zM132.1 537.3h1.7v1.7h-1.7zM119.2 541.9h1.7v1.7h-1.7zM126.2 533.4h1.7v1.7h-1.7zM138.4 541.0h1.7v1.7h-1.7zM126.6 539.2h1.7v1.7h-1.7zM135.9 546.9h1.7v1.7h-1.7zM129.3 534.1h1.7v1.7h-1.7zM132.6 547.5h1.7v1.7h-1.7zM121.8 540.0h1.7v1.7h-1.7zM131.0 545.5h1.7v1.7h-1.7zM132.9 547.4h1.7v1.7h-1.7zM132.2 534.7h1.7v1.7h-1.7zM132.4 539.0h1.7v1.7h-1.7zM123.5 540.3h1.7v1.7h-1.7zM125.2 548.5h1.7v1.7h-1.7zM121.4 550.7h1.7v1.7h-1.7zM125.6 543.7h1.7v1.7h-1.7zM134.0 535.8h1.7v1.7h-1.7zM124.4 538.3h1.7v1.7h-1.7zM126.3 545.8h1.7v1.7h-1.7zM125.4 543.3h1.7v1.7h-1.7zM125.1 545.8h1.7v1.7h-1.7zM133.1 535.7h1.7v1.7h-1.7zM129.3 540.8h1.7v1.7h-1.7zM134.7 541.2h1.7v1.7h-1.7zM128.6 545.8h1.7v1.7h-1.7zM125.0 547.1h1.7v1.7h-1.7zM139.9 539.4h1.7v1.7h-1.7zM126.4 543.4h1.7v1.7h-1.7zM123.4 538.2h1.7v1.7h-1.7zM119.8 545.3h1.7v1.7h-1.7zM134.8 540.3h1.7v1.7h-1.7zM127.5 547.6h1.7v1.7h-1.7zM123.2 537.4h1.7v1.7h-1.7zM126.1 548.1h1.7v1.7h-1.7zM128.9 535.6h1.7v1.7h-1.7zM136.9 545.8h1.7v1.7h-1.7zM124.3 532.2h1.7v1.7h-1.7zM134.5 550.0h1.7v1.7h-1.7zM117.2 542.5h1.7v1.7h-1.7zM121.6 538.6h1.7v1.7h-1.7zM123.3 541.4h1.7v1.7h-1.7zM133.9 538.7h1.7v1.7h-1.7zM131.1 548.3h1.7v1.7h-1.7zM127.4 543.7h1.7v1.7h-1.7zM129.8 533.8h1.7v1.7h-1.7zM122.5 539.7h1.7v1.7h-1.7zM126.9 543.2h1.7v1.7h-1.7zM130.3 541.8h1.7v1.7h-1.7zM132.2 545.5h1.7v1.7h-1.7zM133.4 543.2h1.7v1.7h-1.7zM127.7 535.7h1.7v1.7h-1.7zM130.4 538.7h1.7v1.7h-1.7zM118.4 537.0h1.7v1.7h-1.7zM131.0 542.6h1.7v1.7h-1.7zM121.3 537.8h1.7v1.7h-1.7zM127.5 544.8h1.7v1.7h-1.7zM126.2 537.0h1.7v1.7h-1.7zM122.7 535.2h1.7v1.7h-1.7zM136.6 538.6h1.7v1.7h-1.7zM128.3 529.6h1.7v1.7h-1.7zM122.0 536.3h1.7v1.7h-1.7zM131.3 540.8h1.7v1.7h-1.7zM123.1 536.3h1.7v1.7h-1.7zM127.6 538.9h1.7v1.7h-1.7zM130.0 543.6h1.7v1.7h-1.7zM138.8 546.5h1.7v1.7h-1.7zM120.2 544.7h1.7v1.7h-1.7zM135.7 545.5h1.7v1.7h-1.7z" fill="#000"/>
<path d="M132.1 515.8h1.55v1.55h-1.55zM137.1 513.5h1.55v1.55h-1.55zM145.3 514.4h1.55v1.55h-1.55zM146.4 513.5h1.55v1.55h-1.55zM143.2 515.9h1.55v1.55h-1.55zM138.6 511.8h1.55v1.55h-1.55zM143.0 510.1h1.55v1.55h-1.55zM150.8 512.9h1.55v1.55h-1.55zM146.7 519.7h1.55v1.55h-1.55zM145.2 517.9h1.55v1.55h-1.55zM142.4 519.4h1.55v1.55h-1.55zM143.8 518.6h1.55v1.55h-1.55zM142.9 513.3h1.55v1.55h-1.55zM142.3 522.1h1.55v1.55h-1.55zM145.3 513.5h1.55v1.55h-1.55zM147.7 507.4h1.55v1.55h-1.55zM146.7 512.6h1.55v1.55h-1.55zM141.3 510.1h1.55v1.55h-1.55zM147.6 513.1h1.55v1.55h-1.55zM146.1 520.4h1.55v1.55h-1.55zM142.8 552.6h1.55v1.55h-1.55zM144.8 560.4h1.55v1.55h-1.55zM129.4 554.0h1.55v1.55h-1.55zM123.9 566.2h1.55v1.55h-1.55zM139.3 572.1h1.55v1.55h-1.55zM131.0 563.5h1.55v1.55h-1.55zM129.5 567.8h1.55v1.55h-1.55zM135.0 569.6h1.55v1.55h-1.55zM144.6 564.3h1.55v1.55h-1.55zM127.9 572.0h1.55v1.55h-1.55zM129.9 576.3h1.55v1.55h-1.55zM131.2 581.3h1.55v1.55h-1.55zM130.0 575.8h1.55v1.55h-1.55zM143.6 568.1h1.55v1.55h-1.55zM138.7 556.9h1.55v1.55h-1.55zM130.3 578.4h1.55v1.55h-1.55zM140.1 574.7h1.55v1.55h-1.55zM127.9 581.0h1.55v1.55h-1.55zM136.9 579.1h1.55v1.55h-1.55zM140.3 567.1h1.55v1.55h-1.55zM132.9 580.6h1.55v1.55h-1.55zM124.4 562.9h1.55v1.55h-1.55zM127.4 562.6h1.55v1.55h-1.55zM129.0 566.4h1.55v1.55h-1.55zM131.6 578.9h1.55v1.55h-1.55zM139.5 579.9h1.55v1.55h-1.55zM131.7 563.8h1.55v1.55h-1.55zM134.4 566.3h1.55v1.55h-1.55zM128.4 577.8h1.55v1.55h-1.55zM143.9 565.5h1.55v1.55h-1.55zM129.5 570.0h1.55v1.55h-1.55zM126.3 575.0h1.55v1.55h-1.55zM139.0 579.6h1.55v1.55h-1.55zM138.2 565.8h1.55v1.55h-1.55z" fill="#1a1a1a"/>
<path d="M147.0 512.1h1.45v1.45h-1.45zM134.2 541.1h1.45v1.45h-1.45zM132.3 568.3h1.45v1.45h-1.45zM123.5 538.9h1.45v1.45h-1.45zM153.0 521.3h1.45v1.45h-1.45zM134.9 537.9h1.45v1.45h-1.45zM127.5 539.4h1.45v1.45h-1.45zM120.3 539.4h1.45v1.45h-1.45zM102.4 522.9h1.45v1.45h-1.45zM134.3 531.3h1.45v1.45h-1.45zM116.2 520.1h1.45v1.45h-1.45zM100.8 552.3h1.45v1.45h-1.45zM114.1 522.4h1.45v1.45h-1.45zM138.5 531.9h1.45v1.45h-1.45zM144.7 539.3h1.45v1.45h-1.45zM120.9 530.9h1.45v1.45h-1.45zM126.3 525.2h1.45v1.45h-1.45zM147.3 541.5h1.45v1.45h-1.45zM149.2 530.9h1.45v1.45h-1.45zM112.6 528.5h1.45v1.45h-1.45zM127.5 529.6h1.45v1.45h-1.45zM132.1 526.1h1.45v1.45h-1.45zM123.7 534.1h1.45v1.45h-1.45zM126.7 542.1h1.45v1.45h-1.45zM138.2 534.3h1.45v1.45h-1.45zM144.9 512.5h1.45v1.45h-1.45zM122.8 551.8h1.45v1.45h-1.45zM133.0 544.6h1.45v1.45h-1.45zM135.9 532.0h1.45v1.45h-1.45zM120.3 551.6h1.45v1.45h-1.45zM59.7 575.6h1.45v1.45h-1.45zM67.1 571.1h1.45v1.45h-1.45zM71.3 575.7h1.45v1.45h-1.45zM61.1 570.1h1.45v1.45h-1.45zM61.8 577.4h1.45v1.45h-1.45zM99.9 579.4h1.45v1.45h-1.45zM62.8 582.1h1.45v1.45h-1.45zM59.9 573.2h1.45v1.45h-1.45zM79.8 569.4h1.45v1.45h-1.45zM57.0 578.5h1.45v1.45h-1.45zM52.7 579.9h1.45v1.45h-1.45zM73.7 578.5h1.45v1.45h-1.45zM69.9 578.6h1.45v1.45h-1.45zM64.5 579.7h1.45v1.45h-1.45zM86.8 579.5h1.45v1.45h-1.45zM73.2 578.7h1.45v1.45h-1.45zM94.2 572.5h1.45v1.45h-1.45zM79.2 571.6h1.45v1.45h-1.45zM91.7 580.7h1.45v1.45h-1.45zM70.1 578.9h1.45v1.45h-1.45zM68.5 559.7h1.45v1.45h-1.45zM76.7 571.6h1.45v1.45h-1.45zM107.1 569.0h1.45v1.45h-1.45zM78.2 569.0h1.45v1.45h-1.45zM53.9 560.6h1.45v1.45h-1.45zM96.9 553.7h1.45v1.45h-1.45zM108.6 561.0h1.45v1.45h-1.45zM56.7 581.8h1.45v1.45h-1.45zM107.3 566.4h1.45v1.45h-1.45zM109.0 561.2h1.45v1.45h-1.45z" fill="#2a2a2a"/>
<rect x="44.3" y="455.2" width="153.70" height="129.00" fill="none" stroke="#000" stroke-width="1.5"/>
<text x="44.76" y="597.50" font-family="Liberation Sans" font-size="11" fill="#111">10</text>
<text x="56.70" y="594.10" font-family="Liberation Sans" font-size="8" fill="#111">0</text>
<g transform="translate(39.50,583.04) rotate(-90)"><text x="0" y="0" font-family="Liberation Sans" font-size="11" fill="#111">10</text><text x="11.94" y="-3.4" font-family="Liberation Sans" font-size="8" fill="#111">0</text></g>
<text x="83.19" y="597.50" font-family="Liberation Sans" font-size="11" fill="#111">10</text>
<text x="95.12" y="594.10" font-family="Liberation Sans" font-size="8" fill="#111">1</text>
<g transform="translate(39.50,550.79) rotate(-90)"><text x="0" y="0" font-family="Liberation Sans" font-size="11" fill="#111">10</text><text x="11.94" y="-3.4" font-family="Liberation Sans" font-size="8" fill="#111">1</text></g>
<text x="121.61" y="597.50" font-family="Liberation Sans" font-size="11" fill="#111">10</text>
<text x="133.55" y="594.10" font-family="Liberation Sans" font-size="8" fill="#111">2</text>
<g transform="translate(39.50,518.54) rotate(-90)"><text x="0" y="0" font-family="Liberation Sans" font-size="11" fill="#111">10</text><text x="11.94" y="-3.4" font-family="Liberation Sans" font-size="8" fill="#111">2</text></g>
<text x="160.04" y="597.50" font-family="Liberation Sans" font-size="11" fill="#111">10</text>
<text x="171.97" y="594.10" font-family="Liberation Sans" font-size="8" fill="#111">3</text>
<g transform="translate(39.50,486.29) rotate(-90)"><text x="0" y="0" font-family="Liberation Sans" font-size="11" fill="#111">10</text><text x="11.94" y="-3.4" font-family="Liberation Sans" font-size="8" fill="#111">3</text></g>
<text x="198.46" y="597.50" font-family="Liberation Sans" font-size="11" fill="#111">10</text>
<text x="210.40" y="594.10" font-family="Liberation Sans" font-size="8" fill="#111">4</text>
<g transform="translate(39.50,454.04) rotate(-90)"><text x="0" y="0" font-family="Liberation Sans" font-size="11" fill="#111">10</text><text x="11.94" y="-3.4" font-family="Liberation Sans" font-size="8" fill="#111">4</text></g>
<text transform="translate(68.22,432.85) scale(1.075,1)" font-family="Liberation Serif" font-size="17" fill="#111">Liver +/+</text>
<text x="12.03" y="432.00" font-family="Liberation Sans" font-size="12" fill="#111" >0.9%</text>
<text x="202.84" y="433.25" font-family="Liberation Sans" font-size="12" fill="#111" >18.6%</text>
<text x="7.39" y="615.50" font-family="Liberation Sans" font-size="12" fill="#111" >67.8%</text>
<text x="202.84" y="616.25" font-family="Liberation Sans" font-size="12" fill="#111" >12.7%</text>
<text x="104.49" y="615.00" font-family="Liberation Sans" font-size="12" fill="#111" >eGFP</text>
<text transform="translate(22.00,541.81) rotate(-90)" font-family="Liberation Sans" font-size="12" fill="#111">CD8-PE</text>
<path d="M310.70 587.30v4.2M310.70 587.30h-4.4M322.25 587.30v4.2M310.70 577.63h-4.4M329.01 587.30v4.2M310.70 571.97h-4.4M333.80 587.30v4.2M310.70 567.96h-4.4M337.52 587.30v4.2M310.70 564.85h-4.4M340.56 587.30v4.2M310.70 562.30h-4.4M343.13 587.30v4.2M310.70 560.15h-4.4M345.36 587.30v4.2M310.70 558.29h-4.4M347.32 587.30v4.2M310.70 556.64h-4.4M349.07 587.30v4.2M310.70 555.17h-4.4M360.63 587.30v4.2M310.70 545.50h-4.4M367.38 587.30v4.2M310.70 539.85h-4.4M372.18 587.30v4.2M310.70 535.83h-4.4M375.90 587.30v4.2M310.70 532.72h-4.4M378.94 587.30v4.2M310.70 530.18h-4.4M381.51 587.30v4.2M310.70 528.03h-4.4M383.73 587.30v4.2M310.70 526.16h-4.4M385.69 587.30v4.2M310.70 524.52h-4.4M387.45 587.30v4.2M310.70 523.05h-4.4M399.00 587.30v4.2M310.70 513.38h-4.4M405.76 587.30v4.2M310.70 507.72h-4.4M410.55 587.30v4.2M310.70 503.71h-4.4M414.27 587.30v4.2M310.70 500.60h-4.4M417.31 587.30v4.2M310.70 498.05h-4.4M419.88 587.30v4.2M310.70 495.90h-4.4M422.11 587.30v4.2M310.70 494.04h-4.4M424.07 587.30v4.2M310.70 492.39h-4.4M425.82 587.30v4.2M310.70 490.93h-4.4M437.38 587.30v4.2M310.70 481.25h-4.4M444.13 587.30v4.2M310.70 475.60h-4.4M448.93 587.30v4.2M310.70 471.58h-4.4M452.65 587.30v4.2M310.70 468.47h-4.4M455.69 587.30v4.2M310.70 465.93h-4.4M458.26 587.30v4.2M310.70 463.78h-4.4M460.48 587.30v4.2M310.70 461.91h-4.4M462.44 587.30v4.2M310.70 460.27h-4.4M464.20 587.30v4.2M310.70 458.80h-4.4" stroke="#000" stroke-width="1.2" fill="none"/>
<line x1="359.5" y1="458.8" x2="359.5" y2="587.3" stroke="#ddd" stroke-width="0.8" stroke-dasharray="1 2"/>
<line x1="310.7" y1="554.4" x2="464.2" y2="554.4" stroke="#888" stroke-width="1.2"/>
<path d="M390.7 554.3h1.7v1.7h-1.7zM395.3 561.7h1.7v1.7h-1.7zM393.7 547.7h1.7v1.7h-1.7zM402.1 546.4h1.7v1.7h-1.7zM403.5 536.3h1.7v1.7h-1.7zM386.5 528.3h1.7v1.7h-1.7zM395.1 540.9h1.7v1.7h-1.7zM400.1 548.2h1.7v1.7h-1.7zM399.1 556.9h1.7v1.7h-1.7zM396.3 531.8h1.7v1.7h-1.7zM384.4 549.3h1.7v1.7h-1.7zM405.8 528.4h1.7v1.7h-1.7zM405.2 548.2h1.7v1.7h-1.7zM395.7 525.2h1.7v1.7h-1.7zM405.6 542.1h1.7v1.7h-1.7zM388.0 535.5h1.7v1.7h-1.7zM398.2 558.1h1.7v1.7h-1.7zM394.0 529.8h1.7v1.7h-1.7zM400.5 546.5h1.7v1.7h-1.7zM403.5 537.6h1.7v1.7h-1.7zM388.2 551.1h1.7v1.7h-1.7zM395.4 542.5h1.7v1.7h-1.7zM394.6 543.1h1.7v1.7h-1.7zM392.7 557.7h1.7v1.7h-1.7zM389.8 546.8h1.7v1.7h-1.7zM391.9 525.0h1.7v1.7h-1.7zM396.8 526.9h1.7v1.7h-1.7zM400.5 529.6h1.7v1.7h-1.7zM385.6 529.2h1.7v1.7h-1.7zM389.7 536.4h1.7v1.7h-1.7zM383.8 548.7h1.7v1.7h-1.7zM384.3 543.2h1.7v1.7h-1.7zM383.2 535.3h1.7v1.7h-1.7zM396.7 540.7h1.7v1.7h-1.7zM404.2 520.2h1.7v1.7h-1.7zM395.1 532.9h1.7v1.7h-1.7zM400.9 527.3h1.7v1.7h-1.7zM387.1 536.6h1.7v1.7h-1.7zM409.3 547.9h1.7v1.7h-1.7zM392.4 556.4h1.7v1.7h-1.7zM405.0 530.7h1.7v1.7h-1.7zM386.6 543.5h1.7v1.7h-1.7zM394.6 540.1h1.7v1.7h-1.7zM404.7 539.0h1.7v1.7h-1.7zM391.0 541.2h1.7v1.7h-1.7zM395.3 546.0h1.7v1.7h-1.7zM398.0 531.8h1.7v1.7h-1.7zM393.3 548.1h1.7v1.7h-1.7zM386.5 546.4h1.7v1.7h-1.7zM387.8 544.5h1.7v1.7h-1.7zM408.5 543.9h1.7v1.7h-1.7zM408.7 544.9h1.7v1.7h-1.7zM403.2 530.5h1.7v1.7h-1.7zM393.4 540.6h1.7v1.7h-1.7zM406.8 530.8h1.7v1.7h-1.7zM398.0 553.1h1.7v1.7h-1.7zM392.9 540.5h1.7v1.7h-1.7zM385.3 545.1h1.7v1.7h-1.7zM395.5 535.9h1.7v1.7h-1.7zM388.2 537.0h1.7v1.7h-1.7zM390.4 539.6h1.7v1.7h-1.7zM404.2 530.9h1.7v1.7h-1.7zM401.9 526.2h1.7v1.7h-1.7zM398.0 533.6h1.7v1.7h-1.7zM387.2 538.2h1.7v1.7h-1.7zM405.2 550.7h1.7v1.7h-1.7zM393.7 530.8h1.7v1.7h-1.7zM398.2 545.1h1.7v1.7h-1.7zM396.2 545.6h1.7v1.7h-1.7zM391.6 548.5h1.7v1.7h-1.7zM402.0 525.4h1.7v1.7h-1.7zM402.6 538.1h1.7v1.7h-1.7zM388.2 533.5h1.7v1.7h-1.7zM406.2 548.9h1.7v1.7h-1.7zM395.1 545.8h1.7v1.7h-1.7zM402.0 528.9h1.7v1.7h-1.7zM396.4 535.2h1.7v1.7h-1.7zM391.9 555.9h1.7v1.7h-1.7zM390.5 560.5h1.7v1.7h-1.7zM394.2 549.9h1.7v1.7h-1.7zM396.9 558.8h1.7v1.7h-1.7zM405.5 546.5h1.7v1.7h-1.7zM405.5 547.3h1.7v1.7h-1.7zM397.9 525.3h1.7v1.7h-1.7zM396.5 553.0h1.7v1.7h-1.7zM397.5 552.8h1.7v1.7h-1.7zM402.2 545.7h1.7v1.7h-1.7zM400.4 538.4h1.7v1.7h-1.7zM388.0 548.2h1.7v1.7h-1.7zM395.9 551.1h1.7v1.7h-1.7zM400.1 551.7h1.7v1.7h-1.7zM407.4 546.3h1.7v1.7h-1.7zM388.5 540.6h1.7v1.7h-1.7zM401.7 533.5h1.7v1.7h-1.7zM387.7 535.9h1.7v1.7h-1.7zM395.8 549.8h1.7v1.7h-1.7zM393.9 554.2h1.7v1.7h-1.7zM385.7 546.2h1.7v1.7h-1.7zM394.3 545.9h1.7v1.7h-1.7zM406.4 552.4h1.7v1.7h-1.7zM394.8 554.3h1.7v1.7h-1.7zM394.6 552.9h1.7v1.7h-1.7zM401.5 549.3h1.7v1.7h-1.7zM394.3 540.4h1.7v1.7h-1.7zM391.6 536.6h1.7v1.7h-1.7zM398.0 554.8h1.7v1.7h-1.7zM387.5 533.6h1.7v1.7h-1.7zM406.3 539.3h1.7v1.7h-1.7zM389.3 540.9h1.7v1.7h-1.7zM392.8 545.3h1.7v1.7h-1.7zM402.4 546.1h1.7v1.7h-1.7zM404.8 553.0h1.7v1.7h-1.7zM401.9 527.5h1.7v1.7h-1.7zM402.6 538.2h1.7v1.7h-1.7zM408.8 536.9h1.7v1.7h-1.7zM401.6 548.4h1.7v1.7h-1.7zM410.6 544.9h1.7v1.7h-1.7zM396.1 563.0h1.7v1.7h-1.7zM393.1 531.3h1.7v1.7h-1.7zM390.0 533.6h1.7v1.7h-1.7zM388.0 541.1h1.7v1.7h-1.7zM410.6 538.0h1.7v1.7h-1.7zM398.6 531.1h1.7v1.7h-1.7zM396.0 547.3h1.7v1.7h-1.7zM396.8 549.0h1.7v1.7h-1.7zM406.9 555.2h1.7v1.7h-1.7zM404.0 545.8h1.7v1.7h-1.7zM400.4 541.4h1.7v1.7h-1.7zM396.9 526.4h1.7v1.7h-1.7zM400.0 528.5h1.7v1.7h-1.7zM394.2 525.1h1.7v1.7h-1.7zM398.0 539.7h1.7v1.7h-1.7zM403.8 522.9h1.7v1.7h-1.7zM401.4 545.1h1.7v1.7h-1.7zM394.5 535.7h1.7v1.7h-1.7zM397.5 529.3h1.7v1.7h-1.7zM402.1 541.5h1.7v1.7h-1.7zM394.3 531.0h1.7v1.7h-1.7zM392.4 541.1h1.7v1.7h-1.7zM399.0 557.7h1.7v1.7h-1.7zM400.1 553.6h1.7v1.7h-1.7zM388.2 536.0h1.7v1.7h-1.7zM400.9 528.7h1.7v1.7h-1.7zM391.8 527.1h1.7v1.7h-1.7zM407.2 540.1h1.7v1.7h-1.7zM405.3 546.3h1.7v1.7h-1.7zM398.5 520.7h1.7v1.7h-1.7zM394.9 533.3h1.7v1.7h-1.7zM383.8 544.4h1.7v1.7h-1.7zM387.5 531.5h1.7v1.7h-1.7zM390.2 544.0h1.7v1.7h-1.7zM402.0 554.1h1.7v1.7h-1.7zM392.6 547.3h1.7v1.7h-1.7zM401.2 544.9h1.7v1.7h-1.7zM402.1 549.7h1.7v1.7h-1.7zM389.7 554.4h1.7v1.7h-1.7zM401.5 544.7h1.7v1.7h-1.7zM405.3 548.7h1.7v1.7h-1.7zM385.3 547.2h1.7v1.7h-1.7zM385.0 553.4h1.7v1.7h-1.7zM387.7 535.6h1.7v1.7h-1.7zM395.9 526.2h1.7v1.7h-1.7zM396.7 554.7h1.7v1.7h-1.7zM392.8 525.9h1.7v1.7h-1.7zM405.4 541.2h1.7v1.7h-1.7zM387.9 533.0h1.7v1.7h-1.7zM396.4 535.5h1.7v1.7h-1.7zM394.8 553.1h1.7v1.7h-1.7zM384.9 538.4h1.7v1.7h-1.7zM401.9 529.9h1.7v1.7h-1.7zM398.1 557.7h1.7v1.7h-1.7zM390.6 526.1h1.7v1.7h-1.7zM391.2 534.5h1.7v1.7h-1.7zM394.5 552.3h1.7v1.7h-1.7zM385.4 532.7h1.7v1.7h-1.7zM397.0 552.9h1.7v1.7h-1.7zM404.4 546.0h1.7v1.7h-1.7zM399.0 526.7h1.7v1.7h-1.7zM403.5 538.3h1.7v1.7h-1.7zM399.1 533.2h1.7v1.7h-1.7zM395.9 533.4h1.7v1.7h-1.7zM396.0 526.6h1.7v1.7h-1.7zM405.9 557.1h1.7v1.7h-1.7zM391.0 533.6h1.7v1.7h-1.7zM400.7 540.8h1.7v1.7h-1.7zM398.3 548.5h1.7v1.7h-1.7zM401.3 541.3h1.7v1.7h-1.7zM401.7 551.5h1.7v1.7h-1.7zM401.8 544.4h1.7v1.7h-1.7zM390.6 550.2h1.7v1.7h-1.7zM389.4 541.6h1.7v1.7h-1.7zM394.4 533.9h1.7v1.7h-1.7zM398.6 545.2h1.7v1.7h-1.7zM394.9 531.7h1.7v1.7h-1.7zM396.0 564.1h1.7v1.7h-1.7zM398.0 535.2h1.7v1.7h-1.7zM399.7 557.2h1.7v1.7h-1.7zM388.5 533.9h1.7v1.7h-1.7zM396.4 530.9h1.7v1.7h-1.7zM399.7 548.8h1.7v1.7h-1.7zM398.4 536.1h1.7v1.7h-1.7zM401.4 543.2h1.7v1.7h-1.7zM392.2 541.5h1.7v1.7h-1.7zM390.0 539.6h1.7v1.7h-1.7zM404.6 550.1h1.7v1.7h-1.7zM402.0 542.0h1.7v1.7h-1.7zM396.5 545.5h1.7v1.7h-1.7zM397.2 540.1h1.7v1.7h-1.7zM395.0 526.9h1.7v1.7h-1.7zM402.3 553.7h1.7v1.7h-1.7zM398.4 543.5h1.7v1.7h-1.7zM395.8 538.2h1.7v1.7h-1.7zM400.0 527.8h1.7v1.7h-1.7zM407.6 543.9h1.7v1.7h-1.7zM405.5 547.4h1.7v1.7h-1.7zM400.9 550.1h1.7v1.7h-1.7zM400.9 531.7h1.7v1.7h-1.7zM383.8 544.6h1.7v1.7h-1.7zM400.4 537.4h1.7v1.7h-1.7zM390.8 553.6h1.7v1.7h-1.7zM396.2 543.1h1.7v1.7h-1.7zM393.1 543.4h1.7v1.7h-1.7zM402.3 536.2h1.7v1.7h-1.7zM401.5 523.4h1.7v1.7h-1.7zM392.2 524.6h1.7v1.7h-1.7zM399.2 534.1h1.7v1.7h-1.7zM401.4 531.6h1.7v1.7h-1.7zM400.6 538.9h1.7v1.7h-1.7zM400.1 540.3h1.7v1.7h-1.7zM401.4 541.8h1.7v1.7h-1.7zM393.2 530.8h1.7v1.7h-1.7zM382.3 544.7h1.7v1.7h-1.7zM401.0 529.8h1.7v1.7h-1.7zM397.0 550.9h1.7v1.7h-1.7zM408.0 539.8h1.7v1.7h-1.7zM387.2 538.4h1.7v1.7h-1.7zM399.6 541.2h1.7v1.7h-1.7zM398.0 558.0h1.7v1.7h-1.7zM385.4 546.3h1.7v1.7h-1.7zM402.2 530.8h1.7v1.7h-1.7zM398.7 531.3h1.7v1.7h-1.7zM398.1 545.8h1.7v1.7h-1.7zM400.6 536.2h1.7v1.7h-1.7zM396.6 555.8h1.7v1.7h-1.7zM400.6 536.2h1.7v1.7h-1.7zM406.6 539.0h1.7v1.7h-1.7zM394.6 537.3h1.7v1.7h-1.7zM404.0 545.2h1.7v1.7h-1.7zM386.5 555.3h1.7v1.7h-1.7zM403.6 556.8h1.7v1.7h-1.7z" fill="#000"/>
<path d="M416.8 539.9h1.55v1.55h-1.55zM413.3 545.8h1.55v1.55h-1.55zM415.8 537.3h1.55v1.55h-1.55zM407.4 552.6h1.55v1.55h-1.55zM411.9 542.5h1.55v1.55h-1.55zM412.1 540.7h1.55v1.55h-1.55zM413.8 541.4h1.55v1.55h-1.55zM412.8 538.2h1.55v1.55h-1.55zM417.8 542.0h1.55v1.55h-1.55zM412.9 547.3h1.55v1.55h-1.55zM417.3 549.1h1.55v1.55h-1.55zM415.5 534.0h1.55v1.55h-1.55zM417.2 536.6h1.55v1.55h-1.55zM416.9 530.2h1.55v1.55h-1.55zM412.6 531.6h1.55v1.55h-1.55zM408.0 545.1h1.55v1.55h-1.55zM409.9 551.3h1.55v1.55h-1.55zM413.6 537.9h1.55v1.55h-1.55zM414.1 529.2h1.55v1.55h-1.55zM407.8 536.2h1.55v1.55h-1.55zM403.3 537.6h1.55v1.55h-1.55zM410.6 545.8h1.55v1.55h-1.55zM408.0 549.0h1.55v1.55h-1.55zM414.6 548.2h1.55v1.55h-1.55zM406.6 535.7h1.55v1.55h-1.55zM411.8 548.7h1.55v1.55h-1.55zM413.3 543.7h1.55v1.55h-1.55zM413.0 549.8h1.55v1.55h-1.55zM407.9 540.2h1.55v1.55h-1.55zM414.8 540.4h1.55v1.55h-1.55zM402.5 572.3h1.55v1.55h-1.55zM399.9 580.5h1.55v1.55h-1.55zM398.7 575.1h1.55v1.55h-1.55zM396.9 572.0h1.55v1.55h-1.55zM395.4 563.5h1.55v1.55h-1.55zM406.4 574.0h1.55v1.55h-1.55zM404.4 567.8h1.55v1.55h-1.55zM403.9 582.0h1.55v1.55h-1.55zM401.3 572.1h1.55v1.55h-1.55zM405.9 575.1h1.55v1.55h-1.55zM394.3 581.6h1.55v1.55h-1.55zM411.2 574.6h1.55v1.55h-1.55zM399.4 583.6h1.55v1.55h-1.55zM389.7 578.9h1.55v1.55h-1.55zM395.7 570.5h1.55v1.55h-1.55zM388.2 566.3h1.55v1.55h-1.55zM409.8 572.8h1.55v1.55h-1.55zM387.4 578.3h1.55v1.55h-1.55zM385.4 575.9h1.55v1.55h-1.55zM389.9 566.4h1.55v1.55h-1.55zM406.5 567.9h1.55v1.55h-1.55zM400.9 577.4h1.55v1.55h-1.55zM409.0 580.6h1.55v1.55h-1.55zM391.6 567.2h1.55v1.55h-1.55zM402.5 584.9h1.55v1.55h-1.55zM386.1 571.3h1.55v1.55h-1.55zM399.0 570.8h1.55v1.55h-1.55zM396.2 562.9h1.55v1.55h-1.55zM394.7 573.4h1.55v1.55h-1.55zM389.4 576.7h1.55v1.55h-1.55zM404.1 581.6h1.55v1.55h-1.55zM381.4 582.4h1.55v1.55h-1.55zM398.0 565.7h1.55v1.55h-1.55zM404.3 576.9h1.55v1.55h-1.55zM389.2 572.0h1.55v1.55h-1.55zM400.6 563.3h1.55v1.55h-1.55zM394.5 582.4h1.55v1.55h-1.55zM412.8 570.1h1.55v1.55h-1.55zM396.3 581.5h1.55v1.55h-1.55zM395.0 582.5h1.55v1.55h-1.55zM407.3 563.4h1.55v1.55h-1.55zM413.2 568.5h1.55v1.55h-1.55zM393.3 577.2h1.55v1.55h-1.55zM400.2 579.7h1.55v1.55h-1.55z" fill="#1a1a1a"/>
<path d="M383.9 528.6h1.45v1.45h-1.45zM387.2 548.2h1.45v1.45h-1.45zM404.7 547.6h1.45v1.45h-1.45zM407.4 544.3h1.45v1.45h-1.45zM408.7 543.2h1.45v1.45h-1.45zM403.8 550.2h1.45v1.45h-1.45zM393.3 536.0h1.45v1.45h-1.45zM393.0 544.6h1.45v1.45h-1.45zM390.1 520.0h1.45v1.45h-1.45zM398.6 565.2h1.45v1.45h-1.45zM401.1 544.9h1.45v1.45h-1.45zM380.2 534.9h1.45v1.45h-1.45zM378.5 557.7h1.45v1.45h-1.45zM387.7 527.2h1.45v1.45h-1.45zM402.2 550.3h1.45v1.45h-1.45zM400.6 526.0h1.45v1.45h-1.45zM410.1 546.1h1.45v1.45h-1.45zM402.5 544.2h1.45v1.45h-1.45zM394.2 540.4h1.45v1.45h-1.45zM405.1 546.4h1.45v1.45h-1.45zM414.2 541.5h1.45v1.45h-1.45zM391.4 539.8h1.45v1.45h-1.45zM399.6 548.6h1.45v1.45h-1.45zM398.5 558.0h1.45v1.45h-1.45zM389.4 541.9h1.45v1.45h-1.45zM395.0 511.6h1.45v1.45h-1.45zM404.6 544.4h1.45v1.45h-1.45zM369.8 562.2h1.45v1.45h-1.45zM378.7 546.2h1.45v1.45h-1.45zM396.7 544.8h1.45v1.45h-1.45zM398.2 535.5h1.45v1.45h-1.45zM398.3 565.0h1.45v1.45h-1.45zM374.6 535.8h1.45v1.45h-1.45zM382.6 547.6h1.45v1.45h-1.45zM411.4 566.6h1.45v1.45h-1.45zM348.5 573.3h1.45v1.45h-1.45zM315.1 580.7h1.45v1.45h-1.45zM315.4 567.4h1.45v1.45h-1.45zM317.1 582.4h1.45v1.45h-1.45zM333.7 570.8h1.45v1.45h-1.45zM319.4 579.5h1.45v1.45h-1.45zM342.4 585.3h1.45v1.45h-1.45zM326.8 581.6h1.45v1.45h-1.45zM342.8 577.9h1.45v1.45h-1.45zM320.4 580.3h1.45v1.45h-1.45zM336.1 571.3h1.45v1.45h-1.45zM340.8 575.4h1.45v1.45h-1.45zM328.8 582.7h1.45v1.45h-1.45zM343.6 569.2h1.45v1.45h-1.45zM322.6 576.5h1.45v1.45h-1.45zM362.8 574.6h1.45v1.45h-1.45zM367.8 578.4h1.45v1.45h-1.45zM327.2 575.5h1.45v1.45h-1.45zM317.6 575.6h1.45v1.45h-1.45zM372.4 571.5h1.45v1.45h-1.45zM377.9 568.8h1.45v1.45h-1.45zM353.8 571.5h1.45v1.45h-1.45zM325.6 574.2h1.45v1.45h-1.45zM351.8 578.5h1.45v1.45h-1.45zM366.7 576.3h1.45v1.45h-1.45zM366.7 578.4h1.45v1.45h-1.45zM330.6 544.7h1.45v1.45h-1.45zM336.4 569.5h1.45v1.45h-1.45zM354.2 543.9h1.45v1.45h-1.45zM312.1 545.9h1.45v1.45h-1.45zM317.4 546.8h1.45v1.45h-1.45zM317.8 571.6h1.45v1.45h-1.45zM334.3 585.2h1.45v1.45h-1.45zM377.9 544.3h1.45v1.45h-1.45zM353.5 543.6h1.45v1.45h-1.45zM313.1 565.6h1.45v1.45h-1.45zM375.9 569.5h1.45v1.45h-1.45zM317.0 564.4h1.45v1.45h-1.45zM317.6 581.3h1.45v1.45h-1.45zM341.0 541.7h1.45v1.45h-1.45zM315.6 580.8h1.45v1.45h-1.45zM357.2 549.6h1.45v1.45h-1.45zM324.8 572.6h1.45v1.45h-1.45zM367.5 552.2h1.45v1.45h-1.45zM314.8 583.2h1.45v1.45h-1.45zM370.4 570.8h1.45v1.45h-1.45zM365.6 553.6h1.45v1.45h-1.45zM345.6 581.9h1.45v1.45h-1.45zM343.3 543.5h1.45v1.45h-1.45zM356.3 548.7h1.45v1.45h-1.45z" fill="#2a2a2a"/>
<rect x="310.7" y="458.8" width="153.50" height="128.50" fill="none" stroke="#000" stroke-width="1.5"/>
<text x="311.16" y="602.90" font-family="Liberation Sans" font-size="11" fill="#111">10</text>
<text x="323.10" y="599.50" font-family="Liberation Sans" font-size="8" fill="#111">0</text>
<g transform="translate(302.70,586.34) rotate(-90)"><text x="0" y="0" font-family="Liberation Sans" font-size="11" fill="#111">10</text><text x="11.94" y="-3.4" font-family="Liberation Sans" font-size="8" fill="#111">0</text></g>
<text x="349.54" y="602.90" font-family="Liberation Sans" font-size="11" fill="#111">10</text>
<text x="361.47" y="599.50" font-family="Liberation Sans" font-size="8" fill="#111">1</text>
<g transform="translate(302.70,554.21) rotate(-90)"><text x="0" y="0" font-family="Liberation Sans" font-size="11" fill="#111">10</text><text x="11.94" y="-3.4" font-family="Liberation Sans" font-size="8" fill="#111">1</text></g>
<text x="387.91" y="602.90" font-family="Liberation Sans" font-size="11" fill="#111">10</text>
<text x="399.85" y="599.50" font-family="Liberation Sans" font-size="8" fill="#111">2</text>
<g transform="translate(302.70,522.09) rotate(-90)"><text x="0" y="0" font-family="Liberation Sans" font-size="11" fill="#111">10</text><text x="11.94" y="-3.4" font-family="Liberation Sans" font-size="8" fill="#111">2</text></g>
<text x="426.29" y="602.90" font-family="Liberation Sans" font-size="11" fill="#111">10</text>
<text x="438.22" y="599.50" font-family="Liberation Sans" font-size="8" fill="#111">3</text>
<g transform="translate(302.70,489.96) rotate(-90)"><text x="0" y="0" font-family="Liberation Sans" font-size="11" fill="#111">10</text><text x="11.94" y="-3.4" font-family="Liberation Sans" font-size="8" fill="#111">3</text></g>
<text x="464.66" y="602.90" font-family="Liberation Sans" font-size="11" fill="#111">10</text>
<text x="476.60" y="599.50" font-family="Liberation Sans" font-size="8" fill="#111">4</text>
<g transform="translate(302.70,457.84) rotate(-90)"><text x="0" y="0" font-family="Liberation Sans" font-size="11" fill="#111">10</text><text x="11.94" y="-3.4" font-family="Liberation Sans" font-size="8" fill="#111">4</text></g>
<text transform="translate(339.47,432.85) scale(1.075,1)" font-family="Liberation Serif" font-size="17" fill="#111">Liver -/-</text>
<text x="278.59" y="431.25" font-family="Liberation Sans" font-size="12" fill="#111" >1.5%</text>
<text x="469.59" y="431.25" font-family="Liberation Sans" font-size="12" fill="#111" >11.9%</text>
<text x="273.39" y="624.00" font-family="Liberation Sans" font-size="12" fill="#111" >60.4%</text>
<text x="468.90" y="624.50" font-family="Liberation Sans" font-size="12" fill="#111" >26.2%</text>
<text x="370.74" y="619.50" font-family="Liberation Sans" font-size="12" fill="#111" >eGFP</text>
<text transform="translate(288.00,545.41) rotate(-90)" font-family="Liberation Sans" font-size="12" fill="#111">CD8-PE</text>
<path d="M45.00 790.20v2M45.00 790.20h-2M56.55 790.20v2M45.00 780.51h-2M63.31 790.20v2M45.00 774.85h-2M68.10 790.20v2M45.00 770.83h-2M71.82 790.20v2M45.00 767.71h-2M74.86 790.20v2M45.00 765.16h-2M77.43 790.20v2M45.00 763.01h-2M79.66 790.20v2M45.00 761.14h-2M81.62 790.20v2M45.00 759.50h-2M83.38 790.20v2M45.00 758.03h-2M94.93 790.20v2M45.00 748.34h-2M101.68 790.20v2M45.00 742.67h-2M106.48 790.20v2M45.00 738.65h-2M110.20 790.20v2M45.00 735.54h-2M113.24 790.20v2M45.00 732.99h-2M115.81 790.20v2M45.00 730.83h-2M118.03 790.20v2M45.00 728.97h-2M119.99 790.20v2M45.00 727.32h-2M121.75 790.20v2M45.00 725.85h-2M133.30 790.20v2M45.00 716.16h-2M140.06 790.20v2M45.00 710.50h-2M144.85 790.20v2M45.00 706.48h-2M148.57 790.20v2M45.00 703.36h-2M151.61 790.20v2M45.00 700.81h-2M154.18 790.20v2M45.00 698.66h-2M156.41 790.20v2M45.00 696.79h-2M158.37 790.20v2M45.00 695.15h-2M160.12 790.20v2M45.00 693.67h-2M171.68 790.20v2M45.00 683.99h-2M178.43 790.20v2M45.00 678.32h-2M183.23 790.20v2M45.00 674.30h-2M186.95 790.20v2M45.00 671.19h-2M189.99 790.20v2M45.00 668.64h-2M192.56 790.20v2M45.00 666.48h-2M194.78 790.20v2M45.00 664.62h-2M196.74 790.20v2M45.00 662.97h-2M198.50 790.20v2M45.00 661.50h-2" stroke="#000" stroke-width="1.2" fill="none"/>
<line x1="45.0" y1="756.4" x2="198.5" y2="756.4" stroke="#7a7a7a" stroke-width="1.2"/>
<path d="M124.9 720.8h1.7v1.7h-1.7zM117.2 725.7h1.7v1.7h-1.7zM132.1 728.1h1.7v1.7h-1.7zM129.7 732.9h1.7v1.7h-1.7zM127.4 734.8h1.7v1.7h-1.7zM118.5 724.4h1.7v1.7h-1.7zM126.9 728.3h1.7v1.7h-1.7zM127.9 727.2h1.7v1.7h-1.7zM125.7 728.1h1.7v1.7h-1.7zM120.6 719.6h1.7v1.7h-1.7zM122.6 732.6h1.7v1.7h-1.7zM135.8 725.0h1.7v1.7h-1.7zM121.6 718.0h1.7v1.7h-1.7zM120.5 726.5h1.7v1.7h-1.7zM129.6 720.1h1.7v1.7h-1.7zM123.6 730.8h1.7v1.7h-1.7zM117.8 727.1h1.7v1.7h-1.7zM118.2 715.8h1.7v1.7h-1.7zM121.0 734.5h1.7v1.7h-1.7zM132.4 730.3h1.7v1.7h-1.7zM129.6 724.2h1.7v1.7h-1.7zM116.4 732.5h1.7v1.7h-1.7zM118.2 716.9h1.7v1.7h-1.7zM125.0 734.7h1.7v1.7h-1.7zM122.8 715.9h1.7v1.7h-1.7zM128.8 736.1h1.7v1.7h-1.7zM120.1 719.2h1.7v1.7h-1.7zM130.2 733.3h1.7v1.7h-1.7zM113.1 724.6h1.7v1.7h-1.7zM126.0 720.0h1.7v1.7h-1.7zM120.7 736.8h1.7v1.7h-1.7zM120.2 730.4h1.7v1.7h-1.7zM122.8 713.3h1.7v1.7h-1.7zM120.1 723.4h1.7v1.7h-1.7zM113.2 724.6h1.7v1.7h-1.7zM133.5 726.5h1.7v1.7h-1.7zM119.7 720.0h1.7v1.7h-1.7zM127.6 736.5h1.7v1.7h-1.7zM128.1 718.3h1.7v1.7h-1.7zM130.5 731.2h1.7v1.7h-1.7zM134.6 734.3h1.7v1.7h-1.7zM114.7 736.1h1.7v1.7h-1.7zM132.1 733.7h1.7v1.7h-1.7zM123.6 719.4h1.7v1.7h-1.7zM129.9 725.7h1.7v1.7h-1.7zM115.3 730.7h1.7v1.7h-1.7zM126.0 724.3h1.7v1.7h-1.7zM129.6 726.6h1.7v1.7h-1.7zM134.2 733.7h1.7v1.7h-1.7zM125.1 736.9h1.7v1.7h-1.7zM114.6 728.2h1.7v1.7h-1.7zM122.9 728.1h1.7v1.7h-1.7zM129.6 722.2h1.7v1.7h-1.7zM124.4 716.0h1.7v1.7h-1.7zM119.3 729.0h1.7v1.7h-1.7zM127.1 726.8h1.7v1.7h-1.7zM124.8 728.8h1.7v1.7h-1.7zM117.3 728.5h1.7v1.7h-1.7zM116.7 727.3h1.7v1.7h-1.7zM124.3 720.7h1.7v1.7h-1.7zM130.1 725.8h1.7v1.7h-1.7zM128.2 726.2h1.7v1.7h-1.7zM119.8 714.8h1.7v1.7h-1.7zM125.6 731.6h1.7v1.7h-1.7zM120.3 720.1h1.7v1.7h-1.7zM129.9 715.5h1.7v1.7h-1.7zM127.9 734.7h1.7v1.7h-1.7zM123.9 715.7h1.7v1.7h-1.7zM118.8 732.4h1.7v1.7h-1.7zM127.6 732.7h1.7v1.7h-1.7zM133.9 729.7h1.7v1.7h-1.7zM110.9 720.4h1.7v1.7h-1.7zM131.0 725.0h1.7v1.7h-1.7zM130.8 713.2h1.7v1.7h-1.7zM133.6 725.7h1.7v1.7h-1.7zM121.3 710.7h1.7v1.7h-1.7zM118.3 720.4h1.7v1.7h-1.7zM124.3 722.5h1.7v1.7h-1.7zM127.9 725.1h1.7v1.7h-1.7zM126.3 729.5h1.7v1.7h-1.7zM119.2 729.0h1.7v1.7h-1.7zM120.0 717.9h1.7v1.7h-1.7zM125.2 731.1h1.7v1.7h-1.7zM117.3 734.0h1.7v1.7h-1.7zM121.4 721.8h1.7v1.7h-1.7zM125.5 716.6h1.7v1.7h-1.7zM118.8 717.9h1.7v1.7h-1.7zM129.0 724.4h1.7v1.7h-1.7zM114.5 730.1h1.7v1.7h-1.7zM125.0 724.6h1.7v1.7h-1.7zM117.0 732.4h1.7v1.7h-1.7zM121.0 736.3h1.7v1.7h-1.7zM132.3 715.4h1.7v1.7h-1.7zM117.1 718.2h1.7v1.7h-1.7zM121.4 730.3h1.7v1.7h-1.7zM117.0 718.4h1.7v1.7h-1.7zM128.1 719.5h1.7v1.7h-1.7zM135.0 722.3h1.7v1.7h-1.7zM125.2 717.0h1.7v1.7h-1.7zM115.3 734.5h1.7v1.7h-1.7zM130.3 719.0h1.7v1.7h-1.7zM128.6 729.8h1.7v1.7h-1.7zM132.1 730.8h1.7v1.7h-1.7zM115.9 720.5h1.7v1.7h-1.7zM113.6 720.6h1.7v1.7h-1.7zM122.1 717.1h1.7v1.7h-1.7zM119.5 735.3h1.7v1.7h-1.7zM116.0 720.0h1.7v1.7h-1.7zM132.7 725.7h1.7v1.7h-1.7zM120.7 715.9h1.7v1.7h-1.7zM121.1 735.3h1.7v1.7h-1.7zM128.6 722.6h1.7v1.7h-1.7zM132.1 717.7h1.7v1.7h-1.7zM119.5 716.9h1.7v1.7h-1.7zM112.5 727.8h1.7v1.7h-1.7zM135.5 732.7h1.7v1.7h-1.7zM127.7 723.3h1.7v1.7h-1.7zM129.7 731.1h1.7v1.7h-1.7zM114.8 719.2h1.7v1.7h-1.7zM136.3 727.4h1.7v1.7h-1.7zM124.3 731.9h1.7v1.7h-1.7zM115.2 724.5h1.7v1.7h-1.7zM124.3 720.7h1.7v1.7h-1.7zM126.8 723.0h1.7v1.7h-1.7zM127.4 726.8h1.7v1.7h-1.7zM116.6 722.3h1.7v1.7h-1.7zM113.2 724.4h1.7v1.7h-1.7zM120.6 735.4h1.7v1.7h-1.7zM133.3 728.1h1.7v1.7h-1.7zM132.7 731.7h1.7v1.7h-1.7zM135.0 734.7h1.7v1.7h-1.7zM123.9 732.7h1.7v1.7h-1.7zM115.1 726.9h1.7v1.7h-1.7zM126.4 729.8h1.7v1.7h-1.7zM138.3 723.9h1.7v1.7h-1.7zM116.5 730.7h1.7v1.7h-1.7zM128.4 719.4h1.7v1.7h-1.7zM128.9 729.1h1.7v1.7h-1.7zM125.5 724.4h1.7v1.7h-1.7zM123.5 718.1h1.7v1.7h-1.7zM121.9 737.1h1.7v1.7h-1.7zM128.1 720.0h1.7v1.7h-1.7zM131.4 722.6h1.7v1.7h-1.7zM115.6 720.0h1.7v1.7h-1.7zM116.1 721.9h1.7v1.7h-1.7zM127.9 735.9h1.7v1.7h-1.7zM120.7 738.6h1.7v1.7h-1.7zM121.5 716.2h1.7v1.7h-1.7zM131.1 723.4h1.7v1.7h-1.7zM115.7 736.9h1.7v1.7h-1.7zM126.7 718.0h1.7v1.7h-1.7zM129.6 716.6h1.7v1.7h-1.7zM133.8 726.0h1.7v1.7h-1.7zM120.1 734.1h1.7v1.7h-1.7zM120.1 726.1h1.7v1.7h-1.7zM132.8 726.2h1.7v1.7h-1.7zM130.3 730.4h1.7v1.7h-1.7zM129.1 714.6h1.7v1.7h-1.7zM115.7 725.3h1.7v1.7h-1.7zM126.5 736.0h1.7v1.7h-1.7zM116.2 733.6h1.7v1.7h-1.7zM125.1 739.3h1.7v1.7h-1.7zM128.3 716.9h1.7v1.7h-1.7zM117.1 722.7h1.7v1.7h-1.7zM122.9 725.0h1.7v1.7h-1.7zM130.0 731.7h1.7v1.7h-1.7zM128.8 722.5h1.7v1.7h-1.7zM111.6 721.6h1.7v1.7h-1.7zM132.8 728.8h1.7v1.7h-1.7zM118.8 722.5h1.7v1.7h-1.7zM125.8 736.5h1.7v1.7h-1.7zM134.2 719.2h1.7v1.7h-1.7zM135.6 726.4h1.7v1.7h-1.7zM120.1 721.0h1.7v1.7h-1.7zM130.3 731.2h1.7v1.7h-1.7zM125.3 717.0h1.7v1.7h-1.7zM116.6 725.8h1.7v1.7h-1.7zM120.9 722.0h1.7v1.7h-1.7zM131.5 730.0h1.7v1.7h-1.7zM132.6 737.5h1.7v1.7h-1.7zM118.5 732.8h1.7v1.7h-1.7zM118.6 722.8h1.7v1.7h-1.7zM129.8 738.7h1.7v1.7h-1.7zM134.5 726.6h1.7v1.7h-1.7zM115.4 730.4h1.7v1.7h-1.7zM115.9 735.4h1.7v1.7h-1.7zM114.9 723.8h1.7v1.7h-1.7zM119.9 738.4h1.7v1.7h-1.7zM125.7 716.5h1.7v1.7h-1.7zM115.4 725.8h1.7v1.7h-1.7zM117.0 735.3h1.7v1.7h-1.7zM133.7 728.2h1.7v1.7h-1.7zM125.4 717.9h1.7v1.7h-1.7zM129.2 734.6h1.7v1.7h-1.7zM133.3 729.0h1.7v1.7h-1.7zM121.3 731.2h1.7v1.7h-1.7zM111.7 732.3h1.7v1.7h-1.7zM130.9 728.0h1.7v1.7h-1.7zM133.7 727.1h1.7v1.7h-1.7zM132.1 716.3h1.7v1.7h-1.7zM122.3 736.1h1.7v1.7h-1.7zM115.4 725.7h1.7v1.7h-1.7zM133.2 733.1h1.7v1.7h-1.7zM121.9 739.0h1.7v1.7h-1.7zM119.2 733.7h1.7v1.7h-1.7zM134.0 730.7h1.7v1.7h-1.7zM132.9 718.5h1.7v1.7h-1.7zM120.7 720.3h1.7v1.7h-1.7zM126.2 741.0h1.7v1.7h-1.7zM130.1 724.7h1.7v1.7h-1.7zM126.1 723.7h1.7v1.7h-1.7zM130.2 721.4h1.7v1.7h-1.7zM118.4 736.3h1.7v1.7h-1.7zM114.6 731.4h1.7v1.7h-1.7zM125.0 732.1h1.7v1.7h-1.7zM135.0 731.5h1.7v1.7h-1.7zM121.5 721.3h1.7v1.7h-1.7zM125.7 720.8h1.7v1.7h-1.7zM120.7 724.0h1.7v1.7h-1.7zM111.2 721.0h1.7v1.7h-1.7zM119.1 723.6h1.7v1.7h-1.7zM127.9 721.3h1.7v1.7h-1.7zM131.5 727.2h1.7v1.7h-1.7zM125.4 726.3h1.7v1.7h-1.7zM124.3 715.6h1.7v1.7h-1.7zM123.4 725.2h1.7v1.7h-1.7zM122.2 732.4h1.7v1.7h-1.7zM131.6 721.3h1.7v1.7h-1.7zM121.4 716.0h1.7v1.7h-1.7zM117.9 721.0h1.7v1.7h-1.7zM127.2 729.0h1.7v1.7h-1.7zM111.4 733.0h1.7v1.7h-1.7zM121.1 724.4h1.7v1.7h-1.7zM119.7 733.8h1.7v1.7h-1.7zM115.6 721.5h1.7v1.7h-1.7zM129.3 723.3h1.7v1.7h-1.7zM133.5 732.7h1.7v1.7h-1.7zM121.5 726.6h1.7v1.7h-1.7zM129.9 728.6h1.7v1.7h-1.7zM115.2 729.2h1.7v1.7h-1.7zM119.7 729.2h1.7v1.7h-1.7zM131.3 721.5h1.7v1.7h-1.7zM122.3 735.3h1.7v1.7h-1.7zM127.4 726.6h1.7v1.7h-1.7zM128.3 720.6h1.7v1.7h-1.7zM123.8 723.3h1.7v1.7h-1.7zM133.0 718.9h1.7v1.7h-1.7zM117.8 728.7h1.7v1.7h-1.7zM126.3 715.5h1.7v1.7h-1.7zM125.8 733.9h1.7v1.7h-1.7zM115.2 731.5h1.7v1.7h-1.7zM130.9 719.4h1.7v1.7h-1.7zM121.9 719.8h1.7v1.7h-1.7zM126.4 725.2h1.7v1.7h-1.7zM119.6 733.9h1.7v1.7h-1.7zM117.6 721.0h1.7v1.7h-1.7zM116.6 725.4h1.7v1.7h-1.7zM129.2 715.0h1.7v1.7h-1.7zM117.1 734.7h1.7v1.7h-1.7zM126.8 725.8h1.7v1.7h-1.7zM123.0 716.6h1.7v1.7h-1.7zM121.2 730.3h1.7v1.7h-1.7zM118.4 730.1h1.7v1.7h-1.7zM112.8 722.8h1.7v1.7h-1.7zM117.6 729.1h1.7v1.7h-1.7zM111.2 718.1h1.7v1.7h-1.7zM115.1 724.4h1.7v1.7h-1.7zM123.3 735.0h1.7v1.7h-1.7zM128.4 730.4h1.7v1.7h-1.7zM113.8 727.6h1.7v1.7h-1.7zM119.8 726.3h1.7v1.7h-1.7zM127.3 730.8h1.7v1.7h-1.7zM118.7 730.6h1.7v1.7h-1.7zM124.0 714.9h1.7v1.7h-1.7zM124.7 736.0h1.7v1.7h-1.7zM128.3 730.1h1.7v1.7h-1.7zM122.2 731.2h1.7v1.7h-1.7zM123.8 716.6h1.7v1.7h-1.7zM115.5 735.9h1.7v1.7h-1.7zM121.4 720.5h1.7v1.7h-1.7zM117.9 722.3h1.7v1.7h-1.7zM133.0 721.1h1.7v1.7h-1.7zM125.0 733.5h1.7v1.7h-1.7zM136.5 732.2h1.7v1.7h-1.7zM128.2 720.8h1.7v1.7h-1.7zM112.1 732.7h1.7v1.7h-1.7zM129.1 716.2h1.7v1.7h-1.7zM121.7 720.5h1.7v1.7h-1.7zM123.2 719.3h1.7v1.7h-1.7zM122.2 726.1h1.7v1.7h-1.7zM132.3 733.6h1.7v1.7h-1.7zM127.0 732.8h1.7v1.7h-1.7zM130.3 722.6h1.7v1.7h-1.7zM121.1 725.9h1.7v1.7h-1.7zM116.9 714.6h1.7v1.7h-1.7zM113.2 721.5h1.7v1.7h-1.7zM116.9 725.0h1.7v1.7h-1.7zM115.5 728.0h1.7v1.7h-1.7zM120.4 730.6h1.7v1.7h-1.7zM125.7 731.8h1.7v1.7h-1.7zM134.8 719.3h1.7v1.7h-1.7zM120.1 720.8h1.7v1.7h-1.7zM131.3 731.0h1.7v1.7h-1.7zM120.8 727.4h1.7v1.7h-1.7zM126.3 738.0h1.7v1.7h-1.7zM115.5 739.2h1.7v1.7h-1.7zM113.8 719.9h1.7v1.7h-1.7zM115.4 729.6h1.7v1.7h-1.7zM118.5 738.8h1.7v1.7h-1.7zM122.7 722.7h1.7v1.7h-1.7zM115.7 731.1h1.7v1.7h-1.7zM117.8 736.8h1.7v1.7h-1.7zM122.7 715.1h1.7v1.7h-1.7zM124.1 718.7h1.7v1.7h-1.7zM126.2 729.8h1.7v1.7h-1.7zM131.1 730.7h1.7v1.7h-1.7zM137.9 724.4h1.7v1.7h-1.7zM132.2 733.1h1.7v1.7h-1.7zM116.8 728.0h1.7v1.7h-1.7zM115.3 735.2h1.7v1.7h-1.7zM126.3 718.5h1.7v1.7h-1.7zM120.5 725.5h1.7v1.7h-1.7zM132.6 735.8h1.7v1.7h-1.7zM132.1 728.6h1.7v1.7h-1.7zM118.2 735.1h1.7v1.7h-1.7zM123.2 722.5h1.7v1.7h-1.7zM129.7 717.7h1.7v1.7h-1.7zM117.9 732.7h1.7v1.7h-1.7zM120.9 722.2h1.7v1.7h-1.7zM119.4 722.9h1.7v1.7h-1.7zM130.5 718.2h1.7v1.7h-1.7zM119.9 731.1h1.7v1.7h-1.7zM115.0 720.8h1.7v1.7h-1.7zM118.2 718.9h1.7v1.7h-1.7zM118.4 723.7h1.7v1.7h-1.7zM131.7 726.3h1.7v1.7h-1.7zM126.8 723.4h1.7v1.7h-1.7zM119.5 721.2h1.7v1.7h-1.7zM125.7 712.9h1.7v1.7h-1.7zM130.5 717.6h1.7v1.7h-1.7zM124.0 735.9h1.7v1.7h-1.7zM131.0 717.7h1.7v1.7h-1.7zM125.5 732.1h1.7v1.7h-1.7zM137.1 721.2h1.7v1.7h-1.7zM119.9 725.9h1.7v1.7h-1.7zM122.4 735.9h1.7v1.7h-1.7zM127.9 720.9h1.7v1.7h-1.7zM117.5 737.3h1.7v1.7h-1.7zM124.4 718.5h1.7v1.7h-1.7zM129.5 739.6h1.7v1.7h-1.7zM125.0 728.2h1.7v1.7h-1.7zM111.2 726.1h1.7v1.7h-1.7zM126.7 738.1h1.7v1.7h-1.7zM128.0 717.9h1.7v1.7h-1.7zM120.5 730.3h1.7v1.7h-1.7zM131.4 733.5h1.7v1.7h-1.7zM129.2 723.7h1.7v1.7h-1.7zM135.6 729.1h1.7v1.7h-1.7zM116.9 728.7h1.7v1.7h-1.7zM131.9 729.8h1.7v1.7h-1.7zM115.8 718.3h1.7v1.7h-1.7zM135.0 723.9h1.7v1.7h-1.7zM130.4 732.0h1.7v1.7h-1.7zM116.8 733.2h1.7v1.7h-1.7zM115.3 723.6h1.7v1.7h-1.7zM122.8 725.0h1.7v1.7h-1.7zM122.0 729.2h1.7v1.7h-1.7zM136.2 720.6h1.7v1.7h-1.7zM123.7 714.1h1.7v1.7h-1.7zM134.7 730.1h1.7v1.7h-1.7zM112.4 731.5h1.7v1.7h-1.7zM116.9 722.2h1.7v1.7h-1.7zM130.0 726.5h1.7v1.7h-1.7zM114.2 723.0h1.7v1.7h-1.7zM119.6 739.8h1.7v1.7h-1.7zM125.0 736.3h1.7v1.7h-1.7zM122.2 727.8h1.7v1.7h-1.7zM130.1 725.2h1.7v1.7h-1.7zM134.5 730.7h1.7v1.7h-1.7zM132.3 718.5h1.7v1.7h-1.7zM127.7 726.7h1.7v1.7h-1.7zM117.5 728.8h1.7v1.7h-1.7zM132.6 727.9h1.7v1.7h-1.7zM125.5 725.8h1.7v1.7h-1.7zM127.7 725.0h1.7v1.7h-1.7zM118.6 722.7h1.7v1.7h-1.7zM117.9 722.5h1.7v1.7h-1.7zM130.0 724.9h1.7v1.7h-1.7zM136.4 727.1h1.7v1.7h-1.7zM121.6 725.7h1.7v1.7h-1.7zM132.3 728.6h1.7v1.7h-1.7zM124.0 719.6h1.7v1.7h-1.7zM130.9 724.9h1.7v1.7h-1.7zM132.2 729.8h1.7v1.7h-1.7zM130.2 717.6h1.7v1.7h-1.7zM129.7 726.1h1.7v1.7h-1.7zM124.5 718.5h1.7v1.7h-1.7zM123.6 713.5h1.7v1.7h-1.7zM120.0 727.3h1.7v1.7h-1.7zM118.2 718.9h1.7v1.7h-1.7zM126.7 724.4h1.7v1.7h-1.7zM117.2 729.6h1.7v1.7h-1.7zM113.3 735.3h1.7v1.7h-1.7zM116.4 719.2h1.7v1.7h-1.7zM120.5 730.3h1.7v1.7h-1.7zM116.4 730.2h1.7v1.7h-1.7zM121.9 717.5h1.7v1.7h-1.7zM133.4 721.3h1.7v1.7h-1.7zM129.7 720.5h1.7v1.7h-1.7zM131.3 725.8h1.7v1.7h-1.7zM128.4 720.1h1.7v1.7h-1.7zM123.0 714.0h1.7v1.7h-1.7zM119.1 731.3h1.7v1.7h-1.7zM130.3 722.6h1.7v1.7h-1.7zM121.3 734.0h1.7v1.7h-1.7zM121.4 728.2h1.7v1.7h-1.7zM128.3 736.3h1.7v1.7h-1.7zM127.9 726.0h1.7v1.7h-1.7zM121.9 731.0h1.7v1.7h-1.7zM123.6 716.7h1.7v1.7h-1.7zM139.4 725.5h1.7v1.7h-1.7zM129.7 724.9h1.7v1.7h-1.7zM134.3 729.3h1.7v1.7h-1.7zM153.7 728.8h1.7v1.7h-1.7zM142.8 717.5h1.7v1.7h-1.7zM141.5 723.8h1.7v1.7h-1.7zM146.0 727.3h1.7v1.7h-1.7zM135.6 725.0h1.7v1.7h-1.7zM135.5 736.5h1.7v1.7h-1.7zM147.1 737.1h1.7v1.7h-1.7zM141.9 726.6h1.7v1.7h-1.7zM139.8 720.4h1.7v1.7h-1.7zM131.0 721.6h1.7v1.7h-1.7zM143.3 734.2h1.7v1.7h-1.7zM133.5 723.7h1.7v1.7h-1.7zM145.5 717.1h1.7v1.7h-1.7zM140.4 730.5h1.7v1.7h-1.7zM132.9 725.4h1.7v1.7h-1.7zM139.0 716.0h1.7v1.7h-1.7zM145.5 734.5h1.7v1.7h-1.7zM136.3 722.4h1.7v1.7h-1.7zM149.0 726.5h1.7v1.7h-1.7zM142.4 722.3h1.7v1.7h-1.7zM140.4 737.5h1.7v1.7h-1.7zM139.2 733.0h1.7v1.7h-1.7zM136.2 724.9h1.7v1.7h-1.7zM137.1 727.9h1.7v1.7h-1.7zM142.9 726.1h1.7v1.7h-1.7zM145.7 732.6h1.7v1.7h-1.7zM136.7 722.2h1.7v1.7h-1.7zM135.4 726.8h1.7v1.7h-1.7zM139.7 715.4h1.7v1.7h-1.7zM138.1 727.9h1.7v1.7h-1.7zM147.6 717.1h1.7v1.7h-1.7zM139.0 731.8h1.7v1.7h-1.7zM136.4 729.5h1.7v1.7h-1.7zM135.7 719.9h1.7v1.7h-1.7zM142.6 733.1h1.7v1.7h-1.7zM144.0 718.6h1.7v1.7h-1.7zM131.1 717.3h1.7v1.7h-1.7zM141.2 714.6h1.7v1.7h-1.7zM133.5 720.6h1.7v1.7h-1.7zM138.1 731.5h1.7v1.7h-1.7zM149.5 720.7h1.7v1.7h-1.7zM135.1 724.2h1.7v1.7h-1.7zM135.4 715.7h1.7v1.7h-1.7zM141.3 720.1h1.7v1.7h-1.7zM138.9 721.1h1.7v1.7h-1.7zM135.1 731.0h1.7v1.7h-1.7zM139.5 726.5h1.7v1.7h-1.7zM133.5 720.3h1.7v1.7h-1.7zM149.9 721.2h1.7v1.7h-1.7zM142.5 722.2h1.7v1.7h-1.7zM135.5 736.4h1.7v1.7h-1.7zM147.8 724.9h1.7v1.7h-1.7zM150.0 723.6h1.7v1.7h-1.7zM139.9 724.7h1.7v1.7h-1.7zM127.0 721.6h1.7v1.7h-1.7zM133.4 730.9h1.7v1.7h-1.7zM143.6 728.2h1.7v1.7h-1.7zM141.8 733.2h1.7v1.7h-1.7zM138.6 727.8h1.7v1.7h-1.7zM146.5 730.8h1.7v1.7h-1.7zM140.0 713.0h1.7v1.7h-1.7zM146.5 729.2h1.7v1.7h-1.7zM137.8 718.4h1.7v1.7h-1.7zM144.5 730.7h1.7v1.7h-1.7zM137.0 716.9h1.7v1.7h-1.7zM140.7 723.2h1.7v1.7h-1.7zM143.9 733.7h1.7v1.7h-1.7zM139.1 730.6h1.7v1.7h-1.7zM144.6 716.8h1.7v1.7h-1.7zM143.4 722.3h1.7v1.7h-1.7zM133.8 722.6h1.7v1.7h-1.7zM138.5 716.6h1.7v1.7h-1.7zM145.4 737.6h1.7v1.7h-1.7zM141.9 714.3h1.7v1.7h-1.7zM140.1 725.4h1.7v1.7h-1.7zM149.0 723.1h1.7v1.7h-1.7zM143.2 717.9h1.7v1.7h-1.7zM140.3 714.8h1.7v1.7h-1.7zM131.0 727.3h1.7v1.7h-1.7zM131.0 727.3h1.7v1.7h-1.7zM146.4 732.6h1.7v1.7h-1.7zM136.0 714.7h1.7v1.7h-1.7zM134.9 727.0h1.7v1.7h-1.7zM130.6 729.4h1.7v1.7h-1.7zM134.7 732.6h1.7v1.7h-1.7zM147.5 723.1h1.7v1.7h-1.7zM135.8 730.0h1.7v1.7h-1.7zM148.0 719.8h1.7v1.7h-1.7zM142.7 725.7h1.7v1.7h-1.7zM135.2 717.4h1.7v1.7h-1.7zM143.0 732.0h1.7v1.7h-1.7zM145.4 717.7h1.7v1.7h-1.7zM149.2 726.0h1.7v1.7h-1.7zM131.9 719.9h1.7v1.7h-1.7zM147.2 721.4h1.7v1.7h-1.7zM137.4 717.6h1.7v1.7h-1.7zM136.9 730.4h1.7v1.7h-1.7zM144.6 731.2h1.7v1.7h-1.7zM149.4 733.6h1.7v1.7h-1.7zM146.8 721.3h1.7v1.7h-1.7zM134.0 735.4h1.7v1.7h-1.7zM148.0 714.6h1.7v1.7h-1.7zM132.9 720.1h1.7v1.7h-1.7zM141.9 727.8h1.7v1.7h-1.7zM146.1 717.9h1.7v1.7h-1.7zM149.0 725.1h1.7v1.7h-1.7zM149.2 719.3h1.7v1.7h-1.7zM134.7 721.8h1.7v1.7h-1.7zM139.7 721.0h1.7v1.7h-1.7zM138.5 727.3h1.7v1.7h-1.7zM147.7 726.4h1.7v1.7h-1.7zM145.0 732.4h1.7v1.7h-1.7zM145.3 727.6h1.7v1.7h-1.7zM144.0 717.2h1.7v1.7h-1.7zM140.2 715.0h1.7v1.7h-1.7zM145.6 717.7h1.7v1.7h-1.7zM139.7 717.0h1.7v1.7h-1.7zM142.4 723.2h1.7v1.7h-1.7zM143.4 722.9h1.7v1.7h-1.7zM143.1 728.9h1.7v1.7h-1.7zM149.2 721.1h1.7v1.7h-1.7zM143.3 732.6h1.7v1.7h-1.7zM138.4 731.1h1.7v1.7h-1.7zM149.8 717.7h1.7v1.7h-1.7zM131.7 718.6h1.7v1.7h-1.7zM129.9 723.2h1.7v1.7h-1.7zM137.0 715.5h1.7v1.7h-1.7zM137.2 730.9h1.7v1.7h-1.7zM139.6 728.7h1.7v1.7h-1.7zM150.5 722.7h1.7v1.7h-1.7zM149.8 726.4h1.7v1.7h-1.7zM153.4 730.0h1.7v1.7h-1.7zM144.9 727.8h1.7v1.7h-1.7zM140.5 737.7h1.7v1.7h-1.7zM131.1 725.0h1.7v1.7h-1.7zM133.3 721.6h1.7v1.7h-1.7zM135.7 717.5h1.7v1.7h-1.7zM134.5 719.7h1.7v1.7h-1.7zM148.2 733.9h1.7v1.7h-1.7zM145.2 718.5h1.7v1.7h-1.7zM147.9 731.1h1.7v1.7h-1.7zM148.2 732.0h1.7v1.7h-1.7zM140.1 728.3h1.7v1.7h-1.7zM144.4 725.1h1.7v1.7h-1.7zM133.3 725.2h1.7v1.7h-1.7zM150.0 718.0h1.7v1.7h-1.7zM138.4 714.9h1.7v1.7h-1.7zM147.1 718.9h1.7v1.7h-1.7zM129.6 721.6h1.7v1.7h-1.7zM136.5 730.7h1.7v1.7h-1.7zM139.6 717.8h1.7v1.7h-1.7zM138.3 731.5h1.7v1.7h-1.7zM132.9 722.3h1.7v1.7h-1.7zM143.1 734.6h1.7v1.7h-1.7zM134.9 726.5h1.7v1.7h-1.7zM143.7 737.4h1.7v1.7h-1.7zM142.0 732.7h1.7v1.7h-1.7zM138.1 715.8h1.7v1.7h-1.7zM146.5 725.7h1.7v1.7h-1.7zM140.0 737.1h1.7v1.7h-1.7zM146.1 721.3h1.7v1.7h-1.7zM146.6 725.7h1.7v1.7h-1.7zM146.3 724.7h1.7v1.7h-1.7zM140.8 732.1h1.7v1.7h-1.7zM145.5 733.0h1.7v1.7h-1.7zM141.5 719.5h1.7v1.7h-1.7zM147.7 733.9h1.7v1.7h-1.7zM143.3 726.1h1.7v1.7h-1.7zM142.8 712.9h1.7v1.7h-1.7zM140.6 717.2h1.7v1.7h-1.7zM148.8 722.8h1.7v1.7h-1.7zM146.6 734.2h1.7v1.7h-1.7zM139.6 731.0h1.7v1.7h-1.7zM146.5 720.0h1.7v1.7h-1.7zM133.7 730.4h1.7v1.7h-1.7zM132.8 724.2h1.7v1.7h-1.7zM145.8 733.7h1.7v1.7h-1.7zM137.3 730.3h1.7v1.7h-1.7zM137.8 730.1h1.7v1.7h-1.7zM142.0 731.4h1.7v1.7h-1.7zM137.4 728.1h1.7v1.7h-1.7zM132.8 729.0h1.7v1.7h-1.7zM137.6 720.1h1.7v1.7h-1.7zM142.7 731.1h1.7v1.7h-1.7zM147.7 732.0h1.7v1.7h-1.7zM138.6 724.2h1.7v1.7h-1.7zM125.8 726.3h1.7v1.7h-1.7zM151.2 725.3h1.7v1.7h-1.7zM144.4 735.4h1.7v1.7h-1.7zM137.5 723.2h1.7v1.7h-1.7zM140.6 726.9h1.7v1.7h-1.7zM142.6 724.3h1.7v1.7h-1.7zM139.7 737.8h1.7v1.7h-1.7zM142.4 717.3h1.7v1.7h-1.7zM142.3 729.5h1.7v1.7h-1.7zM136.4 731.3h1.7v1.7h-1.7zM134.3 729.2h1.7v1.7h-1.7zM139.8 730.4h1.7v1.7h-1.7zM143.8 716.8h1.7v1.7h-1.7zM145.0 720.4h1.7v1.7h-1.7zM142.6 733.6h1.7v1.7h-1.7zM145.7 715.2h1.7v1.7h-1.7zM139.5 730.6h1.7v1.7h-1.7zM141.0 732.4h1.7v1.7h-1.7zM129.8 718.1h1.7v1.7h-1.7zM144.2 732.4h1.7v1.7h-1.7zM147.2 721.6h1.7v1.7h-1.7zM142.7 721.5h1.7v1.7h-1.7zM143.3 734.1h1.7v1.7h-1.7zM135.9 718.6h1.7v1.7h-1.7zM141.9 734.1h1.7v1.7h-1.7zM142.3 728.9h1.7v1.7h-1.7zM141.2 712.9h1.7v1.7h-1.7zM140.1 736.2h1.7v1.7h-1.7zM150.2 727.8h1.7v1.7h-1.7zM151.6 729.0h1.7v1.7h-1.7zM149.3 728.2h1.7v1.7h-1.7zM132.7 723.1h1.7v1.7h-1.7zM139.1 728.1h1.7v1.7h-1.7zM142.0 720.4h1.7v1.7h-1.7zM148.0 733.1h1.7v1.7h-1.7zM135.2 716.0h1.7v1.7h-1.7zM132.8 722.5h1.7v1.7h-1.7zM137.3 729.8h1.7v1.7h-1.7zM141.0 733.3h1.7v1.7h-1.7zM140.1 726.3h1.7v1.7h-1.7zM133.1 725.3h1.7v1.7h-1.7zM144.7 722.4h1.7v1.7h-1.7zM137.5 716.2h1.7v1.7h-1.7zM145.0 723.5h1.7v1.7h-1.7zM135.3 723.0h1.7v1.7h-1.7zM136.3 731.8h1.7v1.7h-1.7zM136.5 727.1h1.7v1.7h-1.7zM140.0 736.0h1.7v1.7h-1.7zM144.1 720.8h1.7v1.7h-1.7zM146.5 716.1h1.7v1.7h-1.7zM148.8 723.6h1.7v1.7h-1.7zM141.6 721.2h1.7v1.7h-1.7zM134.9 723.8h1.7v1.7h-1.7zM141.3 725.9h1.7v1.7h-1.7zM132.2 727.9h1.7v1.7h-1.7zM146.0 718.4h1.7v1.7h-1.7zM132.7 727.8h1.7v1.7h-1.7zM142.5 733.1h1.7v1.7h-1.7zM133.0 715.6h1.7v1.7h-1.7zM136.2 716.3h1.7v1.7h-1.7zM143.1 735.1h1.7v1.7h-1.7zM137.4 733.2h1.7v1.7h-1.7zM139.6 715.3h1.7v1.7h-1.7zM133.9 732.1h1.7v1.7h-1.7zM144.7 727.0h1.7v1.7h-1.7zM131.6 726.9h1.7v1.7h-1.7zM146.0 731.5h1.7v1.7h-1.7zM147.7 716.8h1.7v1.7h-1.7zM133.8 721.0h1.7v1.7h-1.7zM145.7 726.6h1.7v1.7h-1.7zM134.8 728.5h1.7v1.7h-1.7zM130.0 730.5h1.7v1.7h-1.7zM134.9 724.8h1.7v1.7h-1.7zM132.3 714.9h1.7v1.7h-1.7zM137.8 733.0h1.7v1.7h-1.7zM131.0 731.0h1.7v1.7h-1.7zM136.4 733.3h1.7v1.7h-1.7zM149.1 726.1h1.7v1.7h-1.7zM141.3 724.4h1.7v1.7h-1.7zM136.7 731.5h1.7v1.7h-1.7zM135.3 721.8h1.7v1.7h-1.7zM133.4 731.2h1.7v1.7h-1.7zM135.7 729.8h1.7v1.7h-1.7zM137.2 718.5h1.7v1.7h-1.7zM139.1 714.7h1.7v1.7h-1.7zM144.0 733.0h1.7v1.7h-1.7zM150.3 734.3h1.7v1.7h-1.7zM147.0 720.2h1.7v1.7h-1.7zM145.4 730.5h1.7v1.7h-1.7zM136.4 732.7h1.7v1.7h-1.7zM139.2 715.4h1.7v1.7h-1.7zM137.1 726.8h1.7v1.7h-1.7zM149.8 722.9h1.7v1.7h-1.7zM150.4 723.2h1.7v1.7h-1.7zM135.6 727.0h1.7v1.7h-1.7zM132.7 730.2h1.7v1.7h-1.7zM132.6 729.9h1.7v1.7h-1.7zM145.7 720.4h1.7v1.7h-1.7zM144.8 728.1h1.7v1.7h-1.7zM142.9 732.2h1.7v1.7h-1.7zM143.7 713.8h1.7v1.7h-1.7zM136.4 716.0h1.7v1.7h-1.7zM140.7 731.2h1.7v1.7h-1.7zM145.4 713.5h1.7v1.7h-1.7zM147.8 719.0h1.7v1.7h-1.7zM135.8 727.3h1.7v1.7h-1.7zM133.9 718.9h1.7v1.7h-1.7zM137.4 731.8h1.7v1.7h-1.7zM144.3 722.9h1.7v1.7h-1.7zM147.1 724.6h1.7v1.7h-1.7zM136.4 734.9h1.7v1.7h-1.7zM148.9 727.6h1.7v1.7h-1.7zM131.7 727.8h1.7v1.7h-1.7zM132.7 734.5h1.7v1.7h-1.7zM133.4 724.3h1.7v1.7h-1.7zM147.8 734.0h1.7v1.7h-1.7zM136.5 734.7h1.7v1.7h-1.7zM134.6 733.4h1.7v1.7h-1.7zM134.1 718.8h1.7v1.7h-1.7zM137.3 717.5h1.7v1.7h-1.7zM141.0 714.9h1.7v1.7h-1.7zM134.0 730.5h1.7v1.7h-1.7zM135.1 728.9h1.7v1.7h-1.7zM136.8 723.2h1.7v1.7h-1.7zM143.4 712.6h1.7v1.7h-1.7zM150.5 731.4h1.7v1.7h-1.7zM149.5 719.8h1.7v1.7h-1.7zM137.7 723.1h1.7v1.7h-1.7zM146.9 716.7h1.7v1.7h-1.7zM145.2 726.9h1.7v1.7h-1.7zM139.8 736.8h1.7v1.7h-1.7zM143.9 730.6h1.7v1.7h-1.7zM134.0 727.4h1.7v1.7h-1.7zM134.5 714.7h1.7v1.7h-1.7zM146.8 726.6h1.7v1.7h-1.7zM136.8 720.0h1.7v1.7h-1.7zM145.9 723.3h1.7v1.7h-1.7zM143.2 731.9h1.7v1.7h-1.7zM139.6 732.4h1.7v1.7h-1.7zM137.8 718.3h1.7v1.7h-1.7zM146.4 716.9h1.7v1.7h-1.7zM142.2 727.9h1.7v1.7h-1.7zM133.1 721.0h1.7v1.7h-1.7zM137.4 726.0h1.7v1.7h-1.7zM145.1 724.2h1.7v1.7h-1.7zM134.7 731.7h1.7v1.7h-1.7zM145.5 730.3h1.7v1.7h-1.7zM139.3 719.9h1.7v1.7h-1.7zM129.2 716.3h1.7v1.7h-1.7zM132.9 724.4h1.7v1.7h-1.7zM151.3 721.6h1.7v1.7h-1.7zM138.8 726.2h1.7v1.7h-1.7zM138.7 712.9h1.7v1.7h-1.7zM140.5 723.7h1.7v1.7h-1.7zM141.7 731.1h1.7v1.7h-1.7zM135.4 728.7h1.7v1.7h-1.7zM142.2 717.2h1.7v1.7h-1.7zM129.2 727.6h1.7v1.7h-1.7zM145.7 732.4h1.7v1.7h-1.7zM138.6 716.9h1.7v1.7h-1.7zM132.3 723.6h1.7v1.7h-1.7zM145.2 734.5h1.7v1.7h-1.7zM150.7 726.2h1.7v1.7h-1.7zM148.7 726.4h1.7v1.7h-1.7zM138.4 730.7h1.7v1.7h-1.7zM148.0 733.9h1.7v1.7h-1.7zM139.4 729.8h1.7v1.7h-1.7zM148.1 727.0h1.7v1.7h-1.7zM144.0 714.3h1.7v1.7h-1.7zM133.5 718.1h1.7v1.7h-1.7zM132.4 719.4h1.7v1.7h-1.7zM127.9 741.1h1.7v1.7h-1.7zM141.8 737.9h1.7v1.7h-1.7zM120.6 743.2h1.7v1.7h-1.7zM124.0 745.6h1.7v1.7h-1.7zM130.6 731.4h1.7v1.7h-1.7zM137.1 744.2h1.7v1.7h-1.7zM123.7 738.4h1.7v1.7h-1.7zM130.6 744.6h1.7v1.7h-1.7zM133.5 742.0h1.7v1.7h-1.7zM124.3 736.1h1.7v1.7h-1.7zM133.2 744.3h1.7v1.7h-1.7zM138.2 745.8h1.7v1.7h-1.7zM129.8 749.8h1.7v1.7h-1.7zM148.1 744.1h1.7v1.7h-1.7zM127.8 740.9h1.7v1.7h-1.7zM136.8 751.0h1.7v1.7h-1.7zM133.4 746.6h1.7v1.7h-1.7zM130.0 733.3h1.7v1.7h-1.7zM129.6 743.1h1.7v1.7h-1.7zM136.7 737.5h1.7v1.7h-1.7zM124.7 742.9h1.7v1.7h-1.7zM132.4 746.4h1.7v1.7h-1.7zM122.4 743.1h1.7v1.7h-1.7zM140.3 745.7h1.7v1.7h-1.7zM122.5 746.3h1.7v1.7h-1.7zM142.5 745.0h1.7v1.7h-1.7zM137.8 748.4h1.7v1.7h-1.7zM141.2 748.8h1.7v1.7h-1.7zM136.0 737.9h1.7v1.7h-1.7zM139.9 739.2h1.7v1.7h-1.7zM133.7 750.4h1.7v1.7h-1.7zM138.5 748.4h1.7v1.7h-1.7zM133.3 738.4h1.7v1.7h-1.7zM122.5 742.4h1.7v1.7h-1.7zM130.7 735.3h1.7v1.7h-1.7zM126.2 748.2h1.7v1.7h-1.7zM117.1 748.0h1.7v1.7h-1.7zM128.7 739.3h1.7v1.7h-1.7zM128.8 747.1h1.7v1.7h-1.7zM126.1 736.8h1.7v1.7h-1.7zM126.9 744.2h1.7v1.7h-1.7zM132.4 751.4h1.7v1.7h-1.7zM142.5 733.3h1.7v1.7h-1.7zM126.9 735.5h1.7v1.7h-1.7zM138.2 742.2h1.7v1.7h-1.7zM132.2 736.3h1.7v1.7h-1.7zM138.9 742.3h1.7v1.7h-1.7zM126.7 744.2h1.7v1.7h-1.7zM139.0 737.2h1.7v1.7h-1.7zM131.5 741.9h1.7v1.7h-1.7zM127.3 743.8h1.7v1.7h-1.7zM143.9 747.6h1.7v1.7h-1.7zM138.8 749.9h1.7v1.7h-1.7zM140.1 741.8h1.7v1.7h-1.7zM132.9 739.7h1.7v1.7h-1.7zM129.1 744.7h1.7v1.7h-1.7zM123.7 745.1h1.7v1.7h-1.7zM132.3 736.0h1.7v1.7h-1.7zM125.6 752.4h1.7v1.7h-1.7zM139.1 743.0h1.7v1.7h-1.7zM134.1 753.8h1.7v1.7h-1.7zM135.0 741.1h1.7v1.7h-1.7zM120.6 736.0h1.7v1.7h-1.7zM135.1 746.3h1.7v1.7h-1.7zM140.2 740.5h1.7v1.7h-1.7zM142.5 737.2h1.7v1.7h-1.7zM143.8 737.2h1.7v1.7h-1.7zM127.2 748.2h1.7v1.7h-1.7zM136.9 754.5h1.7v1.7h-1.7zM126.6 743.5h1.7v1.7h-1.7zM133.6 737.5h1.7v1.7h-1.7zM136.1 737.0h1.7v1.7h-1.7zM140.5 742.8h1.7v1.7h-1.7zM127.9 746.0h1.7v1.7h-1.7zM120.7 737.0h1.7v1.7h-1.7zM132.1 738.2h1.7v1.7h-1.7zM134.5 738.6h1.7v1.7h-1.7zM132.6 738.4h1.7v1.7h-1.7zM134.8 739.8h1.7v1.7h-1.7zM123.2 740.2h1.7v1.7h-1.7zM131.6 742.6h1.7v1.7h-1.7zM130.6 738.2h1.7v1.7h-1.7zM129.0 734.4h1.7v1.7h-1.7zM136.2 741.8h1.7v1.7h-1.7zM138.6 739.9h1.7v1.7h-1.7zM145.0 737.2h1.7v1.7h-1.7zM134.0 737.8h1.7v1.7h-1.7zM131.2 742.1h1.7v1.7h-1.7zM141.0 748.3h1.7v1.7h-1.7zM145.5 740.8h1.7v1.7h-1.7zM130.9 745.4h1.7v1.7h-1.7zM124.4 745.1h1.7v1.7h-1.7zM133.6 738.8h1.7v1.7h-1.7zM139.1 749.5h1.7v1.7h-1.7zM138.6 735.6h1.7v1.7h-1.7zM137.3 738.6h1.7v1.7h-1.7zM130.8 744.8h1.7v1.7h-1.7zM131.2 730.3h1.7v1.7h-1.7zM123.4 736.4h1.7v1.7h-1.7zM147.1 738.7h1.7v1.7h-1.7zM131.3 731.9h1.7v1.7h-1.7zM141.1 752.6h1.7v1.7h-1.7zM122.1 744.1h1.7v1.7h-1.7zM131.0 743.2h1.7v1.7h-1.7zM131.7 751.8h1.7v1.7h-1.7zM130.0 740.5h1.7v1.7h-1.7zM133.1 753.4h1.7v1.7h-1.7zM119.8 742.2h1.7v1.7h-1.7zM139.9 750.5h1.7v1.7h-1.7zM134.9 735.3h1.7v1.7h-1.7zM140.3 745.8h1.7v1.7h-1.7zM133.2 748.2h1.7v1.7h-1.7zM141.1 742.3h1.7v1.7h-1.7zM133.1 749.8h1.7v1.7h-1.7zM135.5 734.7h1.7v1.7h-1.7zM141.3 745.1h1.7v1.7h-1.7zM127.4 749.3h1.7v1.7h-1.7zM142.0 736.0h1.7v1.7h-1.7zM141.8 747.3h1.7v1.7h-1.7zM143.0 745.5h1.7v1.7h-1.7zM129.6 737.0h1.7v1.7h-1.7zM130.2 736.4h1.7v1.7h-1.7zM142.6 738.7h1.7v1.7h-1.7zM133.2 746.1h1.7v1.7h-1.7zM122.9 734.7h1.7v1.7h-1.7zM139.3 734.3h1.7v1.7h-1.7zM134.4 742.6h1.7v1.7h-1.7zM126.5 739.9h1.7v1.7h-1.7zM138.6 743.1h1.7v1.7h-1.7zM134.6 750.0h1.7v1.7h-1.7zM116.7 742.7h1.7v1.7h-1.7zM126.5 743.4h1.7v1.7h-1.7zM140.5 736.5h1.7v1.7h-1.7zM121.4 740.3h1.7v1.7h-1.7zM136.7 741.3h1.7v1.7h-1.7zM131.6 747.0h1.7v1.7h-1.7zM125.4 741.0h1.7v1.7h-1.7zM126.1 734.3h1.7v1.7h-1.7zM123.5 739.2h1.7v1.7h-1.7zM136.3 744.1h1.7v1.7h-1.7zM134.3 749.9h1.7v1.7h-1.7zM122.5 746.1h1.7v1.7h-1.7zM126.2 742.9h1.7v1.7h-1.7zM128.1 751.3h1.7v1.7h-1.7zM124.2 746.6h1.7v1.7h-1.7zM127.2 740.0h1.7v1.7h-1.7zM129.6 734.9h1.7v1.7h-1.7zM130.3 743.8h1.7v1.7h-1.7zM124.3 736.2h1.7v1.7h-1.7zM137.2 738.3h1.7v1.7h-1.7zM125.5 745.7h1.7v1.7h-1.7zM126.1 743.1h1.7v1.7h-1.7zM130.4 743.5h1.7v1.7h-1.7zM124.6 746.4h1.7v1.7h-1.7zM126.5 739.5h1.7v1.7h-1.7zM130.5 749.0h1.7v1.7h-1.7zM144.6 743.2h1.7v1.7h-1.7zM140.3 749.2h1.7v1.7h-1.7zM128.8 737.7h1.7v1.7h-1.7zM133.2 735.1h1.7v1.7h-1.7zM138.8 737.7h1.7v1.7h-1.7zM122.8 738.1h1.7v1.7h-1.7zM130.4 751.0h1.7v1.7h-1.7zM132.7 745.5h1.7v1.7h-1.7zM145.0 744.3h1.7v1.7h-1.7zM124.4 736.6h1.7v1.7h-1.7zM135.5 731.8h1.7v1.7h-1.7zM131.1 746.0h1.7v1.7h-1.7zM140.9 743.0h1.7v1.7h-1.7zM145.9 740.7h1.7v1.7h-1.7zM136.6 744.2h1.7v1.7h-1.7zM130.6 746.6h1.7v1.7h-1.7zM144.2 745.1h1.7v1.7h-1.7zM133.3 733.5h1.7v1.7h-1.7zM131.5 735.5h1.7v1.7h-1.7zM135.4 749.7h1.7v1.7h-1.7zM130.8 746.7h1.7v1.7h-1.7zM134.7 737.2h1.7v1.7h-1.7zM129.8 732.7h1.7v1.7h-1.7zM127.1 744.9h1.7v1.7h-1.7zM136.0 737.5h1.7v1.7h-1.7zM129.8 743.8h1.7v1.7h-1.7zM141.7 746.4h1.7v1.7h-1.7zM129.5 747.4h1.7v1.7h-1.7zM127.6 733.9h1.7v1.7h-1.7zM136.4 743.4h1.7v1.7h-1.7zM145.8 742.3h1.7v1.7h-1.7zM132.0 748.5h1.7v1.7h-1.7zM135.0 745.1h1.7v1.7h-1.7zM130.3 751.4h1.7v1.7h-1.7zM127.4 738.7h1.7v1.7h-1.7zM133.4 746.1h1.7v1.7h-1.7zM127.6 733.9h1.7v1.7h-1.7zM141.9 737.9h1.7v1.7h-1.7zM127.4 736.2h1.7v1.7h-1.7zM139.6 745.4h1.7v1.7h-1.7zM134.2 732.9h1.7v1.7h-1.7zM143.1 743.4h1.7v1.7h-1.7zM139.8 735.1h1.7v1.7h-1.7zM143.6 751.0h1.7v1.7h-1.7zM146.6 740.9h1.7v1.7h-1.7zM137.3 752.0h1.7v1.7h-1.7zM123.4 748.2h1.7v1.7h-1.7zM128.6 742.7h1.7v1.7h-1.7zM134.8 731.2h1.7v1.7h-1.7zM136.1 744.0h1.7v1.7h-1.7zM125.2 740.7h1.7v1.7h-1.7zM133.3 728.2h1.7v1.7h-1.7zM127.2 739.5h1.7v1.7h-1.7zM132.5 738.8h1.7v1.7h-1.7zM131.3 743.0h1.7v1.7h-1.7zM138.0 743.1h1.7v1.7h-1.7zM136.7 729.5h1.7v1.7h-1.7zM127.5 737.5h1.7v1.7h-1.7zM132.5 730.1h1.7v1.7h-1.7zM136.5 739.1h1.7v1.7h-1.7zM143.4 743.5h1.7v1.7h-1.7zM145.3 747.1h1.7v1.7h-1.7zM126.9 738.2h1.7v1.7h-1.7zM127.0 748.8h1.7v1.7h-1.7zM136.3 751.7h1.7v1.7h-1.7zM140.7 737.6h1.7v1.7h-1.7zM133.1 745.4h1.7v1.7h-1.7zM140.1 741.7h1.7v1.7h-1.7zM118.5 743.3h1.7v1.7h-1.7zM131.6 739.7h1.7v1.7h-1.7zM141.4 743.0h1.7v1.7h-1.7zM127.9 741.0h1.7v1.7h-1.7zM126.4 737.8h1.7v1.7h-1.7zM126.1 742.3h1.7v1.7h-1.7zM127.0 744.1h1.7v1.7h-1.7zM132.1 748.1h1.7v1.7h-1.7zM135.4 743.5h1.7v1.7h-1.7zM146.3 745.1h1.7v1.7h-1.7zM137.7 738.0h1.7v1.7h-1.7zM134.6 740.5h1.7v1.7h-1.7zM130.8 748.7h1.7v1.7h-1.7zM131.5 749.1h1.7v1.7h-1.7zM134.6 731.1h1.7v1.7h-1.7zM136.8 742.5h1.7v1.7h-1.7zM140.9 738.9h1.7v1.7h-1.7zM135.9 734.0h1.7v1.7h-1.7zM130.0 742.0h1.7v1.7h-1.7zM134.8 735.2h1.7v1.7h-1.7zM129.0 748.9h1.7v1.7h-1.7zM136.6 748.5h1.7v1.7h-1.7zM141.3 745.9h1.7v1.7h-1.7zM137.9 742.4h1.7v1.7h-1.7zM130.8 733.6h1.7v1.7h-1.7zM125.2 745.1h1.7v1.7h-1.7zM131.9 731.2h1.7v1.7h-1.7zM135.3 751.5h1.7v1.7h-1.7zM128.3 734.2h1.7v1.7h-1.7zM138.0 744.9h1.7v1.7h-1.7zM135.8 742.4h1.7v1.7h-1.7zM127.5 735.4h1.7v1.7h-1.7zM123.9 736.8h1.7v1.7h-1.7zM137.2 741.1h1.7v1.7h-1.7zM137.7 748.5h1.7v1.7h-1.7zM131.0 749.8h1.7v1.7h-1.7zM141.0 736.7h1.7v1.7h-1.7zM127.0 737.2h1.7v1.7h-1.7zM131.4 746.1h1.7v1.7h-1.7zM138.0 746.2h1.7v1.7h-1.7zM141.7 738.8h1.7v1.7h-1.7zM140.9 750.1h1.7v1.7h-1.7zM144.8 742.1h1.7v1.7h-1.7zM132.3 736.8h1.7v1.7h-1.7zM141.0 748.9h1.7v1.7h-1.7zM121.7 745.2h1.7v1.7h-1.7zM138.1 742.3h1.7v1.7h-1.7zM123.6 735.7h1.7v1.7h-1.7zM129.2 744.6h1.7v1.7h-1.7zM142.5 742.0h1.7v1.7h-1.7zM141.7 739.5h1.7v1.7h-1.7zM121.9 748.0h1.7v1.7h-1.7zM127.4 743.9h1.7v1.7h-1.7zM147.5 744.0h1.7v1.7h-1.7zM127.2 743.5h1.7v1.7h-1.7zM122.3 741.6h1.7v1.7h-1.7zM141.9 749.9h1.7v1.7h-1.7zM133.5 729.4h1.7v1.7h-1.7zM138.9 743.2h1.7v1.7h-1.7zM134.4 739.7h1.7v1.7h-1.7zM133.5 732.0h1.7v1.7h-1.7zM132.2 738.3h1.7v1.7h-1.7zM134.0 745.6h1.7v1.7h-1.7zM123.4 734.0h1.7v1.7h-1.7zM136.6 745.6h1.7v1.7h-1.7zM132.5 735.9h1.7v1.7h-1.7zM125.6 743.1h1.7v1.7h-1.7zM140.7 741.7h1.7v1.7h-1.7zM146.4 743.3h1.7v1.7h-1.7zM139.9 741.2h1.7v1.7h-1.7zM143.8 749.6h1.7v1.7h-1.7zM143.8 736.4h1.7v1.7h-1.7zM142.5 750.4h1.7v1.7h-1.7zM127.8 740.4h1.7v1.7h-1.7zM133.4 735.6h1.7v1.7h-1.7zM145.5 748.4h1.7v1.7h-1.7zM129.1 744.3h1.7v1.7h-1.7zM141.0 745.4h1.7v1.7h-1.7zM119.7 741.5h1.7v1.7h-1.7zM127.7 741.6h1.7v1.7h-1.7zM136.2 748.4h1.7v1.7h-1.7zM135.0 745.6h1.7v1.7h-1.7zM135.9 741.6h1.7v1.7h-1.7zM150.2 741.1h1.7v1.7h-1.7zM124.3 744.9h1.7v1.7h-1.7zM123.9 742.1h1.7v1.7h-1.7zM133.0 746.6h1.7v1.7h-1.7zM131.9 743.2h1.7v1.7h-1.7zM137.6 740.1h1.7v1.7h-1.7zM127.1 747.4h1.7v1.7h-1.7zM134.4 740.6h1.7v1.7h-1.7zM137.7 744.1h1.7v1.7h-1.7zM142.3 743.3h1.7v1.7h-1.7zM122.8 746.9h1.7v1.7h-1.7zM131.9 737.3h1.7v1.7h-1.7zM140.7 738.8h1.7v1.7h-1.7zM127.5 743.3h1.7v1.7h-1.7zM143.4 735.9h1.7v1.7h-1.7zM129.0 749.2h1.7v1.7h-1.7zM135.0 733.4h1.7v1.7h-1.7zM142.3 741.2h1.7v1.7h-1.7zM131.2 738.9h1.7v1.7h-1.7zM132.5 745.4h1.7v1.7h-1.7zM123.1 739.9h1.7v1.7h-1.7zM124.4 737.9h1.7v1.7h-1.7zM138.3 750.0h1.7v1.7h-1.7zM143.6 746.0h1.7v1.7h-1.7zM128.1 744.8h1.7v1.7h-1.7zM122.6 742.7h1.7v1.7h-1.7zM136.5 735.0h1.7v1.7h-1.7zM138.9 748.6h1.7v1.7h-1.7zM127.7 736.5h1.7v1.7h-1.7zM138.8 741.4h1.7v1.7h-1.7zM133.3 745.1h1.7v1.7h-1.7zM124.6 735.2h1.7v1.7h-1.7zM127.6 736.4h1.7v1.7h-1.7zM128.0 738.1h1.7v1.7h-1.7zM134.9 735.4h1.7v1.7h-1.7zM126.5 748.4h1.7v1.7h-1.7zM126.1 737.5h1.7v1.7h-1.7zM131.5 753.9h1.7v1.7h-1.7zM139.8 742.0h1.7v1.7h-1.7zM126.8 734.4h1.7v1.7h-1.7zM137.8 735.9h1.7v1.7h-1.7zM122.3 742.8h1.7v1.7h-1.7zM125.7 752.8h1.7v1.7h-1.7zM130.4 750.4h1.7v1.7h-1.7zM142.8 746.0h1.7v1.7h-1.7zM136.3 738.1h1.7v1.7h-1.7zM128.5 740.6h1.7v1.7h-1.7zM124.7 741.7h1.7v1.7h-1.7zM122.3 743.3h1.7v1.7h-1.7zM122.2 746.3h1.7v1.7h-1.7zM136.4 735.3h1.7v1.7h-1.7zM131.2 732.2h1.7v1.7h-1.7zM133.5 752.0h1.7v1.7h-1.7zM142.3 743.4h1.7v1.7h-1.7zM129.4 736.5h1.7v1.7h-1.7zM138.6 748.2h1.7v1.7h-1.7zM134.8 740.7h1.7v1.7h-1.7zM133.7 746.2h1.7v1.7h-1.7zM123.7 746.0h1.7v1.7h-1.7zM135.0 748.8h1.7v1.7h-1.7zM122.6 742.0h1.7v1.7h-1.7zM126.8 746.2h1.7v1.7h-1.7zM133.1 739.8h1.7v1.7h-1.7zM126.8 751.6h1.7v1.7h-1.7zM132.2 746.8h1.7v1.7h-1.7zM130.1 749.3h1.7v1.7h-1.7zM121.5 740.6h1.7v1.7h-1.7zM143.0 740.2h1.7v1.7h-1.7zM131.8 735.5h1.7v1.7h-1.7zM134.1 744.2h1.7v1.7h-1.7zM133.7 741.5h1.7v1.7h-1.7zM140.1 739.1h1.7v1.7h-1.7zM139.4 732.6h1.7v1.7h-1.7zM125.9 749.8h1.7v1.7h-1.7zM131.3 753.4h1.7v1.7h-1.7zM135.6 748.7h1.7v1.7h-1.7zM126.1 750.9h1.7v1.7h-1.7zM135.4 752.9h1.7v1.7h-1.7zM142.8 757.8h1.7v1.7h-1.7zM123.5 750.3h1.7v1.7h-1.7zM144.0 751.1h1.7v1.7h-1.7zM140.4 754.2h1.7v1.7h-1.7zM132.9 756.5h1.7v1.7h-1.7zM135.9 745.6h1.7v1.7h-1.7zM127.6 752.7h1.7v1.7h-1.7zM133.8 753.2h1.7v1.7h-1.7zM127.2 751.2h1.7v1.7h-1.7zM140.3 748.4h1.7v1.7h-1.7zM131.4 755.5h1.7v1.7h-1.7zM128.9 753.4h1.7v1.7h-1.7zM129.6 747.5h1.7v1.7h-1.7zM135.5 745.6h1.7v1.7h-1.7zM137.1 757.9h1.7v1.7h-1.7zM137.4 750.3h1.7v1.7h-1.7zM140.7 747.9h1.7v1.7h-1.7zM137.9 757.8h1.7v1.7h-1.7zM135.5 744.5h1.7v1.7h-1.7zM138.1 755.7h1.7v1.7h-1.7zM134.2 751.4h1.7v1.7h-1.7zM141.9 751.4h1.7v1.7h-1.7zM138.5 744.7h1.7v1.7h-1.7zM136.3 752.8h1.7v1.7h-1.7zM127.5 758.0h1.7v1.7h-1.7zM145.4 753.5h1.7v1.7h-1.7zM126.8 753.3h1.7v1.7h-1.7zM132.9 750.8h1.7v1.7h-1.7zM136.4 754.8h1.7v1.7h-1.7zM128.3 752.0h1.7v1.7h-1.7zM139.6 756.7h1.7v1.7h-1.7zM129.3 751.1h1.7v1.7h-1.7zM138.1 755.0h1.7v1.7h-1.7zM131.9 749.9h1.7v1.7h-1.7zM136.0 750.6h1.7v1.7h-1.7zM122.4 752.2h1.7v1.7h-1.7zM130.5 757.1h1.7v1.7h-1.7zM132.3 745.8h1.7v1.7h-1.7zM134.5 757.0h1.7v1.7h-1.7zM150.3 749.0h1.7v1.7h-1.7zM137.9 757.8h1.7v1.7h-1.7zM137.9 751.4h1.7v1.7h-1.7zM137.0 748.6h1.7v1.7h-1.7zM139.2 754.3h1.7v1.7h-1.7zM135.8 747.0h1.7v1.7h-1.7zM138.3 756.5h1.7v1.7h-1.7zM128.9 754.2h1.7v1.7h-1.7zM138.9 751.8h1.7v1.7h-1.7zM134.6 748.1h1.7v1.7h-1.7zM132.8 751.1h1.7v1.7h-1.7zM143.6 751.5h1.7v1.7h-1.7zM138.2 748.2h1.7v1.7h-1.7zM135.8 746.2h1.7v1.7h-1.7zM133.3 752.9h1.7v1.7h-1.7zM132.8 750.3h1.7v1.7h-1.7zM141.3 750.5h1.7v1.7h-1.7zM133.2 750.7h1.7v1.7h-1.7zM139.4 752.0h1.7v1.7h-1.7zM136.0 749.7h1.7v1.7h-1.7zM136.4 747.3h1.7v1.7h-1.7zM131.2 748.9h1.7v1.7h-1.7zM134.2 754.7h1.7v1.7h-1.7zM140.0 749.0h1.7v1.7h-1.7zM134.5 744.8h1.7v1.7h-1.7zM133.8 749.9h1.7v1.7h-1.7zM137.7 762.0h1.7v1.7h-1.7zM138.6 748.8h1.7v1.7h-1.7zM137.3 754.8h1.7v1.7h-1.7zM134.4 749.1h1.7v1.7h-1.7zM139.1 750.5h1.7v1.7h-1.7zM138.5 748.4h1.7v1.7h-1.7zM142.6 753.3h1.7v1.7h-1.7zM136.2 754.6h1.7v1.7h-1.7zM128.7 746.7h1.7v1.7h-1.7zM133.2 749.7h1.7v1.7h-1.7zM130.8 745.2h1.7v1.7h-1.7zM141.5 748.8h1.7v1.7h-1.7zM131.0 750.8h1.7v1.7h-1.7zM136.9 751.5h1.7v1.7h-1.7zM131.5 756.4h1.7v1.7h-1.7zM140.2 755.2h1.7v1.7h-1.7zM143.1 749.6h1.7v1.7h-1.7zM133.9 755.7h1.7v1.7h-1.7zM143.4 756.2h1.7v1.7h-1.7zM139.5 753.6h1.7v1.7h-1.7zM128.4 750.3h1.7v1.7h-1.7zM132.8 755.4h1.7v1.7h-1.7zM139.5 758.3h1.7v1.7h-1.7zM136.7 754.6h1.7v1.7h-1.7zM134.2 753.7h1.7v1.7h-1.7zM136.4 758.7h1.7v1.7h-1.7zM134.0 748.5h1.7v1.7h-1.7zM130.3 749.9h1.7v1.7h-1.7zM137.7 751.0h1.7v1.7h-1.7zM136.3 751.2h1.7v1.7h-1.7zM128.0 752.9h1.7v1.7h-1.7zM139.8 751.2h1.7v1.7h-1.7zM134.8 754.3h1.7v1.7h-1.7zM128.2 751.6h1.7v1.7h-1.7zM126.9 752.2h1.7v1.7h-1.7zM137.8 749.3h1.7v1.7h-1.7zM137.9 756.7h1.7v1.7h-1.7zM127.3 758.5h1.7v1.7h-1.7zM140.6 747.9h1.7v1.7h-1.7zM137.4 753.7h1.7v1.7h-1.7zM134.6 751.7h1.7v1.7h-1.7zM135.2 746.7h1.7v1.7h-1.7zM143.5 754.1h1.7v1.7h-1.7zM140.7 747.3h1.7v1.7h-1.7zM132.6 758.5h1.7v1.7h-1.7zM130.5 753.1h1.7v1.7h-1.7zM142.0 755.3h1.7v1.7h-1.7zM133.0 751.4h1.7v1.7h-1.7zM141.5 756.5h1.7v1.7h-1.7zM138.1 750.6h1.7v1.7h-1.7z" fill="#000"/>
<path d="M141.3 776.8h1.55v1.55h-1.55zM148.1 771.1h1.55v1.55h-1.55zM137.1 780.5h1.55v1.55h-1.55zM130.2 774.0h1.55v1.55h-1.55zM148.0 771.5h1.55v1.55h-1.55zM134.4 769.1h1.55v1.55h-1.55zM139.3 781.3h1.55v1.55h-1.55zM148.5 776.0h1.55v1.55h-1.55zM134.1 786.5h1.55v1.55h-1.55zM128.3 774.9h1.55v1.55h-1.55zM143.4 757.8h1.55v1.55h-1.55zM137.0 762.8h1.55v1.55h-1.55zM137.8 784.5h1.55v1.55h-1.55zM144.7 778.0h1.55v1.55h-1.55zM147.6 776.6h1.55v1.55h-1.55zM132.4 765.1h1.55v1.55h-1.55zM142.0 771.1h1.55v1.55h-1.55zM147.2 776.6h1.55v1.55h-1.55zM138.7 781.1h1.55v1.55h-1.55zM141.7 784.1h1.55v1.55h-1.55zM146.5 769.7h1.55v1.55h-1.55zM130.6 777.7h1.55v1.55h-1.55zM135.9 771.5h1.55v1.55h-1.55zM135.6 758.9h1.55v1.55h-1.55zM148.2 774.5h1.55v1.55h-1.55zM143.5 767.4h1.55v1.55h-1.55zM130.8 768.3h1.55v1.55h-1.55zM143.7 769.1h1.55v1.55h-1.55zM145.3 768.7h1.55v1.55h-1.55zM148.7 761.0h1.55v1.55h-1.55zM143.6 775.3h1.55v1.55h-1.55zM140.9 758.7h1.55v1.55h-1.55zM139.9 774.3h1.55v1.55h-1.55zM135.6 781.9h1.55v1.55h-1.55zM132.0 768.7h1.55v1.55h-1.55zM133.9 783.2h1.55v1.55h-1.55zM145.3 778.5h1.55v1.55h-1.55zM136.6 779.1h1.55v1.55h-1.55zM147.4 777.3h1.55v1.55h-1.55zM149.9 770.4h1.55v1.55h-1.55zM144.7 774.9h1.55v1.55h-1.55zM149.0 768.7h1.55v1.55h-1.55zM132.9 764.6h1.55v1.55h-1.55zM132.5 769.3h1.55v1.55h-1.55zM130.7 779.4h1.55v1.55h-1.55zM136.5 781.1h1.55v1.55h-1.55zM137.1 786.8h1.55v1.55h-1.55zM145.3 784.2h1.55v1.55h-1.55zM135.4 775.5h1.55v1.55h-1.55zM136.3 771.9h1.55v1.55h-1.55zM140.8 755.2h1.55v1.55h-1.55zM125.5 774.3h1.55v1.55h-1.55zM134.5 770.9h1.55v1.55h-1.55zM145.0 772.7h1.55v1.55h-1.55zM133.0 774.1h1.55v1.55h-1.55zM127.9 768.5h1.55v1.55h-1.55zM137.1 777.0h1.55v1.55h-1.55zM147.7 766.9h1.55v1.55h-1.55zM144.6 777.6h1.55v1.55h-1.55zM140.4 785.8h1.55v1.55h-1.55zM137.4 787.1h1.55v1.55h-1.55zM132.1 773.0h1.55v1.55h-1.55zM132.7 769.6h1.55v1.55h-1.55zM136.6 786.9h1.55v1.55h-1.55zM147.5 779.9h1.55v1.55h-1.55zM134.4 775.2h1.55v1.55h-1.55zM140.4 763.8h1.55v1.55h-1.55zM131.0 762.6h1.55v1.55h-1.55zM145.6 764.0h1.55v1.55h-1.55zM144.0 767.2h1.55v1.55h-1.55zM143.4 773.3h1.55v1.55h-1.55zM130.2 769.4h1.55v1.55h-1.55zM137.5 773.8h1.55v1.55h-1.55zM142.9 763.0h1.55v1.55h-1.55zM147.8 768.2h1.55v1.55h-1.55zM134.0 756.9h1.55v1.55h-1.55zM140.3 776.4h1.55v1.55h-1.55zM138.0 788.1h1.55v1.55h-1.55zM138.7 767.8h1.55v1.55h-1.55zM141.7 775.6h1.55v1.55h-1.55zM139.3 755.7h1.55v1.55h-1.55zM134.8 769.6h1.55v1.55h-1.55zM133.2 768.2h1.55v1.55h-1.55zM138.6 767.1h1.55v1.55h-1.55zM145.1 767.3h1.55v1.55h-1.55zM142.8 786.3h1.55v1.55h-1.55zM123.6 783.0h1.55v1.55h-1.55zM147.4 767.8h1.55v1.55h-1.55zM142.4 767.2h1.55v1.55h-1.55zM134.8 764.0h1.55v1.55h-1.55zM145.9 764.1h1.55v1.55h-1.55zM138.6 775.4h1.55v1.55h-1.55zM137.0 783.8h1.55v1.55h-1.55zM140.4 784.0h1.55v1.55h-1.55zM135.0 767.8h1.55v1.55h-1.55zM139.5 764.0h1.55v1.55h-1.55zM142.4 760.8h1.55v1.55h-1.55zM140.7 767.4h1.55v1.55h-1.55zM135.9 785.5h1.55v1.55h-1.55zM135.1 775.3h1.55v1.55h-1.55zM131.2 761.0h1.55v1.55h-1.55zM130.2 781.9h1.55v1.55h-1.55zM127.9 773.2h1.55v1.55h-1.55zM146.7 756.5h1.55v1.55h-1.55zM145.4 771.9h1.55v1.55h-1.55zM143.0 776.6h1.55v1.55h-1.55zM134.1 781.7h1.55v1.55h-1.55zM140.9 764.0h1.55v1.55h-1.55zM138.6 777.7h1.55v1.55h-1.55zM135.6 787.5h1.55v1.55h-1.55zM143.9 757.9h1.55v1.55h-1.55zM139.0 778.8h1.55v1.55h-1.55zM144.1 765.1h1.55v1.55h-1.55zM153.5 770.0h1.55v1.55h-1.55zM132.6 765.6h1.55v1.55h-1.55zM149.2 770.2h1.55v1.55h-1.55zM132.0 775.1h1.55v1.55h-1.55zM133.3 767.8h1.55v1.55h-1.55zM131.3 771.9h1.55v1.55h-1.55zM136.4 767.1h1.55v1.55h-1.55zM143.7 767.5h1.55v1.55h-1.55zM148.7 769.8h1.55v1.55h-1.55zM84.1 787.2h1.55v1.55h-1.55zM81.3 780.7h1.55v1.55h-1.55zM93.5 780.5h1.55v1.55h-1.55zM87.6 786.5h1.55v1.55h-1.55zM82.2 786.0h1.55v1.55h-1.55zM81.4 786.7h1.55v1.55h-1.55zM82.8 782.1h1.55v1.55h-1.55zM81.3 786.0h1.55v1.55h-1.55zM87.4 782.4h1.55v1.55h-1.55zM90.0 784.6h1.55v1.55h-1.55zM79.6 786.4h1.55v1.55h-1.55zM72.0 784.6h1.55v1.55h-1.55zM82.0 781.7h1.55v1.55h-1.55zM75.3 787.9h1.55v1.55h-1.55zM69.5 786.9h1.55v1.55h-1.55zM73.8 785.1h1.55v1.55h-1.55zM73.4 783.4h1.55v1.55h-1.55zM68.4 783.1h1.55v1.55h-1.55zM95.3 780.5h1.55v1.55h-1.55zM73.7 779.4h1.55v1.55h-1.55zM80.9 779.1h1.55v1.55h-1.55zM96.6 787.5h1.55v1.55h-1.55zM78.5 788.0h1.55v1.55h-1.55zM76.6 785.5h1.55v1.55h-1.55zM99.4 787.2h1.55v1.55h-1.55zM103.8 785.2h1.55v1.55h-1.55zM74.9 783.2h1.55v1.55h-1.55zM88.9 782.6h1.55v1.55h-1.55zM81.3 781.5h1.55v1.55h-1.55zM84.1 786.7h1.55v1.55h-1.55zM92.0 784.8h1.55v1.55h-1.55zM92.2 783.6h1.55v1.55h-1.55zM70.1 783.9h1.55v1.55h-1.55zM80.1 780.9h1.55v1.55h-1.55zM85.4 788.0h1.55v1.55h-1.55zM82.8 784.2h1.55v1.55h-1.55zM88.8 783.1h1.55v1.55h-1.55zM76.1 782.5h1.55v1.55h-1.55zM76.6 782.2h1.55v1.55h-1.55zM93.5 781.3h1.55v1.55h-1.55zM94.0 782.7h1.55v1.55h-1.55zM85.2 781.0h1.55v1.55h-1.55zM75.0 787.4h1.55v1.55h-1.55zM89.9 783.4h1.55v1.55h-1.55z" fill="#1a1a1a"/>
<path d="M146.1 744.0h1.45v1.45h-1.45zM92.8 727.3h1.45v1.45h-1.45zM130.0 732.7h1.45v1.45h-1.45zM148.3 733.6h1.45v1.45h-1.45zM149.6 736.0h1.45v1.45h-1.45zM143.7 737.5h1.45v1.45h-1.45zM153.6 751.4h1.45v1.45h-1.45zM124.9 751.3h1.45v1.45h-1.45zM111.2 734.1h1.45v1.45h-1.45zM116.2 748.6h1.45v1.45h-1.45zM142.0 733.8h1.45v1.45h-1.45zM141.4 758.2h1.45v1.45h-1.45zM125.5 760.0h1.45v1.45h-1.45zM120.4 752.7h1.45v1.45h-1.45zM108.1 729.1h1.45v1.45h-1.45zM151.5 736.6h1.45v1.45h-1.45zM125.8 728.7h1.45v1.45h-1.45zM143.0 746.3h1.45v1.45h-1.45zM134.1 740.3h1.45v1.45h-1.45zM140.8 734.3h1.45v1.45h-1.45zM128.2 728.1h1.45v1.45h-1.45zM127.0 723.3h1.45v1.45h-1.45zM127.2 713.8h1.45v1.45h-1.45zM117.8 730.4h1.45v1.45h-1.45zM125.2 735.9h1.45v1.45h-1.45zM134.5 756.1h1.45v1.45h-1.45zM120.5 723.4h1.45v1.45h-1.45zM129.7 724.3h1.45v1.45h-1.45zM134.1 765.9h1.45v1.45h-1.45zM136.5 721.1h1.45v1.45h-1.45zM142.3 733.0h1.45v1.45h-1.45zM134.5 756.5h1.45v1.45h-1.45zM141.4 739.3h1.45v1.45h-1.45zM146.0 740.2h1.45v1.45h-1.45zM154.2 719.1h1.45v1.45h-1.45zM128.3 740.8h1.45v1.45h-1.45zM111.3 735.2h1.45v1.45h-1.45zM139.8 734.8h1.45v1.45h-1.45zM130.7 732.3h1.45v1.45h-1.45zM129.3 732.7h1.45v1.45h-1.45zM123.5 741.8h1.45v1.45h-1.45zM132.2 744.3h1.45v1.45h-1.45zM130.9 723.5h1.45v1.45h-1.45zM125.4 704.8h1.45v1.45h-1.45zM136.4 740.7h1.45v1.45h-1.45zM119.5 750.4h1.45v1.45h-1.45zM150.0 738.5h1.45v1.45h-1.45zM129.3 741.0h1.45v1.45h-1.45zM115.3 750.1h1.45v1.45h-1.45zM126.1 719.5h1.45v1.45h-1.45zM138.5 714.3h1.45v1.45h-1.45zM125.8 745.8h1.45v1.45h-1.45zM153.2 751.2h1.45v1.45h-1.45zM133.9 744.9h1.45v1.45h-1.45zM132.2 731.8h1.45v1.45h-1.45zM111.5 732.5h1.45v1.45h-1.45zM139.4 728.1h1.45v1.45h-1.45zM121.0 769.4h1.45v1.45h-1.45zM152.1 732.5h1.45v1.45h-1.45zM109.8 740.8h1.45v1.45h-1.45zM110.0 733.0h1.45v1.45h-1.45zM111.3 762.9h1.45v1.45h-1.45zM115.1 751.8h1.45v1.45h-1.45zM115.4 729.3h1.45v1.45h-1.45zM111.8 738.0h1.45v1.45h-1.45zM115.4 736.9h1.45v1.45h-1.45zM123.9 742.2h1.45v1.45h-1.45zM121.3 718.1h1.45v1.45h-1.45zM96.5 723.5h1.45v1.45h-1.45zM120.1 744.7h1.45v1.45h-1.45zM96.9 734.9h1.45v1.45h-1.45zM115.4 757.3h1.45v1.45h-1.45zM102.5 729.0h1.45v1.45h-1.45zM102.0 745.8h1.45v1.45h-1.45zM117.1 742.9h1.45v1.45h-1.45zM118.2 750.6h1.45v1.45h-1.45zM101.7 758.9h1.45v1.45h-1.45zM118.5 757.3h1.45v1.45h-1.45zM123.9 734.1h1.45v1.45h-1.45zM111.0 740.6h1.45v1.45h-1.45zM103.7 745.7h1.45v1.45h-1.45zM117.6 726.7h1.45v1.45h-1.45zM112.7 739.6h1.45v1.45h-1.45zM118.9 734.7h1.45v1.45h-1.45zM125.8 722.6h1.45v1.45h-1.45zM118.5 725.3h1.45v1.45h-1.45zM123.8 739.4h1.45v1.45h-1.45zM109.1 756.6h1.45v1.45h-1.45zM111.0 737.7h1.45v1.45h-1.45zM111.1 737.7h1.45v1.45h-1.45zM114.6 734.0h1.45v1.45h-1.45zM120.9 728.4h1.45v1.45h-1.45zM114.5 746.6h1.45v1.45h-1.45zM122.2 743.1h1.45v1.45h-1.45zM117.2 729.4h1.45v1.45h-1.45zM115.1 743.3h1.45v1.45h-1.45zM110.0 734.1h1.45v1.45h-1.45zM112.4 741.3h1.45v1.45h-1.45zM113.3 716.7h1.45v1.45h-1.45zM105.0 744.5h1.45v1.45h-1.45zM95.8 779.8h1.45v1.45h-1.45zM66.7 770.5h1.45v1.45h-1.45zM55.8 787.6h1.45v1.45h-1.45zM89.2 774.8h1.45v1.45h-1.45zM49.9 786.5h1.45v1.45h-1.45zM58.6 785.1h1.45v1.45h-1.45zM83.1 781.0h1.45v1.45h-1.45zM66.2 777.7h1.45v1.45h-1.45zM75.7 781.1h1.45v1.45h-1.45zM76.2 775.6h1.45v1.45h-1.45zM50.5 787.7h1.45v1.45h-1.45zM73.9 784.3h1.45v1.45h-1.45zM52.1 765.2h1.45v1.45h-1.45zM72.3 766.2h1.45v1.45h-1.45zM58.4 773.8h1.45v1.45h-1.45zM94.0 772.1h1.45v1.45h-1.45zM92.0 783.5h1.45v1.45h-1.45zM62.4 776.3h1.45v1.45h-1.45zM77.5 743.9h1.45v1.45h-1.45zM75.1 725.7h1.45v1.45h-1.45zM88.2 737.7h1.45v1.45h-1.45zM51.6 737.3h1.45v1.45h-1.45zM88.7 764.2h1.45v1.45h-1.45zM83.5 729.4h1.45v1.45h-1.45zM57.6 761.6h1.45v1.45h-1.45zM81.7 725.8h1.45v1.45h-1.45zM75.5 747.8h1.45v1.45h-1.45zM60.7 750.1h1.45v1.45h-1.45z" fill="#2a2a2a"/>
<rect x="45.0" y="661.5" width="153.50" height="128.70" fill="none" stroke="#000" stroke-width="1.5"/>
<text x="45.46" y="803.50" font-family="Liberation Sans" font-size="11" fill="#111">10</text>
<text x="57.40" y="800.10" font-family="Liberation Sans" font-size="8" fill="#111">0</text>
<g transform="translate(39.90,789.04) rotate(-90)"><text x="0" y="0" font-family="Liberation Sans" font-size="11" fill="#111">10</text><text x="11.94" y="-3.4" font-family="Liberation Sans" font-size="8" fill="#111">0</text></g>
<text x="83.84" y="803.50" font-family="Liberation Sans" font-size="11" fill="#111">10</text>
<text x="95.77" y="800.10" font-family="Liberation Sans" font-size="8" fill="#111">1</text>
<g transform="translate(39.90,756.86) rotate(-90)"><text x="0" y="0" font-family="Liberation Sans" font-size="11" fill="#111">10</text><text x="11.94" y="-3.4" font-family="Liberation Sans" font-size="8" fill="#111">1</text></g>
<text x="122.21" y="803.50" font-family="Liberation Sans" font-size="11" fill="#111">10</text>
<text x="134.15" y="800.10" font-family="Liberation Sans" font-size="8" fill="#111">2</text>
<g transform="translate(39.90,724.69) rotate(-90)"><text x="0" y="0" font-family="Liberation Sans" font-size="11" fill="#111">10</text><text x="11.94" y="-3.4" font-family="Liberation Sans" font-size="8" fill="#111">2</text></g>
<text x="160.59" y="803.50" font-family="Liberation Sans" font-size="11" fill="#111">10</text>
<text x="172.52" y="800.10" font-family="Liberation Sans" font-size="8" fill="#111">3</text>
<g transform="translate(39.90,692.51) rotate(-90)"><text x="0" y="0" font-family="Liberation Sans" font-size="11" fill="#111">10</text><text x="11.94" y="-3.4" font-family="Liberation Sans" font-size="8" fill="#111">3</text></g>
<text x="198.96" y="803.50" font-family="Liberation Sans" font-size="11" fill="#111">10</text>
<text x="210.90" y="800.10" font-family="Liberation Sans" font-size="8" fill="#111">4</text>
<g transform="translate(39.90,660.34) rotate(-90)"><text x="0" y="0" font-family="Liberation Sans" font-size="11" fill="#111">10</text><text x="11.94" y="-3.4" font-family="Liberation Sans" font-size="8" fill="#111">4</text></g>
<text transform="translate(76.97,637.85) scale(1.075,1)" font-family="Liberation Serif" font-size="17" fill="#111">Lung +/+</text>
<text x="8.90" y="638.00" font-family="Liberation Sans" font-size="12" fill="#111" >2.6%</text>
<text x="205.97" y="639.50" font-family="Liberation Sans" font-size="12" fill="#111" >44.0%</text>
<text x="5.04" y="821.75" font-family="Liberation Sans" font-size="12" fill="#111" >34.5%</text>
<text x="206.09" y="821.75" font-family="Liberation Sans" font-size="12" fill="#111" >18.9%</text>
<text x="105.49" y="821.70" font-family="Liberation Sans" font-size="12" fill="#111" >eGFP</text>
<text transform="translate(22.20,748.01) rotate(-90)" font-family="Liberation Sans" font-size="12" fill="#111">CD8-PE</text>
<path d="M309.40 792.30v4.5M309.40 792.30h-4.3M320.97 792.30v4.5M309.40 782.62h-4.3M327.75 792.30v4.5M309.40 776.96h-4.3M332.55 792.30v4.5M309.40 772.94h-4.3M336.28 792.30v4.5M309.40 769.83h-4.3M339.32 792.30v4.5M309.40 767.28h-4.3M341.89 792.30v4.5M309.40 765.13h-4.3M344.12 792.30v4.5M309.40 763.27h-4.3M346.09 792.30v4.5M309.40 761.62h-4.3M347.85 792.30v4.5M309.40 760.15h-4.3M359.42 792.30v4.5M309.40 750.47h-4.3M366.20 792.30v4.5M309.40 744.81h-4.3M371.00 792.30v4.5M309.40 740.79h-4.3M374.73 792.30v4.5M309.40 737.68h-4.3M377.77 792.30v4.5M309.40 735.13h-4.3M380.34 792.30v4.5M309.40 732.98h-4.3M382.57 792.30v4.5M309.40 731.12h-4.3M384.54 792.30v4.5M309.40 729.47h-4.3M386.30 792.30v4.5M309.40 728.00h-4.3M397.87 792.30v4.5M309.40 718.32h-4.3M404.65 792.30v4.5M309.40 712.66h-4.3M409.45 792.30v4.5M309.40 708.64h-4.3M413.18 792.30v4.5M309.40 705.53h-4.3M416.22 792.30v4.5M309.40 702.98h-4.3M418.79 792.30v4.5M309.40 700.83h-4.3M421.02 792.30v4.5M309.40 698.97h-4.3M422.99 792.30v4.5M309.40 697.32h-4.3M424.75 792.30v4.5M309.40 695.85h-4.3M436.32 792.30v4.5M309.40 686.17h-4.3M443.10 792.30v4.5M309.40 680.51h-4.3M447.90 792.30v4.5M309.40 676.49h-4.3M451.63 792.30v4.5M309.40 673.38h-4.3M454.67 792.30v4.5M309.40 670.83h-4.3M457.24 792.30v4.5M309.40 668.68h-4.3M459.47 792.30v4.5M309.40 666.82h-4.3M461.44 792.30v4.5M309.40 665.17h-4.3M463.20 792.30v4.5M309.40 663.70h-4.3" stroke="#000" stroke-width="1.2" fill="none"/>
<line x1="309.4" y1="760.8" x2="463.2" y2="760.8" stroke="#aaa" stroke-width="1.5"/>
<path d="M403.3 776.5h1.7v1.7h-1.7zM405.3 786.7h1.7v1.7h-1.7zM399.1 766.0h1.7v1.7h-1.7zM399.9 741.5h1.7v1.7h-1.7zM404.4 783.4h1.7v1.7h-1.7zM394.0 746.8h1.7v1.7h-1.7zM385.8 753.9h1.7v1.7h-1.7zM384.6 744.4h1.7v1.7h-1.7zM400.8 782.4h1.7v1.7h-1.7zM397.6 772.7h1.7v1.7h-1.7zM395.1 744.2h1.7v1.7h-1.7zM384.6 776.0h1.7v1.7h-1.7zM387.4 770.7h1.7v1.7h-1.7zM394.1 756.6h1.7v1.7h-1.7zM397.6 746.0h1.7v1.7h-1.7zM396.4 749.4h1.7v1.7h-1.7zM391.5 761.8h1.7v1.7h-1.7zM387.7 747.2h1.7v1.7h-1.7zM397.6 762.3h1.7v1.7h-1.7zM403.9 778.9h1.7v1.7h-1.7zM396.1 784.6h1.7v1.7h-1.7zM395.2 765.8h1.7v1.7h-1.7zM383.9 765.7h1.7v1.7h-1.7zM384.9 748.3h1.7v1.7h-1.7zM413.4 763.6h1.7v1.7h-1.7zM386.9 749.2h1.7v1.7h-1.7zM397.0 742.0h1.7v1.7h-1.7zM408.8 776.4h1.7v1.7h-1.7zM389.2 751.6h1.7v1.7h-1.7zM389.4 737.2h1.7v1.7h-1.7zM390.6 757.9h1.7v1.7h-1.7zM401.1 784.3h1.7v1.7h-1.7zM403.3 771.6h1.7v1.7h-1.7zM386.6 775.8h1.7v1.7h-1.7zM381.7 749.7h1.7v1.7h-1.7zM407.9 754.2h1.7v1.7h-1.7zM403.0 773.8h1.7v1.7h-1.7zM388.6 769.2h1.7v1.7h-1.7zM398.8 782.1h1.7v1.7h-1.7zM394.7 745.8h1.7v1.7h-1.7zM397.1 752.2h1.7v1.7h-1.7zM397.4 769.5h1.7v1.7h-1.7zM405.3 779.3h1.7v1.7h-1.7zM388.0 765.8h1.7v1.7h-1.7zM396.1 783.0h1.7v1.7h-1.7zM393.3 738.8h1.7v1.7h-1.7zM387.6 757.1h1.7v1.7h-1.7zM412.6 762.8h1.7v1.7h-1.7zM384.3 752.4h1.7v1.7h-1.7zM389.9 783.1h1.7v1.7h-1.7zM380.9 762.9h1.7v1.7h-1.7zM404.8 755.4h1.7v1.7h-1.7zM384.9 752.7h1.7v1.7h-1.7zM391.5 766.1h1.7v1.7h-1.7zM383.6 770.9h1.7v1.7h-1.7zM395.4 745.3h1.7v1.7h-1.7zM395.4 790.0h1.7v1.7h-1.7zM388.9 771.8h1.7v1.7h-1.7zM409.0 743.3h1.7v1.7h-1.7zM392.2 775.3h1.7v1.7h-1.7zM386.1 779.0h1.7v1.7h-1.7zM399.1 761.6h1.7v1.7h-1.7zM400.0 739.1h1.7v1.7h-1.7zM400.1 745.3h1.7v1.7h-1.7zM400.7 755.6h1.7v1.7h-1.7zM394.7 769.4h1.7v1.7h-1.7zM393.3 771.3h1.7v1.7h-1.7zM383.3 762.0h1.7v1.7h-1.7zM401.1 746.0h1.7v1.7h-1.7zM386.8 784.4h1.7v1.7h-1.7zM396.3 739.2h1.7v1.7h-1.7zM383.8 752.4h1.7v1.7h-1.7zM404.0 777.9h1.7v1.7h-1.7zM391.7 743.1h1.7v1.7h-1.7zM403.4 779.8h1.7v1.7h-1.7zM389.7 774.6h1.7v1.7h-1.7zM399.1 752.9h1.7v1.7h-1.7zM402.1 773.6h1.7v1.7h-1.7zM397.6 785.9h1.7v1.7h-1.7zM394.6 788.9h1.7v1.7h-1.7zM393.8 754.7h1.7v1.7h-1.7zM402.6 775.5h1.7v1.7h-1.7zM394.5 750.8h1.7v1.7h-1.7zM397.2 784.8h1.7v1.7h-1.7zM397.8 780.6h1.7v1.7h-1.7zM411.0 760.0h1.7v1.7h-1.7zM410.2 765.2h1.7v1.7h-1.7zM408.8 770.7h1.7v1.7h-1.7zM383.7 765.3h1.7v1.7h-1.7zM395.2 781.7h1.7v1.7h-1.7zM387.8 766.6h1.7v1.7h-1.7zM408.7 764.1h1.7v1.7h-1.7zM395.6 787.7h1.7v1.7h-1.7zM410.5 754.4h1.7v1.7h-1.7zM399.6 744.7h1.7v1.7h-1.7zM398.3 775.4h1.7v1.7h-1.7zM400.6 746.1h1.7v1.7h-1.7zM393.6 756.1h1.7v1.7h-1.7zM406.2 769.0h1.7v1.7h-1.7zM400.5 770.4h1.7v1.7h-1.7zM380.3 754.6h1.7v1.7h-1.7zM391.4 777.9h1.7v1.7h-1.7zM398.3 779.9h1.7v1.7h-1.7zM412.0 760.6h1.7v1.7h-1.7zM406.8 769.5h1.7v1.7h-1.7zM389.4 777.9h1.7v1.7h-1.7zM414.4 769.0h1.7v1.7h-1.7zM394.5 740.4h1.7v1.7h-1.7zM401.9 736.9h1.7v1.7h-1.7zM400.0 777.4h1.7v1.7h-1.7zM401.3 751.4h1.7v1.7h-1.7zM404.3 768.6h1.7v1.7h-1.7zM400.8 776.1h1.7v1.7h-1.7zM402.8 746.3h1.7v1.7h-1.7zM386.3 774.6h1.7v1.7h-1.7zM403.4 780.9h1.7v1.7h-1.7zM405.2 776.4h1.7v1.7h-1.7zM405.2 750.8h1.7v1.7h-1.7zM395.0 761.1h1.7v1.7h-1.7zM395.7 743.4h1.7v1.7h-1.7zM385.1 772.3h1.7v1.7h-1.7zM391.8 783.4h1.7v1.7h-1.7zM411.1 758.9h1.7v1.7h-1.7zM409.2 760.5h1.7v1.7h-1.7zM408.9 768.8h1.7v1.7h-1.7zM394.5 750.4h1.7v1.7h-1.7zM405.4 773.4h1.7v1.7h-1.7zM399.1 775.8h1.7v1.7h-1.7zM396.9 788.5h1.7v1.7h-1.7zM393.7 758.6h1.7v1.7h-1.7zM393.1 763.8h1.7v1.7h-1.7zM404.2 785.3h1.7v1.7h-1.7zM389.0 743.6h1.7v1.7h-1.7zM401.8 742.1h1.7v1.7h-1.7zM385.7 776.2h1.7v1.7h-1.7zM397.6 753.0h1.7v1.7h-1.7zM386.6 774.5h1.7v1.7h-1.7zM401.6 789.0h1.7v1.7h-1.7zM398.6 751.9h1.7v1.7h-1.7zM386.4 776.8h1.7v1.7h-1.7zM414.7 758.0h1.7v1.7h-1.7zM385.2 768.8h1.7v1.7h-1.7zM405.6 750.1h1.7v1.7h-1.7zM394.9 740.5h1.7v1.7h-1.7zM388.5 787.5h1.7v1.7h-1.7zM398.0 754.9h1.7v1.7h-1.7zM387.5 757.0h1.7v1.7h-1.7zM385.2 740.7h1.7v1.7h-1.7zM389.4 769.7h1.7v1.7h-1.7zM408.5 778.4h1.7v1.7h-1.7zM406.6 750.9h1.7v1.7h-1.7zM405.3 785.7h1.7v1.7h-1.7zM400.4 782.1h1.7v1.7h-1.7zM401.7 785.2h1.7v1.7h-1.7zM413.1 758.3h1.7v1.7h-1.7zM389.1 746.6h1.7v1.7h-1.7zM400.1 764.2h1.7v1.7h-1.7zM395.2 755.9h1.7v1.7h-1.7zM409.0 764.6h1.7v1.7h-1.7zM388.8 769.2h1.7v1.7h-1.7zM393.3 788.2h1.7v1.7h-1.7zM400.1 740.6h1.7v1.7h-1.7zM409.3 771.4h1.7v1.7h-1.7zM401.0 754.3h1.7v1.7h-1.7zM389.7 736.9h1.7v1.7h-1.7zM397.1 789.5h1.7v1.7h-1.7zM388.6 779.8h1.7v1.7h-1.7zM402.9 742.3h1.7v1.7h-1.7zM401.5 751.2h1.7v1.7h-1.7zM402.5 754.1h1.7v1.7h-1.7zM397.6 742.1h1.7v1.7h-1.7zM401.6 746.9h1.7v1.7h-1.7zM398.8 747.1h1.7v1.7h-1.7zM392.9 733.6h1.7v1.7h-1.7zM396.0 759.5h1.7v1.7h-1.7zM391.8 765.4h1.7v1.7h-1.7zM405.9 760.4h1.7v1.7h-1.7zM398.5 748.3h1.7v1.7h-1.7zM396.9 749.4h1.7v1.7h-1.7zM383.3 755.4h1.7v1.7h-1.7zM396.0 775.5h1.7v1.7h-1.7zM386.5 755.0h1.7v1.7h-1.7zM404.1 763.9h1.7v1.7h-1.7zM383.7 779.3h1.7v1.7h-1.7zM409.0 768.4h1.7v1.7h-1.7zM401.0 774.0h1.7v1.7h-1.7zM406.1 756.7h1.7v1.7h-1.7zM384.6 783.2h1.7v1.7h-1.7zM392.8 740.2h1.7v1.7h-1.7zM391.7 745.4h1.7v1.7h-1.7zM414.1 767.0h1.7v1.7h-1.7zM400.3 736.6h1.7v1.7h-1.7zM387.0 788.3h1.7v1.7h-1.7zM405.1 767.3h1.7v1.7h-1.7zM395.4 771.0h1.7v1.7h-1.7zM397.6 773.9h1.7v1.7h-1.7zM398.7 766.4h1.7v1.7h-1.7zM412.6 759.2h1.7v1.7h-1.7zM405.9 763.8h1.7v1.7h-1.7zM392.5 785.4h1.7v1.7h-1.7zM410.8 751.0h1.7v1.7h-1.7zM391.3 758.8h1.7v1.7h-1.7zM392.2 774.0h1.7v1.7h-1.7zM390.9 738.6h1.7v1.7h-1.7zM398.4 771.8h1.7v1.7h-1.7zM395.4 784.4h1.7v1.7h-1.7zM384.0 757.9h1.7v1.7h-1.7zM403.9 742.8h1.7v1.7h-1.7zM399.8 751.5h1.7v1.7h-1.7zM392.8 738.9h1.7v1.7h-1.7zM413.4 760.2h1.7v1.7h-1.7zM384.9 743.2h1.7v1.7h-1.7zM405.6 748.3h1.7v1.7h-1.7zM409.1 771.8h1.7v1.7h-1.7zM396.3 771.6h1.7v1.7h-1.7zM389.8 754.6h1.7v1.7h-1.7zM409.1 766.3h1.7v1.7h-1.7zM384.9 775.8h1.7v1.7h-1.7zM388.4 761.8h1.7v1.7h-1.7zM388.2 752.9h1.7v1.7h-1.7zM385.7 738.7h1.7v1.7h-1.7zM393.6 771.8h1.7v1.7h-1.7zM382.3 756.8h1.7v1.7h-1.7zM383.6 780.5h1.7v1.7h-1.7zM404.0 741.0h1.7v1.7h-1.7zM390.5 751.7h1.7v1.7h-1.7zM410.5 767.0h1.7v1.7h-1.7zM408.2 765.4h1.7v1.7h-1.7zM387.9 786.3h1.7v1.7h-1.7zM402.3 758.0h1.7v1.7h-1.7zM399.3 785.6h1.7v1.7h-1.7zM396.8 783.0h1.7v1.7h-1.7zM410.2 765.5h1.7v1.7h-1.7zM392.9 759.7h1.7v1.7h-1.7zM392.4 763.8h1.7v1.7h-1.7zM405.7 765.9h1.7v1.7h-1.7zM387.1 764.6h1.7v1.7h-1.7zM390.8 760.1h1.7v1.7h-1.7zM406.5 755.6h1.7v1.7h-1.7zM399.8 777.4h1.7v1.7h-1.7zM398.8 789.4h1.7v1.7h-1.7zM393.3 745.5h1.7v1.7h-1.7zM400.4 777.6h1.7v1.7h-1.7zM399.2 771.2h1.7v1.7h-1.7zM402.8 763.2h1.7v1.7h-1.7zM409.6 761.9h1.7v1.7h-1.7zM405.1 758.5h1.7v1.7h-1.7zM407.2 774.5h1.7v1.7h-1.7zM405.9 743.5h1.7v1.7h-1.7zM398.8 774.4h1.7v1.7h-1.7zM388.3 744.1h1.7v1.7h-1.7zM404.7 743.3h1.7v1.7h-1.7zM393.2 786.2h1.7v1.7h-1.7zM411.4 768.6h1.7v1.7h-1.7zM396.8 762.0h1.7v1.7h-1.7zM392.7 783.2h1.7v1.7h-1.7zM383.3 752.0h1.7v1.7h-1.7zM405.4 750.1h1.7v1.7h-1.7zM385.8 779.6h1.7v1.7h-1.7zM393.1 784.9h1.7v1.7h-1.7zM405.3 744.4h1.7v1.7h-1.7zM392.1 772.3h1.7v1.7h-1.7zM392.4 737.9h1.7v1.7h-1.7zM393.1 785.1h1.7v1.7h-1.7zM393.0 756.4h1.7v1.7h-1.7zM409.5 770.4h1.7v1.7h-1.7zM391.8 773.8h1.7v1.7h-1.7zM407.4 740.4h1.7v1.7h-1.7zM393.0 740.2h1.7v1.7h-1.7zM388.0 737.1h1.7v1.7h-1.7zM390.1 752.3h1.7v1.7h-1.7zM388.1 753.2h1.7v1.7h-1.7zM393.3 761.4h1.7v1.7h-1.7zM398.3 783.4h1.7v1.7h-1.7zM394.4 767.9h1.7v1.7h-1.7zM400.8 750.7h1.7v1.7h-1.7zM408.3 762.6h1.7v1.7h-1.7zM394.2 773.6h1.7v1.7h-1.7zM396.6 743.0h1.7v1.7h-1.7zM395.8 776.5h1.7v1.7h-1.7zM398.6 743.3h1.7v1.7h-1.7zM401.6 766.7h1.7v1.7h-1.7zM408.6 751.6h1.7v1.7h-1.7zM403.2 754.1h1.7v1.7h-1.7zM398.2 757.2h1.7v1.7h-1.7zM407.6 766.1h1.7v1.7h-1.7zM399.3 780.2h1.7v1.7h-1.7zM399.2 763.2h1.7v1.7h-1.7zM401.8 740.2h1.7v1.7h-1.7zM402.7 781.0h1.7v1.7h-1.7zM392.1 768.2h1.7v1.7h-1.7zM399.9 771.1h1.7v1.7h-1.7zM408.4 771.5h1.7v1.7h-1.7zM398.8 772.4h1.7v1.7h-1.7zM399.0 768.2h1.7v1.7h-1.7zM386.2 745.9h1.7v1.7h-1.7zM386.2 769.7h1.7v1.7h-1.7zM399.0 766.2h1.7v1.7h-1.7zM409.5 743.1h1.7v1.7h-1.7zM393.4 748.7h1.7v1.7h-1.7zM384.3 779.8h1.7v1.7h-1.7zM392.6 747.4h1.7v1.7h-1.7zM399.7 774.6h1.7v1.7h-1.7zM388.2 743.7h1.7v1.7h-1.7zM393.1 776.9h1.7v1.7h-1.7zM387.7 758.1h1.7v1.7h-1.7zM408.1 764.0h1.7v1.7h-1.7zM403.9 753.2h1.7v1.7h-1.7zM410.5 771.4h1.7v1.7h-1.7zM392.5 760.4h1.7v1.7h-1.7zM390.3 728.7h1.7v1.7h-1.7zM408.0 767.5h1.7v1.7h-1.7zM386.5 762.4h1.7v1.7h-1.7zM386.0 747.5h1.7v1.7h-1.7zM397.9 776.5h1.7v1.7h-1.7zM411.3 761.6h1.7v1.7h-1.7zM392.9 760.2h1.7v1.7h-1.7zM383.7 759.5h1.7v1.7h-1.7zM398.9 770.4h1.7v1.7h-1.7zM396.0 749.0h1.7v1.7h-1.7zM400.6 756.1h1.7v1.7h-1.7zM389.2 766.4h1.7v1.7h-1.7zM394.7 757.7h1.7v1.7h-1.7zM410.3 748.5h1.7v1.7h-1.7zM399.4 747.0h1.7v1.7h-1.7zM390.5 770.8h1.7v1.7h-1.7zM410.0 761.5h1.7v1.7h-1.7zM388.3 764.0h1.7v1.7h-1.7zM399.9 771.3h1.7v1.7h-1.7zM399.0 756.9h1.7v1.7h-1.7zM402.6 751.3h1.7v1.7h-1.7zM408.1 737.5h1.7v1.7h-1.7zM385.4 748.7h1.7v1.7h-1.7zM405.1 739.9h1.7v1.7h-1.7zM398.1 730.0h1.7v1.7h-1.7zM386.0 766.4h1.7v1.7h-1.7zM397.4 759.5h1.7v1.7h-1.7zM387.6 760.8h1.7v1.7h-1.7zM407.4 766.9h1.7v1.7h-1.7zM397.8 740.2h1.7v1.7h-1.7zM409.4 743.6h1.7v1.7h-1.7zM397.0 735.4h1.7v1.7h-1.7zM398.6 738.2h1.7v1.7h-1.7zM399.1 740.4h1.7v1.7h-1.7zM398.2 758.9h1.7v1.7h-1.7zM411.4 755.9h1.7v1.7h-1.7zM405.3 785.0h1.7v1.7h-1.7zM411.2 761.3h1.7v1.7h-1.7zM401.5 750.6h1.7v1.7h-1.7zM403.9 776.7h1.7v1.7h-1.7zM401.2 747.0h1.7v1.7h-1.7zM403.8 754.5h1.7v1.7h-1.7zM403.7 762.8h1.7v1.7h-1.7zM395.8 770.4h1.7v1.7h-1.7zM393.8 756.5h1.7v1.7h-1.7zM396.7 761.4h1.7v1.7h-1.7zM393.2 753.4h1.7v1.7h-1.7zM387.1 760.8h1.7v1.7h-1.7zM399.7 748.6h1.7v1.7h-1.7zM399.0 772.7h1.7v1.7h-1.7zM396.9 765.9h1.7v1.7h-1.7zM401.1 747.5h1.7v1.7h-1.7zM402.8 757.8h1.7v1.7h-1.7zM390.3 748.1h1.7v1.7h-1.7zM391.2 749.0h1.7v1.7h-1.7zM398.6 736.6h1.7v1.7h-1.7zM398.2 748.3h1.7v1.7h-1.7zM391.1 766.3h1.7v1.7h-1.7zM394.0 776.6h1.7v1.7h-1.7zM389.8 741.7h1.7v1.7h-1.7zM397.0 786.1h1.7v1.7h-1.7zM388.4 761.0h1.7v1.7h-1.7zM404.3 761.9h1.7v1.7h-1.7zM395.1 767.8h1.7v1.7h-1.7zM390.3 762.3h1.7v1.7h-1.7zM392.7 768.4h1.7v1.7h-1.7zM393.8 731.9h1.7v1.7h-1.7zM408.7 742.3h1.7v1.7h-1.7zM408.2 755.0h1.7v1.7h-1.7zM394.4 737.5h1.7v1.7h-1.7zM386.1 764.4h1.7v1.7h-1.7zM400.2 764.5h1.7v1.7h-1.7zM389.3 740.0h1.7v1.7h-1.7zM391.8 738.2h1.7v1.7h-1.7zM389.7 777.9h1.7v1.7h-1.7zM393.9 743.9h1.7v1.7h-1.7zM392.4 765.0h1.7v1.7h-1.7zM393.6 739.9h1.7v1.7h-1.7zM386.3 741.5h1.7v1.7h-1.7zM387.1 736.7h1.7v1.7h-1.7zM387.2 766.5h1.7v1.7h-1.7zM400.7 745.3h1.7v1.7h-1.7zM390.5 777.7h1.7v1.7h-1.7zM397.1 773.9h1.7v1.7h-1.7zM389.4 744.1h1.7v1.7h-1.7zM401.7 775.6h1.7v1.7h-1.7zM397.7 759.4h1.7v1.7h-1.7zM392.5 764.3h1.7v1.7h-1.7zM380.6 780.3h1.7v1.7h-1.7zM384.0 776.0h1.7v1.7h-1.7zM406.1 775.9h1.7v1.7h-1.7zM378.3 754.4h1.7v1.7h-1.7zM387.2 747.9h1.7v1.7h-1.7zM389.6 756.8h1.7v1.7h-1.7zM407.0 778.5h1.7v1.7h-1.7zM398.9 739.2h1.7v1.7h-1.7zM405.3 772.1h1.7v1.7h-1.7zM402.1 768.8h1.7v1.7h-1.7zM401.7 780.1h1.7v1.7h-1.7zM385.4 776.1h1.7v1.7h-1.7zM395.1 768.5h1.7v1.7h-1.7zM395.6 747.1h1.7v1.7h-1.7zM399.5 767.1h1.7v1.7h-1.7zM397.1 777.1h1.7v1.7h-1.7zM387.6 745.0h1.7v1.7h-1.7zM403.3 775.2h1.7v1.7h-1.7zM384.5 775.1h1.7v1.7h-1.7zM400.6 752.5h1.7v1.7h-1.7zM388.0 774.7h1.7v1.7h-1.7zM406.5 772.5h1.7v1.7h-1.7zM390.6 738.3h1.7v1.7h-1.7zM398.5 782.1h1.7v1.7h-1.7zM401.3 774.6h1.7v1.7h-1.7zM402.2 734.1h1.7v1.7h-1.7zM397.8 769.5h1.7v1.7h-1.7zM408.7 759.1h1.7v1.7h-1.7zM398.6 744.6h1.7v1.7h-1.7zM396.4 765.1h1.7v1.7h-1.7zM385.2 744.1h1.7v1.7h-1.7zM395.2 766.6h1.7v1.7h-1.7zM390.1 751.9h1.7v1.7h-1.7zM405.3 758.1h1.7v1.7h-1.7zM405.1 768.4h1.7v1.7h-1.7zM390.1 740.9h1.7v1.7h-1.7zM390.7 762.8h1.7v1.7h-1.7zM404.0 757.5h1.7v1.7h-1.7zM404.2 787.1h1.7v1.7h-1.7zM396.8 782.5h1.7v1.7h-1.7zM406.7 767.8h1.7v1.7h-1.7zM394.2 774.2h1.7v1.7h-1.7zM410.0 775.3h1.7v1.7h-1.7zM390.2 738.9h1.7v1.7h-1.7zM396.4 772.7h1.7v1.7h-1.7zM377.5 774.2h1.7v1.7h-1.7zM395.7 740.0h1.7v1.7h-1.7zM405.9 744.5h1.7v1.7h-1.7zM395.2 773.2h1.7v1.7h-1.7zM388.1 734.2h1.7v1.7h-1.7zM385.9 755.1h1.7v1.7h-1.7zM389.1 774.0h1.7v1.7h-1.7zM396.2 779.7h1.7v1.7h-1.7zM399.4 746.7h1.7v1.7h-1.7zM389.9 757.8h1.7v1.7h-1.7zM388.8 781.3h1.7v1.7h-1.7zM396.4 742.7h1.7v1.7h-1.7zM399.2 749.2h1.7v1.7h-1.7zM395.7 745.1h1.7v1.7h-1.7zM390.3 756.6h1.7v1.7h-1.7zM399.9 782.1h1.7v1.7h-1.7zM388.6 777.7h1.7v1.7h-1.7zM386.1 753.8h1.7v1.7h-1.7zM415.0 771.0h1.7v1.7h-1.7zM385.1 756.8h1.7v1.7h-1.7zM389.6 770.9h1.7v1.7h-1.7zM407.3 759.3h1.7v1.7h-1.7zM408.5 774.9h1.7v1.7h-1.7zM412.7 775.7h1.7v1.7h-1.7zM406.0 744.5h1.7v1.7h-1.7zM400.5 787.5h1.7v1.7h-1.7zM408.2 768.1h1.7v1.7h-1.7zM401.7 745.8h1.7v1.7h-1.7zM400.5 763.1h1.7v1.7h-1.7zM382.2 788.4h1.7v1.7h-1.7zM392.8 789.7h1.7v1.7h-1.7zM386.8 762.2h1.7v1.7h-1.7zM393.3 738.7h1.7v1.7h-1.7zM389.6 740.7h1.7v1.7h-1.7zM402.4 766.6h1.7v1.7h-1.7zM389.2 763.1h1.7v1.7h-1.7zM401.0 752.1h1.7v1.7h-1.7zM390.3 776.6h1.7v1.7h-1.7zM393.8 770.4h1.7v1.7h-1.7zM406.2 754.5h1.7v1.7h-1.7zM405.0 773.1h1.7v1.7h-1.7zM403.3 754.7h1.7v1.7h-1.7zM384.4 756.4h1.7v1.7h-1.7zM391.2 749.2h1.7v1.7h-1.7zM389.8 749.9h1.7v1.7h-1.7zM383.6 766.8h1.7v1.7h-1.7zM392.5 786.5h1.7v1.7h-1.7zM408.1 766.8h1.7v1.7h-1.7zM402.4 781.5h1.7v1.7h-1.7zM397.9 743.3h1.7v1.7h-1.7zM408.7 754.8h1.7v1.7h-1.7zM395.9 776.2h1.7v1.7h-1.7zM405.8 751.4h1.7v1.7h-1.7zM400.5 748.4h1.7v1.7h-1.7zM385.0 771.3h1.7v1.7h-1.7zM394.3 747.3h1.7v1.7h-1.7zM398.5 756.6h1.7v1.7h-1.7zM389.0 785.2h1.7v1.7h-1.7zM395.2 762.0h1.7v1.7h-1.7zM398.2 754.5h1.7v1.7h-1.7zM412.1 768.8h1.7v1.7h-1.7zM395.0 731.0h1.7v1.7h-1.7zM393.9 749.6h1.7v1.7h-1.7zM395.4 777.5h1.7v1.7h-1.7zM379.2 763.0h1.7v1.7h-1.7zM394.3 774.5h1.7v1.7h-1.7zM398.8 735.9h1.7v1.7h-1.7zM401.0 764.2h1.7v1.7h-1.7zM410.0 755.3h1.7v1.7h-1.7zM397.4 784.4h1.7v1.7h-1.7zM390.7 778.9h1.7v1.7h-1.7zM398.7 753.7h1.7v1.7h-1.7zM395.8 767.5h1.7v1.7h-1.7zM406.7 758.5h1.7v1.7h-1.7zM379.8 769.4h1.7v1.7h-1.7zM392.3 745.9h1.7v1.7h-1.7zM404.1 788.6h1.7v1.7h-1.7zM401.2 737.3h1.7v1.7h-1.7zM391.0 749.2h1.7v1.7h-1.7zM391.8 750.4h1.7v1.7h-1.7zM399.5 746.7h1.7v1.7h-1.7zM397.6 735.5h1.7v1.7h-1.7zM387.8 779.0h1.7v1.7h-1.7zM400.8 748.9h1.7v1.7h-1.7zM395.2 785.2h1.7v1.7h-1.7zM385.6 767.1h1.7v1.7h-1.7zM387.8 753.6h1.7v1.7h-1.7zM400.7 758.6h1.7v1.7h-1.7zM391.8 776.6h1.7v1.7h-1.7zM396.5 769.1h1.7v1.7h-1.7zM391.9 766.9h1.7v1.7h-1.7zM404.6 757.7h1.7v1.7h-1.7zM397.0 756.4h1.7v1.7h-1.7z" fill="#000"/>
<path d="M407.6 757.4h1.45v1.45h-1.45zM399.3 752.4h1.45v1.45h-1.45zM381.8 769.8h1.45v1.45h-1.45zM394.5 733.2h1.45v1.45h-1.45zM384.3 772.3h1.45v1.45h-1.45zM401.0 771.5h1.45v1.45h-1.45zM400.5 755.6h1.45v1.45h-1.45zM402.9 765.2h1.45v1.45h-1.45zM398.0 755.3h1.45v1.45h-1.45zM396.6 764.1h1.45v1.45h-1.45zM403.3 787.8h1.45v1.45h-1.45zM389.6 783.1h1.45v1.45h-1.45zM410.2 779.5h1.45v1.45h-1.45zM402.9 789.2h1.45v1.45h-1.45zM407.2 747.2h1.45v1.45h-1.45zM406.7 783.1h1.45v1.45h-1.45zM400.2 759.2h1.45v1.45h-1.45zM393.2 769.5h1.45v1.45h-1.45zM389.0 780.0h1.45v1.45h-1.45zM391.2 762.4h1.45v1.45h-1.45zM391.7 754.2h1.45v1.45h-1.45zM405.5 740.0h1.45v1.45h-1.45zM392.4 737.6h1.45v1.45h-1.45zM406.5 757.3h1.45v1.45h-1.45zM403.1 780.2h1.45v1.45h-1.45zM385.6 749.2h1.45v1.45h-1.45zM382.1 755.9h1.45v1.45h-1.45zM390.9 745.5h1.45v1.45h-1.45zM388.7 763.8h1.45v1.45h-1.45zM401.1 785.1h1.45v1.45h-1.45zM422.3 780.2h1.45v1.45h-1.45zM389.8 775.5h1.45v1.45h-1.45zM401.4 766.4h1.45v1.45h-1.45zM363.1 709.2h1.45v1.45h-1.45zM397.6 742.0h1.45v1.45h-1.45zM418.6 769.5h1.45v1.45h-1.45zM400.0 746.7h1.45v1.45h-1.45zM398.7 753.3h1.45v1.45h-1.45zM407.1 744.3h1.45v1.45h-1.45zM319.9 765.5h1.45v1.45h-1.45zM354.2 785.0h1.45v1.45h-1.45zM338.8 751.2h1.45v1.45h-1.45zM322.3 746.0h1.45v1.45h-1.45zM364.3 765.4h1.45v1.45h-1.45zM345.7 783.2h1.45v1.45h-1.45zM322.9 769.0h1.45v1.45h-1.45zM352.9 750.7h1.45v1.45h-1.45zM330.1 765.6h1.45v1.45h-1.45zM335.0 756.1h1.45v1.45h-1.45zM350.5 757.3h1.45v1.45h-1.45zM331.6 774.4h1.45v1.45h-1.45zM327.8 755.9h1.45v1.45h-1.45zM319.4 765.5h1.45v1.45h-1.45zM347.6 765.0h1.45v1.45h-1.45zM371.9 758.9h1.45v1.45h-1.45zM376.9 782.8h1.45v1.45h-1.45zM324.4 741.3h1.45v1.45h-1.45zM317.8 778.7h1.45v1.45h-1.45zM376.5 787.3h1.45v1.45h-1.45zM349.0 763.0h1.45v1.45h-1.45zM350.3 763.7h1.45v1.45h-1.45zM312.0 771.1h1.45v1.45h-1.45z" fill="#2a2a2a"/>
<rect x="309.4" y="663.7" width="153.80" height="128.60" fill="none" stroke="#000" stroke-width="1.5"/>
<text x="309.86" y="806.80" font-family="Liberation Sans" font-size="11" fill="#111">10</text>
<text x="321.80" y="803.40" font-family="Liberation Sans" font-size="8" fill="#111">0</text>
<g transform="translate(302.20,791.74) rotate(-90)"><text x="0" y="0" font-family="Liberation Sans" font-size="11" fill="#111">10</text><text x="11.94" y="-3.4" font-family="Liberation Sans" font-size="8" fill="#111">0</text></g>
<text x="348.31" y="806.80" font-family="Liberation Sans" font-size="11" fill="#111">10</text>
<text x="360.25" y="803.40" font-family="Liberation Sans" font-size="8" fill="#111">1</text>
<g transform="translate(302.20,759.59) rotate(-90)"><text x="0" y="0" font-family="Liberation Sans" font-size="11" fill="#111">10</text><text x="11.94" y="-3.4" font-family="Liberation Sans" font-size="8" fill="#111">1</text></g>
<text x="386.76" y="806.80" font-family="Liberation Sans" font-size="11" fill="#111">10</text>
<text x="398.70" y="803.40" font-family="Liberation Sans" font-size="8" fill="#111">2</text>
<g transform="translate(302.20,727.44) rotate(-90)"><text x="0" y="0" font-family="Liberation Sans" font-size="11" fill="#111">10</text><text x="11.94" y="-3.4" font-family="Liberation Sans" font-size="8" fill="#111">2</text></g>
<text x="425.21" y="806.80" font-family="Liberation Sans" font-size="11" fill="#111">10</text>
<text x="437.15" y="803.40" font-family="Liberation Sans" font-size="8" fill="#111">3</text>
<g transform="translate(302.20,695.29) rotate(-90)"><text x="0" y="0" font-family="Liberation Sans" font-size="11" fill="#111">10</text><text x="11.94" y="-3.4" font-family="Liberation Sans" font-size="8" fill="#111">3</text></g>
<text x="463.66" y="806.80" font-family="Liberation Sans" font-size="11" fill="#111">10</text>
<text x="475.60" y="803.40" font-family="Liberation Sans" font-size="8" fill="#111">4</text>
<g transform="translate(302.20,663.14) rotate(-90)"><text x="0" y="0" font-family="Liberation Sans" font-size="11" fill="#111">10</text><text x="11.94" y="-3.4" font-family="Liberation Sans" font-size="8" fill="#111">4</text></g>
<text transform="translate(337.47,636.10) scale(1.075,1)" font-family="Liberation Serif" font-size="17" fill="#111">Lung -/-</text>
<text x="275.09" y="636.70" font-family="Liberation Sans" font-size="12" fill="#111" >1.3%</text>
<text x="470.34" y="636.25" font-family="Liberation Sans" font-size="12" fill="#111" >11.3%</text>
<text x="270.79" y="827.50" font-family="Liberation Sans" font-size="12" fill="#111" >34.5%</text>
<text x="470.02" y="828.00" font-family="Liberation Sans" font-size="12" fill="#111" >52.9%</text>
<text x="369.59" y="823.50" font-family="Liberation Sans" font-size="12" fill="#111" >eGFP</text>
<text transform="translate(286.80,750.01) rotate(-90)" font-family="Liberation Sans" font-size="12" fill="#111">CD8-PE</text>
</svg></body></html>
